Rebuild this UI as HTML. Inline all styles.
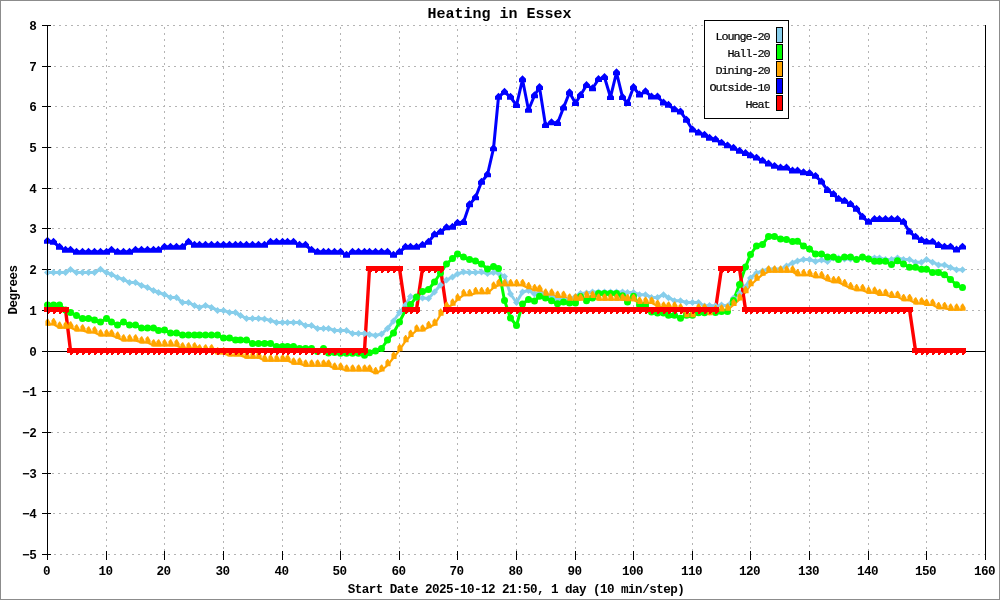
<!DOCTYPE html><html><head><meta charset="utf-8"><style>html,body{margin:0;padding:0;background:#fff;}svg{display:block;will-change:transform}</style></head><body>
<svg width="1000" height="600" viewBox="0 0 1000 600">
<rect x="0" y="0" width="1000" height="600" fill="#fff"/>
<rect x="0.5" y="0.5" width="999" height="599" fill="none" stroke="#8c8c8c" stroke-width="1"/>
<path d="M53 25h2v1h-2ZM59 25h2v1h-2ZM65 25h2v1h-2ZM71 25h2v1h-2ZM77 25h2v1h-2ZM83 25h2v1h-2ZM89 25h2v1h-2ZM95 25h2v1h-2ZM101 25h2v1h-2ZM107 25h2v1h-2ZM113 25h2v1h-2ZM119 25h2v1h-2ZM125 25h2v1h-2ZM131 25h2v1h-2ZM137 25h2v1h-2ZM143 25h2v1h-2ZM149 25h2v1h-2ZM155 25h2v1h-2ZM161 25h2v1h-2ZM167 25h2v1h-2ZM173 25h2v1h-2ZM179 25h2v1h-2ZM185 25h2v1h-2ZM191 25h2v1h-2ZM197 25h2v1h-2ZM203 25h2v1h-2ZM209 25h2v1h-2ZM215 25h2v1h-2ZM221 25h2v1h-2ZM227 25h2v1h-2ZM233 25h2v1h-2ZM239 25h2v1h-2ZM245 25h2v1h-2ZM251 25h2v1h-2ZM257 25h2v1h-2ZM263 25h2v1h-2ZM269 25h2v1h-2ZM275 25h2v1h-2ZM281 25h2v1h-2ZM287 25h2v1h-2ZM293 25h2v1h-2ZM299 25h2v1h-2ZM305 25h2v1h-2ZM311 25h2v1h-2ZM317 25h2v1h-2ZM323 25h2v1h-2ZM329 25h2v1h-2ZM335 25h2v1h-2ZM341 25h2v1h-2ZM347 25h2v1h-2ZM353 25h2v1h-2ZM359 25h2v1h-2ZM365 25h2v1h-2ZM371 25h2v1h-2ZM377 25h2v1h-2ZM383 25h2v1h-2ZM389 25h2v1h-2ZM395 25h2v1h-2ZM401 25h2v1h-2ZM407 25h2v1h-2ZM413 25h2v1h-2ZM419 25h2v1h-2ZM425 25h2v1h-2ZM431 25h2v1h-2ZM437 25h2v1h-2ZM443 25h2v1h-2ZM449 25h2v1h-2ZM455 25h2v1h-2ZM461 25h2v1h-2ZM467 25h2v1h-2ZM473 25h2v1h-2ZM479 25h2v1h-2ZM485 25h2v1h-2ZM491 25h2v1h-2ZM497 25h2v1h-2ZM503 25h2v1h-2ZM509 25h2v1h-2ZM515 25h2v1h-2ZM521 25h2v1h-2ZM527 25h2v1h-2ZM533 25h2v1h-2ZM539 25h2v1h-2ZM545 25h2v1h-2ZM551 25h2v1h-2ZM557 25h2v1h-2ZM563 25h2v1h-2ZM569 25h2v1h-2ZM575 25h2v1h-2ZM581 25h2v1h-2ZM587 25h2v1h-2ZM593 25h2v1h-2ZM599 25h2v1h-2ZM605 25h2v1h-2ZM611 25h2v1h-2ZM617 25h2v1h-2ZM623 25h2v1h-2ZM629 25h2v1h-2ZM635 25h2v1h-2ZM641 25h2v1h-2ZM647 25h2v1h-2ZM653 25h2v1h-2ZM659 25h2v1h-2ZM665 25h2v1h-2ZM671 25h2v1h-2ZM677 25h2v1h-2ZM683 25h2v1h-2ZM689 25h2v1h-2ZM695 25h2v1h-2ZM701 25h2v1h-2ZM707 25h2v1h-2ZM713 25h2v1h-2ZM719 25h2v1h-2ZM725 25h2v1h-2ZM731 25h2v1h-2ZM737 25h2v1h-2ZM743 25h2v1h-2ZM749 25h2v1h-2ZM755 25h2v1h-2ZM761 25h2v1h-2ZM767 25h2v1h-2ZM773 25h2v1h-2ZM779 25h2v1h-2ZM785 25h2v1h-2ZM791 25h2v1h-2ZM797 25h2v1h-2ZM803 25h2v1h-2ZM809 25h2v1h-2ZM815 25h2v1h-2ZM821 25h2v1h-2ZM827 25h2v1h-2ZM833 25h2v1h-2ZM839 25h2v1h-2ZM845 25h2v1h-2ZM851 25h2v1h-2ZM857 25h2v1h-2ZM863 25h2v1h-2ZM869 25h2v1h-2ZM875 25h2v1h-2ZM881 25h2v1h-2ZM887 25h2v1h-2ZM893 25h2v1h-2ZM899 25h2v1h-2ZM905 25h2v1h-2ZM911 25h2v1h-2ZM917 25h2v1h-2ZM923 25h2v1h-2ZM929 25h2v1h-2ZM935 25h2v1h-2ZM941 25h2v1h-2ZM947 25h2v1h-2ZM953 25h2v1h-2ZM959 25h2v1h-2ZM965 25h2v1h-2ZM971 25h2v1h-2ZM977 25h2v1h-2ZM983 25h2v1h-2ZM48 66h2v1h-2ZM54 66h2v1h-2ZM60 66h2v1h-2ZM66 66h2v1h-2ZM72 66h2v1h-2ZM78 66h2v1h-2ZM84 66h2v1h-2ZM90 66h2v1h-2ZM96 66h2v1h-2ZM102 66h2v1h-2ZM108 66h2v1h-2ZM114 66h2v1h-2ZM120 66h2v1h-2ZM126 66h2v1h-2ZM132 66h2v1h-2ZM138 66h2v1h-2ZM144 66h2v1h-2ZM150 66h2v1h-2ZM156 66h2v1h-2ZM162 66h2v1h-2ZM168 66h2v1h-2ZM174 66h2v1h-2ZM180 66h2v1h-2ZM186 66h2v1h-2ZM192 66h2v1h-2ZM198 66h2v1h-2ZM204 66h2v1h-2ZM210 66h2v1h-2ZM216 66h2v1h-2ZM222 66h2v1h-2ZM228 66h2v1h-2ZM234 66h2v1h-2ZM240 66h2v1h-2ZM246 66h2v1h-2ZM252 66h2v1h-2ZM258 66h2v1h-2ZM264 66h2v1h-2ZM270 66h2v1h-2ZM276 66h2v1h-2ZM282 66h2v1h-2ZM288 66h2v1h-2ZM294 66h2v1h-2ZM300 66h2v1h-2ZM306 66h2v1h-2ZM312 66h2v1h-2ZM318 66h2v1h-2ZM324 66h2v1h-2ZM330 66h2v1h-2ZM336 66h2v1h-2ZM342 66h2v1h-2ZM348 66h2v1h-2ZM354 66h2v1h-2ZM360 66h2v1h-2ZM366 66h2v1h-2ZM372 66h2v1h-2ZM378 66h2v1h-2ZM384 66h2v1h-2ZM390 66h2v1h-2ZM396 66h2v1h-2ZM402 66h2v1h-2ZM408 66h2v1h-2ZM414 66h2v1h-2ZM420 66h2v1h-2ZM426 66h2v1h-2ZM432 66h2v1h-2ZM438 66h2v1h-2ZM444 66h2v1h-2ZM450 66h2v1h-2ZM456 66h2v1h-2ZM462 66h2v1h-2ZM468 66h2v1h-2ZM474 66h2v1h-2ZM480 66h2v1h-2ZM486 66h2v1h-2ZM492 66h2v1h-2ZM498 66h2v1h-2ZM504 66h2v1h-2ZM510 66h2v1h-2ZM516 66h2v1h-2ZM522 66h2v1h-2ZM528 66h2v1h-2ZM534 66h2v1h-2ZM540 66h2v1h-2ZM546 66h2v1h-2ZM552 66h2v1h-2ZM558 66h2v1h-2ZM564 66h2v1h-2ZM570 66h2v1h-2ZM576 66h2v1h-2ZM582 66h2v1h-2ZM588 66h2v1h-2ZM594 66h2v1h-2ZM600 66h2v1h-2ZM606 66h2v1h-2ZM612 66h2v1h-2ZM618 66h2v1h-2ZM624 66h2v1h-2ZM630 66h2v1h-2ZM636 66h2v1h-2ZM642 66h2v1h-2ZM648 66h2v1h-2ZM654 66h2v1h-2ZM660 66h2v1h-2ZM666 66h2v1h-2ZM672 66h2v1h-2ZM678 66h2v1h-2ZM684 66h2v1h-2ZM690 66h2v1h-2ZM696 66h2v1h-2ZM702 66h2v1h-2ZM708 66h2v1h-2ZM714 66h2v1h-2ZM720 66h2v1h-2ZM726 66h2v1h-2ZM732 66h2v1h-2ZM738 66h2v1h-2ZM744 66h2v1h-2ZM750 66h2v1h-2ZM756 66h2v1h-2ZM762 66h2v1h-2ZM768 66h2v1h-2ZM774 66h2v1h-2ZM780 66h2v1h-2ZM786 66h2v1h-2ZM792 66h2v1h-2ZM798 66h2v1h-2ZM804 66h2v1h-2ZM810 66h2v1h-2ZM816 66h2v1h-2ZM822 66h2v1h-2ZM828 66h2v1h-2ZM834 66h2v1h-2ZM840 66h2v1h-2ZM846 66h2v1h-2ZM852 66h2v1h-2ZM858 66h2v1h-2ZM864 66h2v1h-2ZM870 66h2v1h-2ZM876 66h2v1h-2ZM882 66h2v1h-2ZM888 66h2v1h-2ZM894 66h2v1h-2ZM900 66h2v1h-2ZM906 66h2v1h-2ZM912 66h2v1h-2ZM918 66h2v1h-2ZM924 66h2v1h-2ZM930 66h2v1h-2ZM936 66h2v1h-2ZM942 66h2v1h-2ZM948 66h2v1h-2ZM954 66h2v1h-2ZM960 66h2v1h-2ZM966 66h2v1h-2ZM972 66h2v1h-2ZM978 66h2v1h-2ZM984 66h2v1h-2ZM49 106h2v1h-2ZM55 106h2v1h-2ZM61 106h2v1h-2ZM67 106h2v1h-2ZM73 106h2v1h-2ZM79 106h2v1h-2ZM85 106h2v1h-2ZM91 106h2v1h-2ZM97 106h2v1h-2ZM103 106h2v1h-2ZM109 106h2v1h-2ZM115 106h2v1h-2ZM121 106h2v1h-2ZM127 106h2v1h-2ZM133 106h2v1h-2ZM139 106h2v1h-2ZM145 106h2v1h-2ZM151 106h2v1h-2ZM157 106h2v1h-2ZM163 106h2v1h-2ZM169 106h2v1h-2ZM175 106h2v1h-2ZM181 106h2v1h-2ZM187 106h2v1h-2ZM193 106h2v1h-2ZM199 106h2v1h-2ZM205 106h2v1h-2ZM211 106h2v1h-2ZM217 106h2v1h-2ZM223 106h2v1h-2ZM229 106h2v1h-2ZM235 106h2v1h-2ZM241 106h2v1h-2ZM247 106h2v1h-2ZM253 106h2v1h-2ZM259 106h2v1h-2ZM265 106h2v1h-2ZM271 106h2v1h-2ZM277 106h2v1h-2ZM283 106h2v1h-2ZM289 106h2v1h-2ZM295 106h2v1h-2ZM301 106h2v1h-2ZM307 106h2v1h-2ZM313 106h2v1h-2ZM319 106h2v1h-2ZM325 106h2v1h-2ZM331 106h2v1h-2ZM337 106h2v1h-2ZM343 106h2v1h-2ZM349 106h2v1h-2ZM355 106h2v1h-2ZM361 106h2v1h-2ZM367 106h2v1h-2ZM373 106h2v1h-2ZM379 106h2v1h-2ZM385 106h2v1h-2ZM391 106h2v1h-2ZM397 106h2v1h-2ZM403 106h2v1h-2ZM409 106h2v1h-2ZM415 106h2v1h-2ZM421 106h2v1h-2ZM427 106h2v1h-2ZM433 106h2v1h-2ZM439 106h2v1h-2ZM445 106h2v1h-2ZM451 106h2v1h-2ZM457 106h2v1h-2ZM463 106h2v1h-2ZM469 106h2v1h-2ZM475 106h2v1h-2ZM481 106h2v1h-2ZM487 106h2v1h-2ZM493 106h2v1h-2ZM499 106h2v1h-2ZM505 106h2v1h-2ZM511 106h2v1h-2ZM517 106h2v1h-2ZM523 106h2v1h-2ZM529 106h2v1h-2ZM535 106h2v1h-2ZM541 106h2v1h-2ZM547 106h2v1h-2ZM553 106h2v1h-2ZM559 106h2v1h-2ZM565 106h2v1h-2ZM571 106h2v1h-2ZM577 106h2v1h-2ZM583 106h2v1h-2ZM589 106h2v1h-2ZM595 106h2v1h-2ZM601 106h2v1h-2ZM607 106h2v1h-2ZM613 106h2v1h-2ZM619 106h2v1h-2ZM625 106h2v1h-2ZM631 106h2v1h-2ZM637 106h2v1h-2ZM643 106h2v1h-2ZM649 106h2v1h-2ZM655 106h2v1h-2ZM661 106h2v1h-2ZM667 106h2v1h-2ZM673 106h2v1h-2ZM679 106h2v1h-2ZM685 106h2v1h-2ZM691 106h2v1h-2ZM697 106h2v1h-2ZM703 106h2v1h-2ZM709 106h2v1h-2ZM715 106h2v1h-2ZM721 106h2v1h-2ZM727 106h2v1h-2ZM733 106h2v1h-2ZM739 106h2v1h-2ZM745 106h2v1h-2ZM751 106h2v1h-2ZM757 106h2v1h-2ZM763 106h2v1h-2ZM769 106h2v1h-2ZM775 106h2v1h-2ZM781 106h2v1h-2ZM787 106h2v1h-2ZM793 106h2v1h-2ZM799 106h2v1h-2ZM805 106h2v1h-2ZM811 106h2v1h-2ZM817 106h2v1h-2ZM823 106h2v1h-2ZM829 106h2v1h-2ZM835 106h2v1h-2ZM841 106h2v1h-2ZM847 106h2v1h-2ZM853 106h2v1h-2ZM859 106h2v1h-2ZM865 106h2v1h-2ZM871 106h2v1h-2ZM877 106h2v1h-2ZM883 106h2v1h-2ZM889 106h2v1h-2ZM895 106h2v1h-2ZM901 106h2v1h-2ZM907 106h2v1h-2ZM913 106h2v1h-2ZM919 106h2v1h-2ZM925 106h2v1h-2ZM931 106h2v1h-2ZM937 106h2v1h-2ZM943 106h2v1h-2ZM949 106h2v1h-2ZM955 106h2v1h-2ZM961 106h2v1h-2ZM967 106h2v1h-2ZM973 106h2v1h-2ZM979 106h2v1h-2ZM50 147h2v1h-2ZM56 147h2v1h-2ZM62 147h2v1h-2ZM68 147h2v1h-2ZM74 147h2v1h-2ZM80 147h2v1h-2ZM86 147h2v1h-2ZM92 147h2v1h-2ZM98 147h2v1h-2ZM104 147h2v1h-2ZM110 147h2v1h-2ZM116 147h2v1h-2ZM122 147h2v1h-2ZM128 147h2v1h-2ZM134 147h2v1h-2ZM140 147h2v1h-2ZM146 147h2v1h-2ZM152 147h2v1h-2ZM158 147h2v1h-2ZM164 147h2v1h-2ZM170 147h2v1h-2ZM176 147h2v1h-2ZM182 147h2v1h-2ZM188 147h2v1h-2ZM194 147h2v1h-2ZM200 147h2v1h-2ZM206 147h2v1h-2ZM212 147h2v1h-2ZM218 147h2v1h-2ZM224 147h2v1h-2ZM230 147h2v1h-2ZM236 147h2v1h-2ZM242 147h2v1h-2ZM248 147h2v1h-2ZM254 147h2v1h-2ZM260 147h2v1h-2ZM266 147h2v1h-2ZM272 147h2v1h-2ZM278 147h2v1h-2ZM284 147h2v1h-2ZM290 147h2v1h-2ZM296 147h2v1h-2ZM302 147h2v1h-2ZM308 147h2v1h-2ZM314 147h2v1h-2ZM320 147h2v1h-2ZM326 147h2v1h-2ZM332 147h2v1h-2ZM338 147h2v1h-2ZM344 147h2v1h-2ZM350 147h2v1h-2ZM356 147h2v1h-2ZM362 147h2v1h-2ZM368 147h2v1h-2ZM374 147h2v1h-2ZM380 147h2v1h-2ZM386 147h2v1h-2ZM392 147h2v1h-2ZM398 147h2v1h-2ZM404 147h2v1h-2ZM410 147h2v1h-2ZM416 147h2v1h-2ZM422 147h2v1h-2ZM428 147h2v1h-2ZM434 147h2v1h-2ZM440 147h2v1h-2ZM446 147h2v1h-2ZM452 147h2v1h-2ZM458 147h2v1h-2ZM464 147h2v1h-2ZM470 147h2v1h-2ZM476 147h2v1h-2ZM482 147h2v1h-2ZM488 147h2v1h-2ZM494 147h2v1h-2ZM500 147h2v1h-2ZM506 147h2v1h-2ZM512 147h2v1h-2ZM518 147h2v1h-2ZM524 147h2v1h-2ZM530 147h2v1h-2ZM536 147h2v1h-2ZM542 147h2v1h-2ZM548 147h2v1h-2ZM554 147h2v1h-2ZM560 147h2v1h-2ZM566 147h2v1h-2ZM572 147h2v1h-2ZM578 147h2v1h-2ZM584 147h2v1h-2ZM590 147h2v1h-2ZM596 147h2v1h-2ZM602 147h2v1h-2ZM608 147h2v1h-2ZM614 147h2v1h-2ZM620 147h2v1h-2ZM626 147h2v1h-2ZM632 147h2v1h-2ZM638 147h2v1h-2ZM644 147h2v1h-2ZM650 147h2v1h-2ZM656 147h2v1h-2ZM662 147h2v1h-2ZM668 147h2v1h-2ZM674 147h2v1h-2ZM680 147h2v1h-2ZM686 147h2v1h-2ZM692 147h2v1h-2ZM698 147h2v1h-2ZM704 147h2v1h-2ZM710 147h2v1h-2ZM716 147h2v1h-2ZM722 147h2v1h-2ZM728 147h2v1h-2ZM734 147h2v1h-2ZM740 147h2v1h-2ZM746 147h2v1h-2ZM752 147h2v1h-2ZM758 147h2v1h-2ZM764 147h2v1h-2ZM770 147h2v1h-2ZM776 147h2v1h-2ZM782 147h2v1h-2ZM788 147h2v1h-2ZM794 147h2v1h-2ZM800 147h2v1h-2ZM806 147h2v1h-2ZM812 147h2v1h-2ZM818 147h2v1h-2ZM824 147h2v1h-2ZM830 147h2v1h-2ZM836 147h2v1h-2ZM842 147h2v1h-2ZM848 147h2v1h-2ZM854 147h2v1h-2ZM860 147h2v1h-2ZM866 147h2v1h-2ZM872 147h2v1h-2ZM878 147h2v1h-2ZM884 147h2v1h-2ZM890 147h2v1h-2ZM896 147h2v1h-2ZM902 147h2v1h-2ZM908 147h2v1h-2ZM914 147h2v1h-2ZM920 147h2v1h-2ZM926 147h2v1h-2ZM932 147h2v1h-2ZM938 147h2v1h-2ZM944 147h2v1h-2ZM950 147h2v1h-2ZM956 147h2v1h-2ZM962 147h2v1h-2ZM968 147h2v1h-2ZM974 147h2v1h-2ZM980 147h2v1h-2ZM51 188h2v1h-2ZM57 188h2v1h-2ZM63 188h2v1h-2ZM69 188h2v1h-2ZM75 188h2v1h-2ZM81 188h2v1h-2ZM87 188h2v1h-2ZM93 188h2v1h-2ZM99 188h2v1h-2ZM105 188h2v1h-2ZM111 188h2v1h-2ZM117 188h2v1h-2ZM123 188h2v1h-2ZM129 188h2v1h-2ZM135 188h2v1h-2ZM141 188h2v1h-2ZM147 188h2v1h-2ZM153 188h2v1h-2ZM159 188h2v1h-2ZM165 188h2v1h-2ZM171 188h2v1h-2ZM177 188h2v1h-2ZM183 188h2v1h-2ZM189 188h2v1h-2ZM195 188h2v1h-2ZM201 188h2v1h-2ZM207 188h2v1h-2ZM213 188h2v1h-2ZM219 188h2v1h-2ZM225 188h2v1h-2ZM231 188h2v1h-2ZM237 188h2v1h-2ZM243 188h2v1h-2ZM249 188h2v1h-2ZM255 188h2v1h-2ZM261 188h2v1h-2ZM267 188h2v1h-2ZM273 188h2v1h-2ZM279 188h2v1h-2ZM285 188h2v1h-2ZM291 188h2v1h-2ZM297 188h2v1h-2ZM303 188h2v1h-2ZM309 188h2v1h-2ZM315 188h2v1h-2ZM321 188h2v1h-2ZM327 188h2v1h-2ZM333 188h2v1h-2ZM339 188h2v1h-2ZM345 188h2v1h-2ZM351 188h2v1h-2ZM357 188h2v1h-2ZM363 188h2v1h-2ZM369 188h2v1h-2ZM375 188h2v1h-2ZM381 188h2v1h-2ZM387 188h2v1h-2ZM393 188h2v1h-2ZM399 188h2v1h-2ZM405 188h2v1h-2ZM411 188h2v1h-2ZM417 188h2v1h-2ZM423 188h2v1h-2ZM429 188h2v1h-2ZM435 188h2v1h-2ZM441 188h2v1h-2ZM447 188h2v1h-2ZM453 188h2v1h-2ZM459 188h2v1h-2ZM465 188h2v1h-2ZM471 188h2v1h-2ZM477 188h2v1h-2ZM483 188h2v1h-2ZM489 188h2v1h-2ZM495 188h2v1h-2ZM501 188h2v1h-2ZM507 188h2v1h-2ZM513 188h2v1h-2ZM519 188h2v1h-2ZM525 188h2v1h-2ZM531 188h2v1h-2ZM537 188h2v1h-2ZM543 188h2v1h-2ZM549 188h2v1h-2ZM555 188h2v1h-2ZM561 188h2v1h-2ZM567 188h2v1h-2ZM573 188h2v1h-2ZM579 188h2v1h-2ZM585 188h2v1h-2ZM591 188h2v1h-2ZM597 188h2v1h-2ZM603 188h2v1h-2ZM609 188h2v1h-2ZM615 188h2v1h-2ZM621 188h2v1h-2ZM627 188h2v1h-2ZM633 188h2v1h-2ZM639 188h2v1h-2ZM645 188h2v1h-2ZM651 188h2v1h-2ZM657 188h2v1h-2ZM663 188h2v1h-2ZM669 188h2v1h-2ZM675 188h2v1h-2ZM681 188h2v1h-2ZM687 188h2v1h-2ZM693 188h2v1h-2ZM699 188h2v1h-2ZM705 188h2v1h-2ZM711 188h2v1h-2ZM717 188h2v1h-2ZM723 188h2v1h-2ZM729 188h2v1h-2ZM735 188h2v1h-2ZM741 188h2v1h-2ZM747 188h2v1h-2ZM753 188h2v1h-2ZM759 188h2v1h-2ZM765 188h2v1h-2ZM771 188h2v1h-2ZM777 188h2v1h-2ZM783 188h2v1h-2ZM789 188h2v1h-2ZM795 188h2v1h-2ZM801 188h2v1h-2ZM807 188h2v1h-2ZM813 188h2v1h-2ZM819 188h2v1h-2ZM825 188h2v1h-2ZM831 188h2v1h-2ZM837 188h2v1h-2ZM843 188h2v1h-2ZM849 188h2v1h-2ZM855 188h2v1h-2ZM861 188h2v1h-2ZM867 188h2v1h-2ZM873 188h2v1h-2ZM879 188h2v1h-2ZM885 188h2v1h-2ZM891 188h2v1h-2ZM897 188h2v1h-2ZM903 188h2v1h-2ZM909 188h2v1h-2ZM915 188h2v1h-2ZM921 188h2v1h-2ZM927 188h2v1h-2ZM933 188h2v1h-2ZM939 188h2v1h-2ZM945 188h2v1h-2ZM951 188h2v1h-2ZM957 188h2v1h-2ZM963 188h2v1h-2ZM969 188h2v1h-2ZM975 188h2v1h-2ZM981 188h2v1h-2ZM52 228h2v1h-2ZM58 228h2v1h-2ZM64 228h2v1h-2ZM70 228h2v1h-2ZM76 228h2v1h-2ZM82 228h2v1h-2ZM88 228h2v1h-2ZM94 228h2v1h-2ZM100 228h2v1h-2ZM106 228h2v1h-2ZM112 228h2v1h-2ZM118 228h2v1h-2ZM124 228h2v1h-2ZM130 228h2v1h-2ZM136 228h2v1h-2ZM142 228h2v1h-2ZM148 228h2v1h-2ZM154 228h2v1h-2ZM160 228h2v1h-2ZM166 228h2v1h-2ZM172 228h2v1h-2ZM178 228h2v1h-2ZM184 228h2v1h-2ZM190 228h2v1h-2ZM196 228h2v1h-2ZM202 228h2v1h-2ZM208 228h2v1h-2ZM214 228h2v1h-2ZM220 228h2v1h-2ZM226 228h2v1h-2ZM232 228h2v1h-2ZM238 228h2v1h-2ZM244 228h2v1h-2ZM250 228h2v1h-2ZM256 228h2v1h-2ZM262 228h2v1h-2ZM268 228h2v1h-2ZM274 228h2v1h-2ZM280 228h2v1h-2ZM286 228h2v1h-2ZM292 228h2v1h-2ZM298 228h2v1h-2ZM304 228h2v1h-2ZM310 228h2v1h-2ZM316 228h2v1h-2ZM322 228h2v1h-2ZM328 228h2v1h-2ZM334 228h2v1h-2ZM340 228h2v1h-2ZM346 228h2v1h-2ZM352 228h2v1h-2ZM358 228h2v1h-2ZM364 228h2v1h-2ZM370 228h2v1h-2ZM376 228h2v1h-2ZM382 228h2v1h-2ZM388 228h2v1h-2ZM394 228h2v1h-2ZM400 228h2v1h-2ZM406 228h2v1h-2ZM412 228h2v1h-2ZM418 228h2v1h-2ZM424 228h2v1h-2ZM430 228h2v1h-2ZM436 228h2v1h-2ZM442 228h2v1h-2ZM448 228h2v1h-2ZM454 228h2v1h-2ZM460 228h2v1h-2ZM466 228h2v1h-2ZM472 228h2v1h-2ZM478 228h2v1h-2ZM484 228h2v1h-2ZM490 228h2v1h-2ZM496 228h2v1h-2ZM502 228h2v1h-2ZM508 228h2v1h-2ZM514 228h2v1h-2ZM520 228h2v1h-2ZM526 228h2v1h-2ZM532 228h2v1h-2ZM538 228h2v1h-2ZM544 228h2v1h-2ZM550 228h2v1h-2ZM556 228h2v1h-2ZM562 228h2v1h-2ZM568 228h2v1h-2ZM574 228h2v1h-2ZM580 228h2v1h-2ZM586 228h2v1h-2ZM592 228h2v1h-2ZM598 228h2v1h-2ZM604 228h2v1h-2ZM610 228h2v1h-2ZM616 228h2v1h-2ZM622 228h2v1h-2ZM628 228h2v1h-2ZM634 228h2v1h-2ZM640 228h2v1h-2ZM646 228h2v1h-2ZM652 228h2v1h-2ZM658 228h2v1h-2ZM664 228h2v1h-2ZM670 228h2v1h-2ZM676 228h2v1h-2ZM682 228h2v1h-2ZM688 228h2v1h-2ZM694 228h2v1h-2ZM700 228h2v1h-2ZM706 228h2v1h-2ZM712 228h2v1h-2ZM718 228h2v1h-2ZM724 228h2v1h-2ZM730 228h2v1h-2ZM736 228h2v1h-2ZM742 228h2v1h-2ZM748 228h2v1h-2ZM754 228h2v1h-2ZM760 228h2v1h-2ZM766 228h2v1h-2ZM772 228h2v1h-2ZM778 228h2v1h-2ZM784 228h2v1h-2ZM790 228h2v1h-2ZM796 228h2v1h-2ZM802 228h2v1h-2ZM808 228h2v1h-2ZM814 228h2v1h-2ZM820 228h2v1h-2ZM826 228h2v1h-2ZM832 228h2v1h-2ZM838 228h2v1h-2ZM844 228h2v1h-2ZM850 228h2v1h-2ZM856 228h2v1h-2ZM862 228h2v1h-2ZM868 228h2v1h-2ZM874 228h2v1h-2ZM880 228h2v1h-2ZM886 228h2v1h-2ZM892 228h2v1h-2ZM898 228h2v1h-2ZM904 228h2v1h-2ZM910 228h2v1h-2ZM916 228h2v1h-2ZM922 228h2v1h-2ZM928 228h2v1h-2ZM934 228h2v1h-2ZM940 228h2v1h-2ZM946 228h2v1h-2ZM952 228h2v1h-2ZM958 228h2v1h-2ZM964 228h2v1h-2ZM970 228h2v1h-2ZM976 228h2v1h-2ZM982 228h2v1h-2ZM53 269h2v1h-2ZM59 269h2v1h-2ZM65 269h2v1h-2ZM71 269h2v1h-2ZM77 269h2v1h-2ZM83 269h2v1h-2ZM89 269h2v1h-2ZM95 269h2v1h-2ZM101 269h2v1h-2ZM107 269h2v1h-2ZM113 269h2v1h-2ZM119 269h2v1h-2ZM125 269h2v1h-2ZM131 269h2v1h-2ZM137 269h2v1h-2ZM143 269h2v1h-2ZM149 269h2v1h-2ZM155 269h2v1h-2ZM161 269h2v1h-2ZM167 269h2v1h-2ZM173 269h2v1h-2ZM179 269h2v1h-2ZM185 269h2v1h-2ZM191 269h2v1h-2ZM197 269h2v1h-2ZM203 269h2v1h-2ZM209 269h2v1h-2ZM215 269h2v1h-2ZM221 269h2v1h-2ZM227 269h2v1h-2ZM233 269h2v1h-2ZM239 269h2v1h-2ZM245 269h2v1h-2ZM251 269h2v1h-2ZM257 269h2v1h-2ZM263 269h2v1h-2ZM269 269h2v1h-2ZM275 269h2v1h-2ZM281 269h2v1h-2ZM287 269h2v1h-2ZM293 269h2v1h-2ZM299 269h2v1h-2ZM305 269h2v1h-2ZM311 269h2v1h-2ZM317 269h2v1h-2ZM323 269h2v1h-2ZM329 269h2v1h-2ZM335 269h2v1h-2ZM341 269h2v1h-2ZM347 269h2v1h-2ZM353 269h2v1h-2ZM359 269h2v1h-2ZM365 269h2v1h-2ZM371 269h2v1h-2ZM377 269h2v1h-2ZM383 269h2v1h-2ZM389 269h2v1h-2ZM395 269h2v1h-2ZM401 269h2v1h-2ZM407 269h2v1h-2ZM413 269h2v1h-2ZM419 269h2v1h-2ZM425 269h2v1h-2ZM431 269h2v1h-2ZM437 269h2v1h-2ZM443 269h2v1h-2ZM449 269h2v1h-2ZM455 269h2v1h-2ZM461 269h2v1h-2ZM467 269h2v1h-2ZM473 269h2v1h-2ZM479 269h2v1h-2ZM485 269h2v1h-2ZM491 269h2v1h-2ZM497 269h2v1h-2ZM503 269h2v1h-2ZM509 269h2v1h-2ZM515 269h2v1h-2ZM521 269h2v1h-2ZM527 269h2v1h-2ZM533 269h2v1h-2ZM539 269h2v1h-2ZM545 269h2v1h-2ZM551 269h2v1h-2ZM557 269h2v1h-2ZM563 269h2v1h-2ZM569 269h2v1h-2ZM575 269h2v1h-2ZM581 269h2v1h-2ZM587 269h2v1h-2ZM593 269h2v1h-2ZM599 269h2v1h-2ZM605 269h2v1h-2ZM611 269h2v1h-2ZM617 269h2v1h-2ZM623 269h2v1h-2ZM629 269h2v1h-2ZM635 269h2v1h-2ZM641 269h2v1h-2ZM647 269h2v1h-2ZM653 269h2v1h-2ZM659 269h2v1h-2ZM665 269h2v1h-2ZM671 269h2v1h-2ZM677 269h2v1h-2ZM683 269h2v1h-2ZM689 269h2v1h-2ZM695 269h2v1h-2ZM701 269h2v1h-2ZM707 269h2v1h-2ZM713 269h2v1h-2ZM719 269h2v1h-2ZM725 269h2v1h-2ZM731 269h2v1h-2ZM737 269h2v1h-2ZM743 269h2v1h-2ZM749 269h2v1h-2ZM755 269h2v1h-2ZM761 269h2v1h-2ZM767 269h2v1h-2ZM773 269h2v1h-2ZM779 269h2v1h-2ZM785 269h2v1h-2ZM791 269h2v1h-2ZM797 269h2v1h-2ZM803 269h2v1h-2ZM809 269h2v1h-2ZM815 269h2v1h-2ZM821 269h2v1h-2ZM827 269h2v1h-2ZM833 269h2v1h-2ZM839 269h2v1h-2ZM845 269h2v1h-2ZM851 269h2v1h-2ZM857 269h2v1h-2ZM863 269h2v1h-2ZM869 269h2v1h-2ZM875 269h2v1h-2ZM881 269h2v1h-2ZM887 269h2v1h-2ZM893 269h2v1h-2ZM899 269h2v1h-2ZM905 269h2v1h-2ZM911 269h2v1h-2ZM917 269h2v1h-2ZM923 269h2v1h-2ZM929 269h2v1h-2ZM935 269h2v1h-2ZM941 269h2v1h-2ZM947 269h2v1h-2ZM953 269h2v1h-2ZM959 269h2v1h-2ZM965 269h2v1h-2ZM971 269h2v1h-2ZM977 269h2v1h-2ZM983 269h2v1h-2ZM48 310h2v1h-2ZM54 310h2v1h-2ZM60 310h2v1h-2ZM66 310h2v1h-2ZM72 310h2v1h-2ZM78 310h2v1h-2ZM84 310h2v1h-2ZM90 310h2v1h-2ZM96 310h2v1h-2ZM102 310h2v1h-2ZM108 310h2v1h-2ZM114 310h2v1h-2ZM120 310h2v1h-2ZM126 310h2v1h-2ZM132 310h2v1h-2ZM138 310h2v1h-2ZM144 310h2v1h-2ZM150 310h2v1h-2ZM156 310h2v1h-2ZM162 310h2v1h-2ZM168 310h2v1h-2ZM174 310h2v1h-2ZM180 310h2v1h-2ZM186 310h2v1h-2ZM192 310h2v1h-2ZM198 310h2v1h-2ZM204 310h2v1h-2ZM210 310h2v1h-2ZM216 310h2v1h-2ZM222 310h2v1h-2ZM228 310h2v1h-2ZM234 310h2v1h-2ZM240 310h2v1h-2ZM246 310h2v1h-2ZM252 310h2v1h-2ZM258 310h2v1h-2ZM264 310h2v1h-2ZM270 310h2v1h-2ZM276 310h2v1h-2ZM282 310h2v1h-2ZM288 310h2v1h-2ZM294 310h2v1h-2ZM300 310h2v1h-2ZM306 310h2v1h-2ZM312 310h2v1h-2ZM318 310h2v1h-2ZM324 310h2v1h-2ZM330 310h2v1h-2ZM336 310h2v1h-2ZM342 310h2v1h-2ZM348 310h2v1h-2ZM354 310h2v1h-2ZM360 310h2v1h-2ZM366 310h2v1h-2ZM372 310h2v1h-2ZM378 310h2v1h-2ZM384 310h2v1h-2ZM390 310h2v1h-2ZM396 310h2v1h-2ZM402 310h2v1h-2ZM408 310h2v1h-2ZM414 310h2v1h-2ZM420 310h2v1h-2ZM426 310h2v1h-2ZM432 310h2v1h-2ZM438 310h2v1h-2ZM444 310h2v1h-2ZM450 310h2v1h-2ZM456 310h2v1h-2ZM462 310h2v1h-2ZM468 310h2v1h-2ZM474 310h2v1h-2ZM480 310h2v1h-2ZM486 310h2v1h-2ZM492 310h2v1h-2ZM498 310h2v1h-2ZM504 310h2v1h-2ZM510 310h2v1h-2ZM516 310h2v1h-2ZM522 310h2v1h-2ZM528 310h2v1h-2ZM534 310h2v1h-2ZM540 310h2v1h-2ZM546 310h2v1h-2ZM552 310h2v1h-2ZM558 310h2v1h-2ZM564 310h2v1h-2ZM570 310h2v1h-2ZM576 310h2v1h-2ZM582 310h2v1h-2ZM588 310h2v1h-2ZM594 310h2v1h-2ZM600 310h2v1h-2ZM606 310h2v1h-2ZM612 310h2v1h-2ZM618 310h2v1h-2ZM624 310h2v1h-2ZM630 310h2v1h-2ZM636 310h2v1h-2ZM642 310h2v1h-2ZM648 310h2v1h-2ZM654 310h2v1h-2ZM660 310h2v1h-2ZM666 310h2v1h-2ZM672 310h2v1h-2ZM678 310h2v1h-2ZM684 310h2v1h-2ZM690 310h2v1h-2ZM696 310h2v1h-2ZM702 310h2v1h-2ZM708 310h2v1h-2ZM714 310h2v1h-2ZM720 310h2v1h-2ZM726 310h2v1h-2ZM732 310h2v1h-2ZM738 310h2v1h-2ZM744 310h2v1h-2ZM750 310h2v1h-2ZM756 310h2v1h-2ZM762 310h2v1h-2ZM768 310h2v1h-2ZM774 310h2v1h-2ZM780 310h2v1h-2ZM786 310h2v1h-2ZM792 310h2v1h-2ZM798 310h2v1h-2ZM804 310h2v1h-2ZM810 310h2v1h-2ZM816 310h2v1h-2ZM822 310h2v1h-2ZM828 310h2v1h-2ZM834 310h2v1h-2ZM840 310h2v1h-2ZM846 310h2v1h-2ZM852 310h2v1h-2ZM858 310h2v1h-2ZM864 310h2v1h-2ZM870 310h2v1h-2ZM876 310h2v1h-2ZM882 310h2v1h-2ZM888 310h2v1h-2ZM894 310h2v1h-2ZM900 310h2v1h-2ZM906 310h2v1h-2ZM912 310h2v1h-2ZM918 310h2v1h-2ZM924 310h2v1h-2ZM930 310h2v1h-2ZM936 310h2v1h-2ZM942 310h2v1h-2ZM948 310h2v1h-2ZM954 310h2v1h-2ZM960 310h2v1h-2ZM966 310h2v1h-2ZM972 310h2v1h-2ZM978 310h2v1h-2ZM984 310h2v1h-2ZM50 391h2v1h-2ZM56 391h2v1h-2ZM62 391h2v1h-2ZM68 391h2v1h-2ZM74 391h2v1h-2ZM80 391h2v1h-2ZM86 391h2v1h-2ZM92 391h2v1h-2ZM98 391h2v1h-2ZM104 391h2v1h-2ZM110 391h2v1h-2ZM116 391h2v1h-2ZM122 391h2v1h-2ZM128 391h2v1h-2ZM134 391h2v1h-2ZM140 391h2v1h-2ZM146 391h2v1h-2ZM152 391h2v1h-2ZM158 391h2v1h-2ZM164 391h2v1h-2ZM170 391h2v1h-2ZM176 391h2v1h-2ZM182 391h2v1h-2ZM188 391h2v1h-2ZM194 391h2v1h-2ZM200 391h2v1h-2ZM206 391h2v1h-2ZM212 391h2v1h-2ZM218 391h2v1h-2ZM224 391h2v1h-2ZM230 391h2v1h-2ZM236 391h2v1h-2ZM242 391h2v1h-2ZM248 391h2v1h-2ZM254 391h2v1h-2ZM260 391h2v1h-2ZM266 391h2v1h-2ZM272 391h2v1h-2ZM278 391h2v1h-2ZM284 391h2v1h-2ZM290 391h2v1h-2ZM296 391h2v1h-2ZM302 391h2v1h-2ZM308 391h2v1h-2ZM314 391h2v1h-2ZM320 391h2v1h-2ZM326 391h2v1h-2ZM332 391h2v1h-2ZM338 391h2v1h-2ZM344 391h2v1h-2ZM350 391h2v1h-2ZM356 391h2v1h-2ZM362 391h2v1h-2ZM368 391h2v1h-2ZM374 391h2v1h-2ZM380 391h2v1h-2ZM386 391h2v1h-2ZM392 391h2v1h-2ZM398 391h2v1h-2ZM404 391h2v1h-2ZM410 391h2v1h-2ZM416 391h2v1h-2ZM422 391h2v1h-2ZM428 391h2v1h-2ZM434 391h2v1h-2ZM440 391h2v1h-2ZM446 391h2v1h-2ZM452 391h2v1h-2ZM458 391h2v1h-2ZM464 391h2v1h-2ZM470 391h2v1h-2ZM476 391h2v1h-2ZM482 391h2v1h-2ZM488 391h2v1h-2ZM494 391h2v1h-2ZM500 391h2v1h-2ZM506 391h2v1h-2ZM512 391h2v1h-2ZM518 391h2v1h-2ZM524 391h2v1h-2ZM530 391h2v1h-2ZM536 391h2v1h-2ZM542 391h2v1h-2ZM548 391h2v1h-2ZM554 391h2v1h-2ZM560 391h2v1h-2ZM566 391h2v1h-2ZM572 391h2v1h-2ZM578 391h2v1h-2ZM584 391h2v1h-2ZM590 391h2v1h-2ZM596 391h2v1h-2ZM602 391h2v1h-2ZM608 391h2v1h-2ZM614 391h2v1h-2ZM620 391h2v1h-2ZM626 391h2v1h-2ZM632 391h2v1h-2ZM638 391h2v1h-2ZM644 391h2v1h-2ZM650 391h2v1h-2ZM656 391h2v1h-2ZM662 391h2v1h-2ZM668 391h2v1h-2ZM674 391h2v1h-2ZM680 391h2v1h-2ZM686 391h2v1h-2ZM692 391h2v1h-2ZM698 391h2v1h-2ZM704 391h2v1h-2ZM710 391h2v1h-2ZM716 391h2v1h-2ZM722 391h2v1h-2ZM728 391h2v1h-2ZM734 391h2v1h-2ZM740 391h2v1h-2ZM746 391h2v1h-2ZM752 391h2v1h-2ZM758 391h2v1h-2ZM764 391h2v1h-2ZM770 391h2v1h-2ZM776 391h2v1h-2ZM782 391h2v1h-2ZM788 391h2v1h-2ZM794 391h2v1h-2ZM800 391h2v1h-2ZM806 391h2v1h-2ZM812 391h2v1h-2ZM818 391h2v1h-2ZM824 391h2v1h-2ZM830 391h2v1h-2ZM836 391h2v1h-2ZM842 391h2v1h-2ZM848 391h2v1h-2ZM854 391h2v1h-2ZM860 391h2v1h-2ZM866 391h2v1h-2ZM872 391h2v1h-2ZM878 391h2v1h-2ZM884 391h2v1h-2ZM890 391h2v1h-2ZM896 391h2v1h-2ZM902 391h2v1h-2ZM908 391h2v1h-2ZM914 391h2v1h-2ZM920 391h2v1h-2ZM926 391h2v1h-2ZM932 391h2v1h-2ZM938 391h2v1h-2ZM944 391h2v1h-2ZM950 391h2v1h-2ZM956 391h2v1h-2ZM962 391h2v1h-2ZM968 391h2v1h-2ZM974 391h2v1h-2ZM980 391h2v1h-2ZM51 432h2v1h-2ZM57 432h2v1h-2ZM63 432h2v1h-2ZM69 432h2v1h-2ZM75 432h2v1h-2ZM81 432h2v1h-2ZM87 432h2v1h-2ZM93 432h2v1h-2ZM99 432h2v1h-2ZM105 432h2v1h-2ZM111 432h2v1h-2ZM117 432h2v1h-2ZM123 432h2v1h-2ZM129 432h2v1h-2ZM135 432h2v1h-2ZM141 432h2v1h-2ZM147 432h2v1h-2ZM153 432h2v1h-2ZM159 432h2v1h-2ZM165 432h2v1h-2ZM171 432h2v1h-2ZM177 432h2v1h-2ZM183 432h2v1h-2ZM189 432h2v1h-2ZM195 432h2v1h-2ZM201 432h2v1h-2ZM207 432h2v1h-2ZM213 432h2v1h-2ZM219 432h2v1h-2ZM225 432h2v1h-2ZM231 432h2v1h-2ZM237 432h2v1h-2ZM243 432h2v1h-2ZM249 432h2v1h-2ZM255 432h2v1h-2ZM261 432h2v1h-2ZM267 432h2v1h-2ZM273 432h2v1h-2ZM279 432h2v1h-2ZM285 432h2v1h-2ZM291 432h2v1h-2ZM297 432h2v1h-2ZM303 432h2v1h-2ZM309 432h2v1h-2ZM315 432h2v1h-2ZM321 432h2v1h-2ZM327 432h2v1h-2ZM333 432h2v1h-2ZM339 432h2v1h-2ZM345 432h2v1h-2ZM351 432h2v1h-2ZM357 432h2v1h-2ZM363 432h2v1h-2ZM369 432h2v1h-2ZM375 432h2v1h-2ZM381 432h2v1h-2ZM387 432h2v1h-2ZM393 432h2v1h-2ZM399 432h2v1h-2ZM405 432h2v1h-2ZM411 432h2v1h-2ZM417 432h2v1h-2ZM423 432h2v1h-2ZM429 432h2v1h-2ZM435 432h2v1h-2ZM441 432h2v1h-2ZM447 432h2v1h-2ZM453 432h2v1h-2ZM459 432h2v1h-2ZM465 432h2v1h-2ZM471 432h2v1h-2ZM477 432h2v1h-2ZM483 432h2v1h-2ZM489 432h2v1h-2ZM495 432h2v1h-2ZM501 432h2v1h-2ZM507 432h2v1h-2ZM513 432h2v1h-2ZM519 432h2v1h-2ZM525 432h2v1h-2ZM531 432h2v1h-2ZM537 432h2v1h-2ZM543 432h2v1h-2ZM549 432h2v1h-2ZM555 432h2v1h-2ZM561 432h2v1h-2ZM567 432h2v1h-2ZM573 432h2v1h-2ZM579 432h2v1h-2ZM585 432h2v1h-2ZM591 432h2v1h-2ZM597 432h2v1h-2ZM603 432h2v1h-2ZM609 432h2v1h-2ZM615 432h2v1h-2ZM621 432h2v1h-2ZM627 432h2v1h-2ZM633 432h2v1h-2ZM639 432h2v1h-2ZM645 432h2v1h-2ZM651 432h2v1h-2ZM657 432h2v1h-2ZM663 432h2v1h-2ZM669 432h2v1h-2ZM675 432h2v1h-2ZM681 432h2v1h-2ZM687 432h2v1h-2ZM693 432h2v1h-2ZM699 432h2v1h-2ZM705 432h2v1h-2ZM711 432h2v1h-2ZM717 432h2v1h-2ZM723 432h2v1h-2ZM729 432h2v1h-2ZM735 432h2v1h-2ZM741 432h2v1h-2ZM747 432h2v1h-2ZM753 432h2v1h-2ZM759 432h2v1h-2ZM765 432h2v1h-2ZM771 432h2v1h-2ZM777 432h2v1h-2ZM783 432h2v1h-2ZM789 432h2v1h-2ZM795 432h2v1h-2ZM801 432h2v1h-2ZM807 432h2v1h-2ZM813 432h2v1h-2ZM819 432h2v1h-2ZM825 432h2v1h-2ZM831 432h2v1h-2ZM837 432h2v1h-2ZM843 432h2v1h-2ZM849 432h2v1h-2ZM855 432h2v1h-2ZM861 432h2v1h-2ZM867 432h2v1h-2ZM873 432h2v1h-2ZM879 432h2v1h-2ZM885 432h2v1h-2ZM891 432h2v1h-2ZM897 432h2v1h-2ZM903 432h2v1h-2ZM909 432h2v1h-2ZM915 432h2v1h-2ZM921 432h2v1h-2ZM927 432h2v1h-2ZM933 432h2v1h-2ZM939 432h2v1h-2ZM945 432h2v1h-2ZM951 432h2v1h-2ZM957 432h2v1h-2ZM963 432h2v1h-2ZM969 432h2v1h-2ZM975 432h2v1h-2ZM981 432h2v1h-2ZM52 473h2v1h-2ZM58 473h2v1h-2ZM64 473h2v1h-2ZM70 473h2v1h-2ZM76 473h2v1h-2ZM82 473h2v1h-2ZM88 473h2v1h-2ZM94 473h2v1h-2ZM100 473h2v1h-2ZM106 473h2v1h-2ZM112 473h2v1h-2ZM118 473h2v1h-2ZM124 473h2v1h-2ZM130 473h2v1h-2ZM136 473h2v1h-2ZM142 473h2v1h-2ZM148 473h2v1h-2ZM154 473h2v1h-2ZM160 473h2v1h-2ZM166 473h2v1h-2ZM172 473h2v1h-2ZM178 473h2v1h-2ZM184 473h2v1h-2ZM190 473h2v1h-2ZM196 473h2v1h-2ZM202 473h2v1h-2ZM208 473h2v1h-2ZM214 473h2v1h-2ZM220 473h2v1h-2ZM226 473h2v1h-2ZM232 473h2v1h-2ZM238 473h2v1h-2ZM244 473h2v1h-2ZM250 473h2v1h-2ZM256 473h2v1h-2ZM262 473h2v1h-2ZM268 473h2v1h-2ZM274 473h2v1h-2ZM280 473h2v1h-2ZM286 473h2v1h-2ZM292 473h2v1h-2ZM298 473h2v1h-2ZM304 473h2v1h-2ZM310 473h2v1h-2ZM316 473h2v1h-2ZM322 473h2v1h-2ZM328 473h2v1h-2ZM334 473h2v1h-2ZM340 473h2v1h-2ZM346 473h2v1h-2ZM352 473h2v1h-2ZM358 473h2v1h-2ZM364 473h2v1h-2ZM370 473h2v1h-2ZM376 473h2v1h-2ZM382 473h2v1h-2ZM388 473h2v1h-2ZM394 473h2v1h-2ZM400 473h2v1h-2ZM406 473h2v1h-2ZM412 473h2v1h-2ZM418 473h2v1h-2ZM424 473h2v1h-2ZM430 473h2v1h-2ZM436 473h2v1h-2ZM442 473h2v1h-2ZM448 473h2v1h-2ZM454 473h2v1h-2ZM460 473h2v1h-2ZM466 473h2v1h-2ZM472 473h2v1h-2ZM478 473h2v1h-2ZM484 473h2v1h-2ZM490 473h2v1h-2ZM496 473h2v1h-2ZM502 473h2v1h-2ZM508 473h2v1h-2ZM514 473h2v1h-2ZM520 473h2v1h-2ZM526 473h2v1h-2ZM532 473h2v1h-2ZM538 473h2v1h-2ZM544 473h2v1h-2ZM550 473h2v1h-2ZM556 473h2v1h-2ZM562 473h2v1h-2ZM568 473h2v1h-2ZM574 473h2v1h-2ZM580 473h2v1h-2ZM586 473h2v1h-2ZM592 473h2v1h-2ZM598 473h2v1h-2ZM604 473h2v1h-2ZM610 473h2v1h-2ZM616 473h2v1h-2ZM622 473h2v1h-2ZM628 473h2v1h-2ZM634 473h2v1h-2ZM640 473h2v1h-2ZM646 473h2v1h-2ZM652 473h2v1h-2ZM658 473h2v1h-2ZM664 473h2v1h-2ZM670 473h2v1h-2ZM676 473h2v1h-2ZM682 473h2v1h-2ZM688 473h2v1h-2ZM694 473h2v1h-2ZM700 473h2v1h-2ZM706 473h2v1h-2ZM712 473h2v1h-2ZM718 473h2v1h-2ZM724 473h2v1h-2ZM730 473h2v1h-2ZM736 473h2v1h-2ZM742 473h2v1h-2ZM748 473h2v1h-2ZM754 473h2v1h-2ZM760 473h2v1h-2ZM766 473h2v1h-2ZM772 473h2v1h-2ZM778 473h2v1h-2ZM784 473h2v1h-2ZM790 473h2v1h-2ZM796 473h2v1h-2ZM802 473h2v1h-2ZM808 473h2v1h-2ZM814 473h2v1h-2ZM820 473h2v1h-2ZM826 473h2v1h-2ZM832 473h2v1h-2ZM838 473h2v1h-2ZM844 473h2v1h-2ZM850 473h2v1h-2ZM856 473h2v1h-2ZM862 473h2v1h-2ZM868 473h2v1h-2ZM874 473h2v1h-2ZM880 473h2v1h-2ZM886 473h2v1h-2ZM892 473h2v1h-2ZM898 473h2v1h-2ZM904 473h2v1h-2ZM910 473h2v1h-2ZM916 473h2v1h-2ZM922 473h2v1h-2ZM928 473h2v1h-2ZM934 473h2v1h-2ZM940 473h2v1h-2ZM946 473h2v1h-2ZM952 473h2v1h-2ZM958 473h2v1h-2ZM964 473h2v1h-2ZM970 473h2v1h-2ZM976 473h2v1h-2ZM982 473h2v1h-2ZM53 513h2v1h-2ZM59 513h2v1h-2ZM65 513h2v1h-2ZM71 513h2v1h-2ZM77 513h2v1h-2ZM83 513h2v1h-2ZM89 513h2v1h-2ZM95 513h2v1h-2ZM101 513h2v1h-2ZM107 513h2v1h-2ZM113 513h2v1h-2ZM119 513h2v1h-2ZM125 513h2v1h-2ZM131 513h2v1h-2ZM137 513h2v1h-2ZM143 513h2v1h-2ZM149 513h2v1h-2ZM155 513h2v1h-2ZM161 513h2v1h-2ZM167 513h2v1h-2ZM173 513h2v1h-2ZM179 513h2v1h-2ZM185 513h2v1h-2ZM191 513h2v1h-2ZM197 513h2v1h-2ZM203 513h2v1h-2ZM209 513h2v1h-2ZM215 513h2v1h-2ZM221 513h2v1h-2ZM227 513h2v1h-2ZM233 513h2v1h-2ZM239 513h2v1h-2ZM245 513h2v1h-2ZM251 513h2v1h-2ZM257 513h2v1h-2ZM263 513h2v1h-2ZM269 513h2v1h-2ZM275 513h2v1h-2ZM281 513h2v1h-2ZM287 513h2v1h-2ZM293 513h2v1h-2ZM299 513h2v1h-2ZM305 513h2v1h-2ZM311 513h2v1h-2ZM317 513h2v1h-2ZM323 513h2v1h-2ZM329 513h2v1h-2ZM335 513h2v1h-2ZM341 513h2v1h-2ZM347 513h2v1h-2ZM353 513h2v1h-2ZM359 513h2v1h-2ZM365 513h2v1h-2ZM371 513h2v1h-2ZM377 513h2v1h-2ZM383 513h2v1h-2ZM389 513h2v1h-2ZM395 513h2v1h-2ZM401 513h2v1h-2ZM407 513h2v1h-2ZM413 513h2v1h-2ZM419 513h2v1h-2ZM425 513h2v1h-2ZM431 513h2v1h-2ZM437 513h2v1h-2ZM443 513h2v1h-2ZM449 513h2v1h-2ZM455 513h2v1h-2ZM461 513h2v1h-2ZM467 513h2v1h-2ZM473 513h2v1h-2ZM479 513h2v1h-2ZM485 513h2v1h-2ZM491 513h2v1h-2ZM497 513h2v1h-2ZM503 513h2v1h-2ZM509 513h2v1h-2ZM515 513h2v1h-2ZM521 513h2v1h-2ZM527 513h2v1h-2ZM533 513h2v1h-2ZM539 513h2v1h-2ZM545 513h2v1h-2ZM551 513h2v1h-2ZM557 513h2v1h-2ZM563 513h2v1h-2ZM569 513h2v1h-2ZM575 513h2v1h-2ZM581 513h2v1h-2ZM587 513h2v1h-2ZM593 513h2v1h-2ZM599 513h2v1h-2ZM605 513h2v1h-2ZM611 513h2v1h-2ZM617 513h2v1h-2ZM623 513h2v1h-2ZM629 513h2v1h-2ZM635 513h2v1h-2ZM641 513h2v1h-2ZM647 513h2v1h-2ZM653 513h2v1h-2ZM659 513h2v1h-2ZM665 513h2v1h-2ZM671 513h2v1h-2ZM677 513h2v1h-2ZM683 513h2v1h-2ZM689 513h2v1h-2ZM695 513h2v1h-2ZM701 513h2v1h-2ZM707 513h2v1h-2ZM713 513h2v1h-2ZM719 513h2v1h-2ZM725 513h2v1h-2ZM731 513h2v1h-2ZM737 513h2v1h-2ZM743 513h2v1h-2ZM749 513h2v1h-2ZM755 513h2v1h-2ZM761 513h2v1h-2ZM767 513h2v1h-2ZM773 513h2v1h-2ZM779 513h2v1h-2ZM785 513h2v1h-2ZM791 513h2v1h-2ZM797 513h2v1h-2ZM803 513h2v1h-2ZM809 513h2v1h-2ZM815 513h2v1h-2ZM821 513h2v1h-2ZM827 513h2v1h-2ZM833 513h2v1h-2ZM839 513h2v1h-2ZM845 513h2v1h-2ZM851 513h2v1h-2ZM857 513h2v1h-2ZM863 513h2v1h-2ZM869 513h2v1h-2ZM875 513h2v1h-2ZM881 513h2v1h-2ZM887 513h2v1h-2ZM893 513h2v1h-2ZM899 513h2v1h-2ZM905 513h2v1h-2ZM911 513h2v1h-2ZM917 513h2v1h-2ZM923 513h2v1h-2ZM929 513h2v1h-2ZM935 513h2v1h-2ZM941 513h2v1h-2ZM947 513h2v1h-2ZM953 513h2v1h-2ZM959 513h2v1h-2ZM965 513h2v1h-2ZM971 513h2v1h-2ZM977 513h2v1h-2ZM983 513h2v1h-2ZM48 554h2v1h-2ZM54 554h2v1h-2ZM60 554h2v1h-2ZM66 554h2v1h-2ZM72 554h2v1h-2ZM78 554h2v1h-2ZM84 554h2v1h-2ZM90 554h2v1h-2ZM96 554h2v1h-2ZM102 554h2v1h-2ZM108 554h2v1h-2ZM114 554h2v1h-2ZM120 554h2v1h-2ZM126 554h2v1h-2ZM132 554h2v1h-2ZM138 554h2v1h-2ZM144 554h2v1h-2ZM150 554h2v1h-2ZM156 554h2v1h-2ZM162 554h2v1h-2ZM168 554h2v1h-2ZM174 554h2v1h-2ZM180 554h2v1h-2ZM186 554h2v1h-2ZM192 554h2v1h-2ZM198 554h2v1h-2ZM204 554h2v1h-2ZM210 554h2v1h-2ZM216 554h2v1h-2ZM222 554h2v1h-2ZM228 554h2v1h-2ZM234 554h2v1h-2ZM240 554h2v1h-2ZM246 554h2v1h-2ZM252 554h2v1h-2ZM258 554h2v1h-2ZM264 554h2v1h-2ZM270 554h2v1h-2ZM276 554h2v1h-2ZM282 554h2v1h-2ZM288 554h2v1h-2ZM294 554h2v1h-2ZM300 554h2v1h-2ZM306 554h2v1h-2ZM312 554h2v1h-2ZM318 554h2v1h-2ZM324 554h2v1h-2ZM330 554h2v1h-2ZM336 554h2v1h-2ZM342 554h2v1h-2ZM348 554h2v1h-2ZM354 554h2v1h-2ZM360 554h2v1h-2ZM366 554h2v1h-2ZM372 554h2v1h-2ZM378 554h2v1h-2ZM384 554h2v1h-2ZM390 554h2v1h-2ZM396 554h2v1h-2ZM402 554h2v1h-2ZM408 554h2v1h-2ZM414 554h2v1h-2ZM420 554h2v1h-2ZM426 554h2v1h-2ZM432 554h2v1h-2ZM438 554h2v1h-2ZM444 554h2v1h-2ZM450 554h2v1h-2ZM456 554h2v1h-2ZM462 554h2v1h-2ZM468 554h2v1h-2ZM474 554h2v1h-2ZM480 554h2v1h-2ZM486 554h2v1h-2ZM492 554h2v1h-2ZM498 554h2v1h-2ZM504 554h2v1h-2ZM510 554h2v1h-2ZM516 554h2v1h-2ZM522 554h2v1h-2ZM528 554h2v1h-2ZM534 554h2v1h-2ZM540 554h2v1h-2ZM546 554h2v1h-2ZM552 554h2v1h-2ZM558 554h2v1h-2ZM564 554h2v1h-2ZM570 554h2v1h-2ZM576 554h2v1h-2ZM582 554h2v1h-2ZM588 554h2v1h-2ZM594 554h2v1h-2ZM600 554h2v1h-2ZM606 554h2v1h-2ZM612 554h2v1h-2ZM618 554h2v1h-2ZM624 554h2v1h-2ZM630 554h2v1h-2ZM636 554h2v1h-2ZM642 554h2v1h-2ZM648 554h2v1h-2ZM654 554h2v1h-2ZM660 554h2v1h-2ZM666 554h2v1h-2ZM672 554h2v1h-2ZM678 554h2v1h-2ZM684 554h2v1h-2ZM690 554h2v1h-2ZM696 554h2v1h-2ZM702 554h2v1h-2ZM708 554h2v1h-2ZM714 554h2v1h-2ZM720 554h2v1h-2ZM726 554h2v1h-2ZM732 554h2v1h-2ZM738 554h2v1h-2ZM744 554h2v1h-2ZM750 554h2v1h-2ZM756 554h2v1h-2ZM762 554h2v1h-2ZM768 554h2v1h-2ZM774 554h2v1h-2ZM780 554h2v1h-2ZM786 554h2v1h-2ZM792 554h2v1h-2ZM798 554h2v1h-2ZM804 554h2v1h-2ZM810 554h2v1h-2ZM816 554h2v1h-2ZM822 554h2v1h-2ZM828 554h2v1h-2ZM834 554h2v1h-2ZM840 554h2v1h-2ZM846 554h2v1h-2ZM852 554h2v1h-2ZM858 554h2v1h-2ZM864 554h2v1h-2ZM870 554h2v1h-2ZM876 554h2v1h-2ZM882 554h2v1h-2ZM888 554h2v1h-2ZM894 554h2v1h-2ZM900 554h2v1h-2ZM906 554h2v1h-2ZM912 554h2v1h-2ZM918 554h2v1h-2ZM924 554h2v1h-2ZM930 554h2v1h-2ZM936 554h2v1h-2ZM942 554h2v1h-2ZM948 554h2v1h-2ZM954 554h2v1h-2ZM960 554h2v1h-2ZM966 554h2v1h-2ZM972 554h2v1h-2ZM978 554h2v1h-2ZM984 554h2v1h-2ZM106 29h1v2h-1ZM106 35h1v2h-1ZM106 41h1v2h-1ZM106 47h1v2h-1ZM106 53h1v2h-1ZM106 59h1v2h-1ZM106 65h1v2h-1ZM106 71h1v2h-1ZM106 77h1v2h-1ZM106 83h1v2h-1ZM106 89h1v2h-1ZM106 95h1v2h-1ZM106 101h1v2h-1ZM106 107h1v2h-1ZM106 113h1v2h-1ZM106 119h1v2h-1ZM106 125h1v2h-1ZM106 131h1v2h-1ZM106 137h1v2h-1ZM106 143h1v2h-1ZM106 149h1v2h-1ZM106 155h1v2h-1ZM106 161h1v2h-1ZM106 167h1v2h-1ZM106 173h1v2h-1ZM106 179h1v2h-1ZM106 185h1v2h-1ZM106 191h1v2h-1ZM106 197h1v2h-1ZM106 203h1v2h-1ZM106 209h1v2h-1ZM106 215h1v2h-1ZM106 221h1v2h-1ZM106 227h1v2h-1ZM106 233h1v2h-1ZM106 239h1v2h-1ZM106 245h1v2h-1ZM106 251h1v2h-1ZM106 257h1v2h-1ZM106 263h1v2h-1ZM106 269h1v2h-1ZM106 275h1v2h-1ZM106 281h1v2h-1ZM106 287h1v2h-1ZM106 293h1v2h-1ZM106 299h1v2h-1ZM106 305h1v2h-1ZM106 311h1v2h-1ZM106 317h1v2h-1ZM106 323h1v2h-1ZM106 329h1v2h-1ZM106 335h1v2h-1ZM106 341h1v2h-1ZM106 347h1v2h-1ZM106 353h1v2h-1ZM106 359h1v2h-1ZM106 365h1v2h-1ZM106 371h1v2h-1ZM106 377h1v2h-1ZM106 383h1v2h-1ZM106 389h1v2h-1ZM106 395h1v2h-1ZM106 401h1v2h-1ZM106 407h1v2h-1ZM106 413h1v2h-1ZM106 419h1v2h-1ZM106 425h1v2h-1ZM106 431h1v2h-1ZM106 437h1v2h-1ZM106 443h1v2h-1ZM106 449h1v2h-1ZM106 455h1v2h-1ZM106 461h1v2h-1ZM106 467h1v2h-1ZM106 473h1v2h-1ZM106 479h1v2h-1ZM106 485h1v2h-1ZM106 491h1v2h-1ZM106 497h1v2h-1ZM106 503h1v2h-1ZM106 509h1v2h-1ZM106 515h1v2h-1ZM106 521h1v2h-1ZM106 527h1v2h-1ZM106 533h1v2h-1ZM106 539h1v2h-1ZM106 545h1v2h-1ZM106 551h1v2h-1ZM164 27h1v2h-1ZM164 33h1v2h-1ZM164 39h1v2h-1ZM164 45h1v2h-1ZM164 51h1v2h-1ZM164 57h1v2h-1ZM164 63h1v2h-1ZM164 69h1v2h-1ZM164 75h1v2h-1ZM164 81h1v2h-1ZM164 87h1v2h-1ZM164 93h1v2h-1ZM164 99h1v2h-1ZM164 105h1v2h-1ZM164 111h1v2h-1ZM164 117h1v2h-1ZM164 123h1v2h-1ZM164 129h1v2h-1ZM164 135h1v2h-1ZM164 141h1v2h-1ZM164 147h1v2h-1ZM164 153h1v2h-1ZM164 159h1v2h-1ZM164 165h1v2h-1ZM164 171h1v2h-1ZM164 177h1v2h-1ZM164 183h1v2h-1ZM164 189h1v2h-1ZM164 195h1v2h-1ZM164 201h1v2h-1ZM164 207h1v2h-1ZM164 213h1v2h-1ZM164 219h1v2h-1ZM164 225h1v2h-1ZM164 231h1v2h-1ZM164 237h1v2h-1ZM164 243h1v2h-1ZM164 249h1v2h-1ZM164 255h1v2h-1ZM164 261h1v2h-1ZM164 267h1v2h-1ZM164 273h1v2h-1ZM164 279h1v2h-1ZM164 285h1v2h-1ZM164 291h1v2h-1ZM164 297h1v2h-1ZM164 303h1v2h-1ZM164 309h1v2h-1ZM164 315h1v2h-1ZM164 321h1v2h-1ZM164 327h1v2h-1ZM164 333h1v2h-1ZM164 339h1v2h-1ZM164 345h1v2h-1ZM164 351h1v2h-1ZM164 357h1v2h-1ZM164 363h1v2h-1ZM164 369h1v2h-1ZM164 375h1v2h-1ZM164 381h1v2h-1ZM164 387h1v2h-1ZM164 393h1v2h-1ZM164 399h1v2h-1ZM164 405h1v2h-1ZM164 411h1v2h-1ZM164 417h1v2h-1ZM164 423h1v2h-1ZM164 429h1v2h-1ZM164 435h1v2h-1ZM164 441h1v2h-1ZM164 447h1v2h-1ZM164 453h1v2h-1ZM164 459h1v2h-1ZM164 465h1v2h-1ZM164 471h1v2h-1ZM164 477h1v2h-1ZM164 483h1v2h-1ZM164 489h1v2h-1ZM164 495h1v2h-1ZM164 501h1v2h-1ZM164 507h1v2h-1ZM164 513h1v2h-1ZM164 519h1v2h-1ZM164 525h1v2h-1ZM164 531h1v2h-1ZM164 537h1v2h-1ZM164 543h1v2h-1ZM164 549h1v2h-1ZM223 25h1v2h-1ZM223 31h1v2h-1ZM223 37h1v2h-1ZM223 43h1v2h-1ZM223 49h1v2h-1ZM223 55h1v2h-1ZM223 61h1v2h-1ZM223 67h1v2h-1ZM223 73h1v2h-1ZM223 79h1v2h-1ZM223 85h1v2h-1ZM223 91h1v2h-1ZM223 97h1v2h-1ZM223 103h1v2h-1ZM223 109h1v2h-1ZM223 115h1v2h-1ZM223 121h1v2h-1ZM223 127h1v2h-1ZM223 133h1v2h-1ZM223 139h1v2h-1ZM223 145h1v2h-1ZM223 151h1v2h-1ZM223 157h1v2h-1ZM223 163h1v2h-1ZM223 169h1v2h-1ZM223 175h1v2h-1ZM223 181h1v2h-1ZM223 187h1v2h-1ZM223 193h1v2h-1ZM223 199h1v2h-1ZM223 205h1v2h-1ZM223 211h1v2h-1ZM223 217h1v2h-1ZM223 223h1v2h-1ZM223 229h1v2h-1ZM223 235h1v2h-1ZM223 241h1v2h-1ZM223 247h1v2h-1ZM223 253h1v2h-1ZM223 259h1v2h-1ZM223 265h1v2h-1ZM223 271h1v2h-1ZM223 277h1v2h-1ZM223 283h1v2h-1ZM223 289h1v2h-1ZM223 295h1v2h-1ZM223 301h1v2h-1ZM223 307h1v2h-1ZM223 313h1v2h-1ZM223 319h1v2h-1ZM223 325h1v2h-1ZM223 331h1v2h-1ZM223 337h1v2h-1ZM223 343h1v2h-1ZM223 349h1v2h-1ZM223 355h1v2h-1ZM223 361h1v2h-1ZM223 367h1v2h-1ZM223 373h1v2h-1ZM223 379h1v2h-1ZM223 385h1v2h-1ZM223 391h1v2h-1ZM223 397h1v2h-1ZM223 403h1v2h-1ZM223 409h1v2h-1ZM223 415h1v2h-1ZM223 421h1v2h-1ZM223 427h1v2h-1ZM223 433h1v2h-1ZM223 439h1v2h-1ZM223 445h1v2h-1ZM223 451h1v2h-1ZM223 457h1v2h-1ZM223 463h1v2h-1ZM223 469h1v2h-1ZM223 475h1v2h-1ZM223 481h1v2h-1ZM223 487h1v2h-1ZM223 493h1v2h-1ZM223 499h1v2h-1ZM223 505h1v2h-1ZM223 511h1v2h-1ZM223 517h1v2h-1ZM223 523h1v2h-1ZM223 529h1v2h-1ZM223 535h1v2h-1ZM223 541h1v2h-1ZM223 547h1v2h-1ZM223 553h1v2h-1ZM282 29h1v2h-1ZM282 35h1v2h-1ZM282 41h1v2h-1ZM282 47h1v2h-1ZM282 53h1v2h-1ZM282 59h1v2h-1ZM282 65h1v2h-1ZM282 71h1v2h-1ZM282 77h1v2h-1ZM282 83h1v2h-1ZM282 89h1v2h-1ZM282 95h1v2h-1ZM282 101h1v2h-1ZM282 107h1v2h-1ZM282 113h1v2h-1ZM282 119h1v2h-1ZM282 125h1v2h-1ZM282 131h1v2h-1ZM282 137h1v2h-1ZM282 143h1v2h-1ZM282 149h1v2h-1ZM282 155h1v2h-1ZM282 161h1v2h-1ZM282 167h1v2h-1ZM282 173h1v2h-1ZM282 179h1v2h-1ZM282 185h1v2h-1ZM282 191h1v2h-1ZM282 197h1v2h-1ZM282 203h1v2h-1ZM282 209h1v2h-1ZM282 215h1v2h-1ZM282 221h1v2h-1ZM282 227h1v2h-1ZM282 233h1v2h-1ZM282 239h1v2h-1ZM282 245h1v2h-1ZM282 251h1v2h-1ZM282 257h1v2h-1ZM282 263h1v2h-1ZM282 269h1v2h-1ZM282 275h1v2h-1ZM282 281h1v2h-1ZM282 287h1v2h-1ZM282 293h1v2h-1ZM282 299h1v2h-1ZM282 305h1v2h-1ZM282 311h1v2h-1ZM282 317h1v2h-1ZM282 323h1v2h-1ZM282 329h1v2h-1ZM282 335h1v2h-1ZM282 341h1v2h-1ZM282 347h1v2h-1ZM282 353h1v2h-1ZM282 359h1v2h-1ZM282 365h1v2h-1ZM282 371h1v2h-1ZM282 377h1v2h-1ZM282 383h1v2h-1ZM282 389h1v2h-1ZM282 395h1v2h-1ZM282 401h1v2h-1ZM282 407h1v2h-1ZM282 413h1v2h-1ZM282 419h1v2h-1ZM282 425h1v2h-1ZM282 431h1v2h-1ZM282 437h1v2h-1ZM282 443h1v2h-1ZM282 449h1v2h-1ZM282 455h1v2h-1ZM282 461h1v2h-1ZM282 467h1v2h-1ZM282 473h1v2h-1ZM282 479h1v2h-1ZM282 485h1v2h-1ZM282 491h1v2h-1ZM282 497h1v2h-1ZM282 503h1v2h-1ZM282 509h1v2h-1ZM282 515h1v2h-1ZM282 521h1v2h-1ZM282 527h1v2h-1ZM282 533h1v2h-1ZM282 539h1v2h-1ZM282 545h1v2h-1ZM282 551h1v2h-1ZM340 27h1v2h-1ZM340 33h1v2h-1ZM340 39h1v2h-1ZM340 45h1v2h-1ZM340 51h1v2h-1ZM340 57h1v2h-1ZM340 63h1v2h-1ZM340 69h1v2h-1ZM340 75h1v2h-1ZM340 81h1v2h-1ZM340 87h1v2h-1ZM340 93h1v2h-1ZM340 99h1v2h-1ZM340 105h1v2h-1ZM340 111h1v2h-1ZM340 117h1v2h-1ZM340 123h1v2h-1ZM340 129h1v2h-1ZM340 135h1v2h-1ZM340 141h1v2h-1ZM340 147h1v2h-1ZM340 153h1v2h-1ZM340 159h1v2h-1ZM340 165h1v2h-1ZM340 171h1v2h-1ZM340 177h1v2h-1ZM340 183h1v2h-1ZM340 189h1v2h-1ZM340 195h1v2h-1ZM340 201h1v2h-1ZM340 207h1v2h-1ZM340 213h1v2h-1ZM340 219h1v2h-1ZM340 225h1v2h-1ZM340 231h1v2h-1ZM340 237h1v2h-1ZM340 243h1v2h-1ZM340 249h1v2h-1ZM340 255h1v2h-1ZM340 261h1v2h-1ZM340 267h1v2h-1ZM340 273h1v2h-1ZM340 279h1v2h-1ZM340 285h1v2h-1ZM340 291h1v2h-1ZM340 297h1v2h-1ZM340 303h1v2h-1ZM340 309h1v2h-1ZM340 315h1v2h-1ZM340 321h1v2h-1ZM340 327h1v2h-1ZM340 333h1v2h-1ZM340 339h1v2h-1ZM340 345h1v2h-1ZM340 351h1v2h-1ZM340 357h1v2h-1ZM340 363h1v2h-1ZM340 369h1v2h-1ZM340 375h1v2h-1ZM340 381h1v2h-1ZM340 387h1v2h-1ZM340 393h1v2h-1ZM340 399h1v2h-1ZM340 405h1v2h-1ZM340 411h1v2h-1ZM340 417h1v2h-1ZM340 423h1v2h-1ZM340 429h1v2h-1ZM340 435h1v2h-1ZM340 441h1v2h-1ZM340 447h1v2h-1ZM340 453h1v2h-1ZM340 459h1v2h-1ZM340 465h1v2h-1ZM340 471h1v2h-1ZM340 477h1v2h-1ZM340 483h1v2h-1ZM340 489h1v2h-1ZM340 495h1v2h-1ZM340 501h1v2h-1ZM340 507h1v2h-1ZM340 513h1v2h-1ZM340 519h1v2h-1ZM340 525h1v2h-1ZM340 531h1v2h-1ZM340 537h1v2h-1ZM340 543h1v2h-1ZM340 549h1v2h-1ZM399 25h1v2h-1ZM399 31h1v2h-1ZM399 37h1v2h-1ZM399 43h1v2h-1ZM399 49h1v2h-1ZM399 55h1v2h-1ZM399 61h1v2h-1ZM399 67h1v2h-1ZM399 73h1v2h-1ZM399 79h1v2h-1ZM399 85h1v2h-1ZM399 91h1v2h-1ZM399 97h1v2h-1ZM399 103h1v2h-1ZM399 109h1v2h-1ZM399 115h1v2h-1ZM399 121h1v2h-1ZM399 127h1v2h-1ZM399 133h1v2h-1ZM399 139h1v2h-1ZM399 145h1v2h-1ZM399 151h1v2h-1ZM399 157h1v2h-1ZM399 163h1v2h-1ZM399 169h1v2h-1ZM399 175h1v2h-1ZM399 181h1v2h-1ZM399 187h1v2h-1ZM399 193h1v2h-1ZM399 199h1v2h-1ZM399 205h1v2h-1ZM399 211h1v2h-1ZM399 217h1v2h-1ZM399 223h1v2h-1ZM399 229h1v2h-1ZM399 235h1v2h-1ZM399 241h1v2h-1ZM399 247h1v2h-1ZM399 253h1v2h-1ZM399 259h1v2h-1ZM399 265h1v2h-1ZM399 271h1v2h-1ZM399 277h1v2h-1ZM399 283h1v2h-1ZM399 289h1v2h-1ZM399 295h1v2h-1ZM399 301h1v2h-1ZM399 307h1v2h-1ZM399 313h1v2h-1ZM399 319h1v2h-1ZM399 325h1v2h-1ZM399 331h1v2h-1ZM399 337h1v2h-1ZM399 343h1v2h-1ZM399 349h1v2h-1ZM399 355h1v2h-1ZM399 361h1v2h-1ZM399 367h1v2h-1ZM399 373h1v2h-1ZM399 379h1v2h-1ZM399 385h1v2h-1ZM399 391h1v2h-1ZM399 397h1v2h-1ZM399 403h1v2h-1ZM399 409h1v2h-1ZM399 415h1v2h-1ZM399 421h1v2h-1ZM399 427h1v2h-1ZM399 433h1v2h-1ZM399 439h1v2h-1ZM399 445h1v2h-1ZM399 451h1v2h-1ZM399 457h1v2h-1ZM399 463h1v2h-1ZM399 469h1v2h-1ZM399 475h1v2h-1ZM399 481h1v2h-1ZM399 487h1v2h-1ZM399 493h1v2h-1ZM399 499h1v2h-1ZM399 505h1v2h-1ZM399 511h1v2h-1ZM399 517h1v2h-1ZM399 523h1v2h-1ZM399 529h1v2h-1ZM399 535h1v2h-1ZM399 541h1v2h-1ZM399 547h1v2h-1ZM399 553h1v2h-1ZM457 29h1v2h-1ZM457 35h1v2h-1ZM457 41h1v2h-1ZM457 47h1v2h-1ZM457 53h1v2h-1ZM457 59h1v2h-1ZM457 65h1v2h-1ZM457 71h1v2h-1ZM457 77h1v2h-1ZM457 83h1v2h-1ZM457 89h1v2h-1ZM457 95h1v2h-1ZM457 101h1v2h-1ZM457 107h1v2h-1ZM457 113h1v2h-1ZM457 119h1v2h-1ZM457 125h1v2h-1ZM457 131h1v2h-1ZM457 137h1v2h-1ZM457 143h1v2h-1ZM457 149h1v2h-1ZM457 155h1v2h-1ZM457 161h1v2h-1ZM457 167h1v2h-1ZM457 173h1v2h-1ZM457 179h1v2h-1ZM457 185h1v2h-1ZM457 191h1v2h-1ZM457 197h1v2h-1ZM457 203h1v2h-1ZM457 209h1v2h-1ZM457 215h1v2h-1ZM457 221h1v2h-1ZM457 227h1v2h-1ZM457 233h1v2h-1ZM457 239h1v2h-1ZM457 245h1v2h-1ZM457 251h1v2h-1ZM457 257h1v2h-1ZM457 263h1v2h-1ZM457 269h1v2h-1ZM457 275h1v2h-1ZM457 281h1v2h-1ZM457 287h1v2h-1ZM457 293h1v2h-1ZM457 299h1v2h-1ZM457 305h1v2h-1ZM457 311h1v2h-1ZM457 317h1v2h-1ZM457 323h1v2h-1ZM457 329h1v2h-1ZM457 335h1v2h-1ZM457 341h1v2h-1ZM457 347h1v2h-1ZM457 353h1v2h-1ZM457 359h1v2h-1ZM457 365h1v2h-1ZM457 371h1v2h-1ZM457 377h1v2h-1ZM457 383h1v2h-1ZM457 389h1v2h-1ZM457 395h1v2h-1ZM457 401h1v2h-1ZM457 407h1v2h-1ZM457 413h1v2h-1ZM457 419h1v2h-1ZM457 425h1v2h-1ZM457 431h1v2h-1ZM457 437h1v2h-1ZM457 443h1v2h-1ZM457 449h1v2h-1ZM457 455h1v2h-1ZM457 461h1v2h-1ZM457 467h1v2h-1ZM457 473h1v2h-1ZM457 479h1v2h-1ZM457 485h1v2h-1ZM457 491h1v2h-1ZM457 497h1v2h-1ZM457 503h1v2h-1ZM457 509h1v2h-1ZM457 515h1v2h-1ZM457 521h1v2h-1ZM457 527h1v2h-1ZM457 533h1v2h-1ZM457 539h1v2h-1ZM457 545h1v2h-1ZM457 551h1v2h-1ZM516 27h1v2h-1ZM516 33h1v2h-1ZM516 39h1v2h-1ZM516 45h1v2h-1ZM516 51h1v2h-1ZM516 57h1v2h-1ZM516 63h1v2h-1ZM516 69h1v2h-1ZM516 75h1v2h-1ZM516 81h1v2h-1ZM516 87h1v2h-1ZM516 93h1v2h-1ZM516 99h1v2h-1ZM516 105h1v2h-1ZM516 111h1v2h-1ZM516 117h1v2h-1ZM516 123h1v2h-1ZM516 129h1v2h-1ZM516 135h1v2h-1ZM516 141h1v2h-1ZM516 147h1v2h-1ZM516 153h1v2h-1ZM516 159h1v2h-1ZM516 165h1v2h-1ZM516 171h1v2h-1ZM516 177h1v2h-1ZM516 183h1v2h-1ZM516 189h1v2h-1ZM516 195h1v2h-1ZM516 201h1v2h-1ZM516 207h1v2h-1ZM516 213h1v2h-1ZM516 219h1v2h-1ZM516 225h1v2h-1ZM516 231h1v2h-1ZM516 237h1v2h-1ZM516 243h1v2h-1ZM516 249h1v2h-1ZM516 255h1v2h-1ZM516 261h1v2h-1ZM516 267h1v2h-1ZM516 273h1v2h-1ZM516 279h1v2h-1ZM516 285h1v2h-1ZM516 291h1v2h-1ZM516 297h1v2h-1ZM516 303h1v2h-1ZM516 309h1v2h-1ZM516 315h1v2h-1ZM516 321h1v2h-1ZM516 327h1v2h-1ZM516 333h1v2h-1ZM516 339h1v2h-1ZM516 345h1v2h-1ZM516 351h1v2h-1ZM516 357h1v2h-1ZM516 363h1v2h-1ZM516 369h1v2h-1ZM516 375h1v2h-1ZM516 381h1v2h-1ZM516 387h1v2h-1ZM516 393h1v2h-1ZM516 399h1v2h-1ZM516 405h1v2h-1ZM516 411h1v2h-1ZM516 417h1v2h-1ZM516 423h1v2h-1ZM516 429h1v2h-1ZM516 435h1v2h-1ZM516 441h1v2h-1ZM516 447h1v2h-1ZM516 453h1v2h-1ZM516 459h1v2h-1ZM516 465h1v2h-1ZM516 471h1v2h-1ZM516 477h1v2h-1ZM516 483h1v2h-1ZM516 489h1v2h-1ZM516 495h1v2h-1ZM516 501h1v2h-1ZM516 507h1v2h-1ZM516 513h1v2h-1ZM516 519h1v2h-1ZM516 525h1v2h-1ZM516 531h1v2h-1ZM516 537h1v2h-1ZM516 543h1v2h-1ZM516 549h1v2h-1ZM575 25h1v2h-1ZM575 31h1v2h-1ZM575 37h1v2h-1ZM575 43h1v2h-1ZM575 49h1v2h-1ZM575 55h1v2h-1ZM575 61h1v2h-1ZM575 67h1v2h-1ZM575 73h1v2h-1ZM575 79h1v2h-1ZM575 85h1v2h-1ZM575 91h1v2h-1ZM575 97h1v2h-1ZM575 103h1v2h-1ZM575 109h1v2h-1ZM575 115h1v2h-1ZM575 121h1v2h-1ZM575 127h1v2h-1ZM575 133h1v2h-1ZM575 139h1v2h-1ZM575 145h1v2h-1ZM575 151h1v2h-1ZM575 157h1v2h-1ZM575 163h1v2h-1ZM575 169h1v2h-1ZM575 175h1v2h-1ZM575 181h1v2h-1ZM575 187h1v2h-1ZM575 193h1v2h-1ZM575 199h1v2h-1ZM575 205h1v2h-1ZM575 211h1v2h-1ZM575 217h1v2h-1ZM575 223h1v2h-1ZM575 229h1v2h-1ZM575 235h1v2h-1ZM575 241h1v2h-1ZM575 247h1v2h-1ZM575 253h1v2h-1ZM575 259h1v2h-1ZM575 265h1v2h-1ZM575 271h1v2h-1ZM575 277h1v2h-1ZM575 283h1v2h-1ZM575 289h1v2h-1ZM575 295h1v2h-1ZM575 301h1v2h-1ZM575 307h1v2h-1ZM575 313h1v2h-1ZM575 319h1v2h-1ZM575 325h1v2h-1ZM575 331h1v2h-1ZM575 337h1v2h-1ZM575 343h1v2h-1ZM575 349h1v2h-1ZM575 355h1v2h-1ZM575 361h1v2h-1ZM575 367h1v2h-1ZM575 373h1v2h-1ZM575 379h1v2h-1ZM575 385h1v2h-1ZM575 391h1v2h-1ZM575 397h1v2h-1ZM575 403h1v2h-1ZM575 409h1v2h-1ZM575 415h1v2h-1ZM575 421h1v2h-1ZM575 427h1v2h-1ZM575 433h1v2h-1ZM575 439h1v2h-1ZM575 445h1v2h-1ZM575 451h1v2h-1ZM575 457h1v2h-1ZM575 463h1v2h-1ZM575 469h1v2h-1ZM575 475h1v2h-1ZM575 481h1v2h-1ZM575 487h1v2h-1ZM575 493h1v2h-1ZM575 499h1v2h-1ZM575 505h1v2h-1ZM575 511h1v2h-1ZM575 517h1v2h-1ZM575 523h1v2h-1ZM575 529h1v2h-1ZM575 535h1v2h-1ZM575 541h1v2h-1ZM575 547h1v2h-1ZM575 553h1v2h-1ZM633 29h1v2h-1ZM633 35h1v2h-1ZM633 41h1v2h-1ZM633 47h1v2h-1ZM633 53h1v2h-1ZM633 59h1v2h-1ZM633 65h1v2h-1ZM633 71h1v2h-1ZM633 77h1v2h-1ZM633 83h1v2h-1ZM633 89h1v2h-1ZM633 95h1v2h-1ZM633 101h1v2h-1ZM633 107h1v2h-1ZM633 113h1v2h-1ZM633 119h1v2h-1ZM633 125h1v2h-1ZM633 131h1v2h-1ZM633 137h1v2h-1ZM633 143h1v2h-1ZM633 149h1v2h-1ZM633 155h1v2h-1ZM633 161h1v2h-1ZM633 167h1v2h-1ZM633 173h1v2h-1ZM633 179h1v2h-1ZM633 185h1v2h-1ZM633 191h1v2h-1ZM633 197h1v2h-1ZM633 203h1v2h-1ZM633 209h1v2h-1ZM633 215h1v2h-1ZM633 221h1v2h-1ZM633 227h1v2h-1ZM633 233h1v2h-1ZM633 239h1v2h-1ZM633 245h1v2h-1ZM633 251h1v2h-1ZM633 257h1v2h-1ZM633 263h1v2h-1ZM633 269h1v2h-1ZM633 275h1v2h-1ZM633 281h1v2h-1ZM633 287h1v2h-1ZM633 293h1v2h-1ZM633 299h1v2h-1ZM633 305h1v2h-1ZM633 311h1v2h-1ZM633 317h1v2h-1ZM633 323h1v2h-1ZM633 329h1v2h-1ZM633 335h1v2h-1ZM633 341h1v2h-1ZM633 347h1v2h-1ZM633 353h1v2h-1ZM633 359h1v2h-1ZM633 365h1v2h-1ZM633 371h1v2h-1ZM633 377h1v2h-1ZM633 383h1v2h-1ZM633 389h1v2h-1ZM633 395h1v2h-1ZM633 401h1v2h-1ZM633 407h1v2h-1ZM633 413h1v2h-1ZM633 419h1v2h-1ZM633 425h1v2h-1ZM633 431h1v2h-1ZM633 437h1v2h-1ZM633 443h1v2h-1ZM633 449h1v2h-1ZM633 455h1v2h-1ZM633 461h1v2h-1ZM633 467h1v2h-1ZM633 473h1v2h-1ZM633 479h1v2h-1ZM633 485h1v2h-1ZM633 491h1v2h-1ZM633 497h1v2h-1ZM633 503h1v2h-1ZM633 509h1v2h-1ZM633 515h1v2h-1ZM633 521h1v2h-1ZM633 527h1v2h-1ZM633 533h1v2h-1ZM633 539h1v2h-1ZM633 545h1v2h-1ZM633 551h1v2h-1ZM692 27h1v2h-1ZM692 33h1v2h-1ZM692 39h1v2h-1ZM692 45h1v2h-1ZM692 51h1v2h-1ZM692 57h1v2h-1ZM692 63h1v2h-1ZM692 69h1v2h-1ZM692 75h1v2h-1ZM692 81h1v2h-1ZM692 87h1v2h-1ZM692 93h1v2h-1ZM692 99h1v2h-1ZM692 105h1v2h-1ZM692 111h1v2h-1ZM692 117h1v2h-1ZM692 123h1v2h-1ZM692 129h1v2h-1ZM692 135h1v2h-1ZM692 141h1v2h-1ZM692 147h1v2h-1ZM692 153h1v2h-1ZM692 159h1v2h-1ZM692 165h1v2h-1ZM692 171h1v2h-1ZM692 177h1v2h-1ZM692 183h1v2h-1ZM692 189h1v2h-1ZM692 195h1v2h-1ZM692 201h1v2h-1ZM692 207h1v2h-1ZM692 213h1v2h-1ZM692 219h1v2h-1ZM692 225h1v2h-1ZM692 231h1v2h-1ZM692 237h1v2h-1ZM692 243h1v2h-1ZM692 249h1v2h-1ZM692 255h1v2h-1ZM692 261h1v2h-1ZM692 267h1v2h-1ZM692 273h1v2h-1ZM692 279h1v2h-1ZM692 285h1v2h-1ZM692 291h1v2h-1ZM692 297h1v2h-1ZM692 303h1v2h-1ZM692 309h1v2h-1ZM692 315h1v2h-1ZM692 321h1v2h-1ZM692 327h1v2h-1ZM692 333h1v2h-1ZM692 339h1v2h-1ZM692 345h1v2h-1ZM692 351h1v2h-1ZM692 357h1v2h-1ZM692 363h1v2h-1ZM692 369h1v2h-1ZM692 375h1v2h-1ZM692 381h1v2h-1ZM692 387h1v2h-1ZM692 393h1v2h-1ZM692 399h1v2h-1ZM692 405h1v2h-1ZM692 411h1v2h-1ZM692 417h1v2h-1ZM692 423h1v2h-1ZM692 429h1v2h-1ZM692 435h1v2h-1ZM692 441h1v2h-1ZM692 447h1v2h-1ZM692 453h1v2h-1ZM692 459h1v2h-1ZM692 465h1v2h-1ZM692 471h1v2h-1ZM692 477h1v2h-1ZM692 483h1v2h-1ZM692 489h1v2h-1ZM692 495h1v2h-1ZM692 501h1v2h-1ZM692 507h1v2h-1ZM692 513h1v2h-1ZM692 519h1v2h-1ZM692 525h1v2h-1ZM692 531h1v2h-1ZM692 537h1v2h-1ZM692 543h1v2h-1ZM692 549h1v2h-1ZM750 25h1v2h-1ZM750 31h1v2h-1ZM750 37h1v2h-1ZM750 43h1v2h-1ZM750 49h1v2h-1ZM750 55h1v2h-1ZM750 61h1v2h-1ZM750 67h1v2h-1ZM750 73h1v2h-1ZM750 79h1v2h-1ZM750 85h1v2h-1ZM750 91h1v2h-1ZM750 97h1v2h-1ZM750 103h1v2h-1ZM750 109h1v2h-1ZM750 115h1v2h-1ZM750 121h1v2h-1ZM750 127h1v2h-1ZM750 133h1v2h-1ZM750 139h1v2h-1ZM750 145h1v2h-1ZM750 151h1v2h-1ZM750 157h1v2h-1ZM750 163h1v2h-1ZM750 169h1v2h-1ZM750 175h1v2h-1ZM750 181h1v2h-1ZM750 187h1v2h-1ZM750 193h1v2h-1ZM750 199h1v2h-1ZM750 205h1v2h-1ZM750 211h1v2h-1ZM750 217h1v2h-1ZM750 223h1v2h-1ZM750 229h1v2h-1ZM750 235h1v2h-1ZM750 241h1v2h-1ZM750 247h1v2h-1ZM750 253h1v2h-1ZM750 259h1v2h-1ZM750 265h1v2h-1ZM750 271h1v2h-1ZM750 277h1v2h-1ZM750 283h1v2h-1ZM750 289h1v2h-1ZM750 295h1v2h-1ZM750 301h1v2h-1ZM750 307h1v2h-1ZM750 313h1v2h-1ZM750 319h1v2h-1ZM750 325h1v2h-1ZM750 331h1v2h-1ZM750 337h1v2h-1ZM750 343h1v2h-1ZM750 349h1v2h-1ZM750 355h1v2h-1ZM750 361h1v2h-1ZM750 367h1v2h-1ZM750 373h1v2h-1ZM750 379h1v2h-1ZM750 385h1v2h-1ZM750 391h1v2h-1ZM750 397h1v2h-1ZM750 403h1v2h-1ZM750 409h1v2h-1ZM750 415h1v2h-1ZM750 421h1v2h-1ZM750 427h1v2h-1ZM750 433h1v2h-1ZM750 439h1v2h-1ZM750 445h1v2h-1ZM750 451h1v2h-1ZM750 457h1v2h-1ZM750 463h1v2h-1ZM750 469h1v2h-1ZM750 475h1v2h-1ZM750 481h1v2h-1ZM750 487h1v2h-1ZM750 493h1v2h-1ZM750 499h1v2h-1ZM750 505h1v2h-1ZM750 511h1v2h-1ZM750 517h1v2h-1ZM750 523h1v2h-1ZM750 529h1v2h-1ZM750 535h1v2h-1ZM750 541h1v2h-1ZM750 547h1v2h-1ZM750 553h1v2h-1ZM809 29h1v2h-1ZM809 35h1v2h-1ZM809 41h1v2h-1ZM809 47h1v2h-1ZM809 53h1v2h-1ZM809 59h1v2h-1ZM809 65h1v2h-1ZM809 71h1v2h-1ZM809 77h1v2h-1ZM809 83h1v2h-1ZM809 89h1v2h-1ZM809 95h1v2h-1ZM809 101h1v2h-1ZM809 107h1v2h-1ZM809 113h1v2h-1ZM809 119h1v2h-1ZM809 125h1v2h-1ZM809 131h1v2h-1ZM809 137h1v2h-1ZM809 143h1v2h-1ZM809 149h1v2h-1ZM809 155h1v2h-1ZM809 161h1v2h-1ZM809 167h1v2h-1ZM809 173h1v2h-1ZM809 179h1v2h-1ZM809 185h1v2h-1ZM809 191h1v2h-1ZM809 197h1v2h-1ZM809 203h1v2h-1ZM809 209h1v2h-1ZM809 215h1v2h-1ZM809 221h1v2h-1ZM809 227h1v2h-1ZM809 233h1v2h-1ZM809 239h1v2h-1ZM809 245h1v2h-1ZM809 251h1v2h-1ZM809 257h1v2h-1ZM809 263h1v2h-1ZM809 269h1v2h-1ZM809 275h1v2h-1ZM809 281h1v2h-1ZM809 287h1v2h-1ZM809 293h1v2h-1ZM809 299h1v2h-1ZM809 305h1v2h-1ZM809 311h1v2h-1ZM809 317h1v2h-1ZM809 323h1v2h-1ZM809 329h1v2h-1ZM809 335h1v2h-1ZM809 341h1v2h-1ZM809 347h1v2h-1ZM809 353h1v2h-1ZM809 359h1v2h-1ZM809 365h1v2h-1ZM809 371h1v2h-1ZM809 377h1v2h-1ZM809 383h1v2h-1ZM809 389h1v2h-1ZM809 395h1v2h-1ZM809 401h1v2h-1ZM809 407h1v2h-1ZM809 413h1v2h-1ZM809 419h1v2h-1ZM809 425h1v2h-1ZM809 431h1v2h-1ZM809 437h1v2h-1ZM809 443h1v2h-1ZM809 449h1v2h-1ZM809 455h1v2h-1ZM809 461h1v2h-1ZM809 467h1v2h-1ZM809 473h1v2h-1ZM809 479h1v2h-1ZM809 485h1v2h-1ZM809 491h1v2h-1ZM809 497h1v2h-1ZM809 503h1v2h-1ZM809 509h1v2h-1ZM809 515h1v2h-1ZM809 521h1v2h-1ZM809 527h1v2h-1ZM809 533h1v2h-1ZM809 539h1v2h-1ZM809 545h1v2h-1ZM809 551h1v2h-1ZM868 27h1v2h-1ZM868 33h1v2h-1ZM868 39h1v2h-1ZM868 45h1v2h-1ZM868 51h1v2h-1ZM868 57h1v2h-1ZM868 63h1v2h-1ZM868 69h1v2h-1ZM868 75h1v2h-1ZM868 81h1v2h-1ZM868 87h1v2h-1ZM868 93h1v2h-1ZM868 99h1v2h-1ZM868 105h1v2h-1ZM868 111h1v2h-1ZM868 117h1v2h-1ZM868 123h1v2h-1ZM868 129h1v2h-1ZM868 135h1v2h-1ZM868 141h1v2h-1ZM868 147h1v2h-1ZM868 153h1v2h-1ZM868 159h1v2h-1ZM868 165h1v2h-1ZM868 171h1v2h-1ZM868 177h1v2h-1ZM868 183h1v2h-1ZM868 189h1v2h-1ZM868 195h1v2h-1ZM868 201h1v2h-1ZM868 207h1v2h-1ZM868 213h1v2h-1ZM868 219h1v2h-1ZM868 225h1v2h-1ZM868 231h1v2h-1ZM868 237h1v2h-1ZM868 243h1v2h-1ZM868 249h1v2h-1ZM868 255h1v2h-1ZM868 261h1v2h-1ZM868 267h1v2h-1ZM868 273h1v2h-1ZM868 279h1v2h-1ZM868 285h1v2h-1ZM868 291h1v2h-1ZM868 297h1v2h-1ZM868 303h1v2h-1ZM868 309h1v2h-1ZM868 315h1v2h-1ZM868 321h1v2h-1ZM868 327h1v2h-1ZM868 333h1v2h-1ZM868 339h1v2h-1ZM868 345h1v2h-1ZM868 351h1v2h-1ZM868 357h1v2h-1ZM868 363h1v2h-1ZM868 369h1v2h-1ZM868 375h1v2h-1ZM868 381h1v2h-1ZM868 387h1v2h-1ZM868 393h1v2h-1ZM868 399h1v2h-1ZM868 405h1v2h-1ZM868 411h1v2h-1ZM868 417h1v2h-1ZM868 423h1v2h-1ZM868 429h1v2h-1ZM868 435h1v2h-1ZM868 441h1v2h-1ZM868 447h1v2h-1ZM868 453h1v2h-1ZM868 459h1v2h-1ZM868 465h1v2h-1ZM868 471h1v2h-1ZM868 477h1v2h-1ZM868 483h1v2h-1ZM868 489h1v2h-1ZM868 495h1v2h-1ZM868 501h1v2h-1ZM868 507h1v2h-1ZM868 513h1v2h-1ZM868 519h1v2h-1ZM868 525h1v2h-1ZM868 531h1v2h-1ZM868 537h1v2h-1ZM868 543h1v2h-1ZM868 549h1v2h-1ZM926 25h1v2h-1ZM926 31h1v2h-1ZM926 37h1v2h-1ZM926 43h1v2h-1ZM926 49h1v2h-1ZM926 55h1v2h-1ZM926 61h1v2h-1ZM926 67h1v2h-1ZM926 73h1v2h-1ZM926 79h1v2h-1ZM926 85h1v2h-1ZM926 91h1v2h-1ZM926 97h1v2h-1ZM926 103h1v2h-1ZM926 109h1v2h-1ZM926 115h1v2h-1ZM926 121h1v2h-1ZM926 127h1v2h-1ZM926 133h1v2h-1ZM926 139h1v2h-1ZM926 145h1v2h-1ZM926 151h1v2h-1ZM926 157h1v2h-1ZM926 163h1v2h-1ZM926 169h1v2h-1ZM926 175h1v2h-1ZM926 181h1v2h-1ZM926 187h1v2h-1ZM926 193h1v2h-1ZM926 199h1v2h-1ZM926 205h1v2h-1ZM926 211h1v2h-1ZM926 217h1v2h-1ZM926 223h1v2h-1ZM926 229h1v2h-1ZM926 235h1v2h-1ZM926 241h1v2h-1ZM926 247h1v2h-1ZM926 253h1v2h-1ZM926 259h1v2h-1ZM926 265h1v2h-1ZM926 271h1v2h-1ZM926 277h1v2h-1ZM926 283h1v2h-1ZM926 289h1v2h-1ZM926 295h1v2h-1ZM926 301h1v2h-1ZM926 307h1v2h-1ZM926 313h1v2h-1ZM926 319h1v2h-1ZM926 325h1v2h-1ZM926 331h1v2h-1ZM926 337h1v2h-1ZM926 343h1v2h-1ZM926 349h1v2h-1ZM926 355h1v2h-1ZM926 361h1v2h-1ZM926 367h1v2h-1ZM926 373h1v2h-1ZM926 379h1v2h-1ZM926 385h1v2h-1ZM926 391h1v2h-1ZM926 397h1v2h-1ZM926 403h1v2h-1ZM926 409h1v2h-1ZM926 415h1v2h-1ZM926 421h1v2h-1ZM926 427h1v2h-1ZM926 433h1v2h-1ZM926 439h1v2h-1ZM926 445h1v2h-1ZM926 451h1v2h-1ZM926 457h1v2h-1ZM926 463h1v2h-1ZM926 469h1v2h-1ZM926 475h1v2h-1ZM926 481h1v2h-1ZM926 487h1v2h-1ZM926 493h1v2h-1ZM926 499h1v2h-1ZM926 505h1v2h-1ZM926 511h1v2h-1ZM926 517h1v2h-1ZM926 523h1v2h-1ZM926 529h1v2h-1ZM926 535h1v2h-1ZM926 541h1v2h-1ZM926 547h1v2h-1ZM926 553h1v2h-1Z" fill="#b4b4b4" shape-rendering="crispEdges"/>
<path d="M985.5 25V560 M47 351.5H986 M42 554.5H51 M42 513.5H51 M42 473.5H51 M42 432.5H51 M42 391.5H51 M42 351.5H51 M42 310.5H51 M42 269.5H51 M42 228.5H51 M42 188.5H51 M42 147.5H51 M42 106.5H51 M42 66.5H51 M42 25.5H51 M47.5 551V560 M106.5 551V560 M164.5 551V560 M223.5 551V560 M282.5 551V560 M340.5 551V560 M399.5 551V560 M457.5 551V560 M516.5 551V560 M575.5 551V560 M633.5 551V560 M692.5 551V560 M750.5 551V560 M809.5 551V560 M868.5 551V560 M926.5 551V560 M985.5 551V560" stroke="#000" stroke-width="1" fill="none" shape-rendering="crispEdges"/>
<text x="36.2" y="559.0" font-family="Liberation Mono" font-weight="bold" font-size="12.6" letter-spacing="-0.55" text-anchor="end">−5</text>
<text x="36.2" y="518.0" font-family="Liberation Mono" font-weight="bold" font-size="12.6" letter-spacing="-0.55" text-anchor="end">−4</text>
<text x="36.2" y="478.0" font-family="Liberation Mono" font-weight="bold" font-size="12.6" letter-spacing="-0.55" text-anchor="end">−3</text>
<text x="36.2" y="437.0" font-family="Liberation Mono" font-weight="bold" font-size="12.6" letter-spacing="-0.55" text-anchor="end">−2</text>
<text x="36.2" y="396.0" font-family="Liberation Mono" font-weight="bold" font-size="12.6" letter-spacing="-0.55" text-anchor="end">−1</text>
<text x="36.2" y="356.0" font-family="Liberation Mono" font-weight="bold" font-size="12.6" letter-spacing="-0.55" text-anchor="end">0</text>
<text x="36.2" y="315.0" font-family="Liberation Mono" font-weight="bold" font-size="12.6" letter-spacing="-0.55" text-anchor="end">1</text>
<text x="36.2" y="274.0" font-family="Liberation Mono" font-weight="bold" font-size="12.6" letter-spacing="-0.55" text-anchor="end">2</text>
<text x="36.2" y="233.0" font-family="Liberation Mono" font-weight="bold" font-size="12.6" letter-spacing="-0.55" text-anchor="end">3</text>
<text x="36.2" y="193.0" font-family="Liberation Mono" font-weight="bold" font-size="12.6" letter-spacing="-0.55" text-anchor="end">4</text>
<text x="36.2" y="152.0" font-family="Liberation Mono" font-weight="bold" font-size="12.6" letter-spacing="-0.55" text-anchor="end">5</text>
<text x="36.2" y="111.0" font-family="Liberation Mono" font-weight="bold" font-size="12.6" letter-spacing="-0.55" text-anchor="end">6</text>
<text x="36.2" y="71.0" font-family="Liberation Mono" font-weight="bold" font-size="12.6" letter-spacing="-0.55" text-anchor="end">7</text>
<text x="36.2" y="30.0" font-family="Liberation Mono" font-weight="bold" font-size="12.6" letter-spacing="-0.55" text-anchor="end">8</text>
<text x="46.6" y="574.8" font-family="Liberation Mono" font-weight="bold" font-size="12.6" letter-spacing="-0.55" text-anchor="middle">0</text>
<text x="105.6" y="574.8" font-family="Liberation Mono" font-weight="bold" font-size="12.6" letter-spacing="-0.55" text-anchor="middle">10</text>
<text x="163.6" y="574.8" font-family="Liberation Mono" font-weight="bold" font-size="12.6" letter-spacing="-0.55" text-anchor="middle">20</text>
<text x="222.6" y="574.8" font-family="Liberation Mono" font-weight="bold" font-size="12.6" letter-spacing="-0.55" text-anchor="middle">30</text>
<text x="281.6" y="574.8" font-family="Liberation Mono" font-weight="bold" font-size="12.6" letter-spacing="-0.55" text-anchor="middle">40</text>
<text x="339.6" y="574.8" font-family="Liberation Mono" font-weight="bold" font-size="12.6" letter-spacing="-0.55" text-anchor="middle">50</text>
<text x="398.6" y="574.8" font-family="Liberation Mono" font-weight="bold" font-size="12.6" letter-spacing="-0.55" text-anchor="middle">60</text>
<text x="456.6" y="574.8" font-family="Liberation Mono" font-weight="bold" font-size="12.6" letter-spacing="-0.55" text-anchor="middle">70</text>
<text x="515.6" y="574.8" font-family="Liberation Mono" font-weight="bold" font-size="12.6" letter-spacing="-0.55" text-anchor="middle">80</text>
<text x="574.6" y="574.8" font-family="Liberation Mono" font-weight="bold" font-size="12.6" letter-spacing="-0.55" text-anchor="middle">90</text>
<text x="632.6" y="574.8" font-family="Liberation Mono" font-weight="bold" font-size="12.6" letter-spacing="-0.55" text-anchor="middle">100</text>
<text x="691.6" y="574.8" font-family="Liberation Mono" font-weight="bold" font-size="12.6" letter-spacing="-0.55" text-anchor="middle">110</text>
<text x="749.6" y="574.8" font-family="Liberation Mono" font-weight="bold" font-size="12.6" letter-spacing="-0.55" text-anchor="middle">120</text>
<text x="808.6" y="574.8" font-family="Liberation Mono" font-weight="bold" font-size="12.6" letter-spacing="-0.55" text-anchor="middle">130</text>
<text x="867.6" y="574.8" font-family="Liberation Mono" font-weight="bold" font-size="12.6" letter-spacing="-0.55" text-anchor="middle">140</text>
<text x="925.6" y="574.8" font-family="Liberation Mono" font-weight="bold" font-size="12.6" letter-spacing="-0.55" text-anchor="middle">150</text>
<text x="984.6" y="574.8" font-family="Liberation Mono" font-weight="bold" font-size="12.6" letter-spacing="-0.55" text-anchor="middle">160</text>
<text x="499.5" y="18" font-family="Liberation Mono" font-size="15" font-weight="bold" text-anchor="middle">Heating in Essex</text>
<text x="516" y="592.6" font-family="Liberation Mono" font-weight="bold" font-size="12.6" letter-spacing="-0.55" text-anchor="middle">Start Date 2025-10-12 21:50, 1 day (10 min/step)</text>
<text transform="translate(17 290) rotate(-90)" x="0" y="0" font-family="Liberation Mono" font-weight="bold" font-size="12.6" letter-spacing="-0.55" text-anchor="middle">Degrees</text>
<polyline points="47.50,272.60 53.50,272.60 59.50,272.60 65.50,272.60 70.50,269.40 76.50,272.60 82.50,272.60 88.50,272.60 94.50,272.60 100.50,269.30 106.50,272.60 111.50,274.40 117.50,277.40 123.50,279.50 129.50,282.50 135.50,282.40 141.50,285.40 147.50,287.50 153.50,290.50 158.50,292.50 164.50,294.50 170.50,297.50 176.50,297.50 182.50,302.50 188.50,302.50 194.50,305.50 199.50,307.40 205.50,305.50 211.50,307.40 217.50,310.40 223.50,310.40 229.50,312.50 235.50,312.50 240.50,315.50 246.50,318.50 252.50,318.50 258.50,318.50 264.50,319.00 270.50,320.40 276.50,322.50 282.50,322.50 287.50,322.50 293.50,322.50 299.50,322.50 305.50,325.50 311.50,325.50 317.50,328.50 323.50,328.50 328.50,328.40 334.50,330.50 340.50,330.50 346.50,330.50 352.50,333.50 358.50,333.50 364.50,333.50 369.50,334.50 375.50,335.50 381.50,334.00 387.50,328.50 393.50,321.00 399.50,312.50 405.50,305.00 410.50,296.50 416.50,298.00 422.50,298.00 428.50,298.50 434.50,292.00 440.50,285.00 446.50,280.00 452.50,277.00 457.50,274.00 463.50,272.00 469.50,272.50 475.50,272.50 481.50,272.00 487.50,273.50 493.50,272.50 498.50,273.00 504.50,276.50 510.50,294.00 516.50,302.50 522.50,292.00 528.50,290.50 534.50,294.00 539.50,292.80 545.50,293.50 551.50,296.60 557.50,299.80 563.50,299.30 569.50,298.90 575.50,296.60 580.50,293.50 586.50,293.00 592.50,292.00 598.50,292.00 604.50,292.00 610.50,292.00 616.50,292.00 622.50,292.00 627.50,292.50 633.50,292.50 639.50,294.70 645.50,294.70 651.50,297.40 657.50,297.40 663.50,294.70 668.50,297.70 674.50,300.70 680.50,300.70 686.50,302.50 692.50,302.50 698.50,302.50 704.50,306.00 709.50,305.50 715.50,306.00 721.50,305.00 727.50,306.00 733.50,298.00 739.50,293.30 745.50,287.00 750.50,278.00 756.50,273.00 762.50,271.00 768.50,269.00 774.50,269.00 780.50,269.00 786.50,266.00 792.50,263.00 797.50,261.00 803.50,259.50 809.50,259.50 815.50,261.50 821.50,260.00 827.50,261.50 833.50,258.00 838.50,258.00 844.50,259.00 850.50,259.00 856.50,259.00 862.50,258.00 868.50,258.00 874.50,258.00 879.50,258.00 885.50,259.50 891.50,259.50 897.50,258.00 903.50,259.50 909.50,259.50 915.50,262.20 921.50,262.20 926.50,259.50 932.50,262.20 938.50,264.90 944.50,264.90 950.50,267.50 956.50,269.70 962.50,269.70" fill="none" stroke="#87ceeb" stroke-width="3" stroke-linejoin="round"/>
<polyline points="47.50,305.00 53.50,305.00 59.50,305.00 65.50,310.00 70.50,312.50 76.50,315.50 82.50,318.50 88.50,318.50 94.50,320.00 100.50,322.00 106.50,318.50 111.50,322.00 117.50,325.00 123.50,322.00 129.50,325.00 135.50,325.00 141.50,328.00 147.50,328.00 153.50,328.00 158.50,330.50 164.50,330.00 170.50,333.00 176.50,333.00 182.50,335.00 188.50,335.00 194.50,335.00 199.50,335.00 205.50,335.00 211.50,335.00 217.50,335.00 223.50,338.00 229.50,338.00 235.50,340.00 240.50,340.00 246.50,340.00 252.50,343.50 258.50,343.50 264.50,343.50 270.50,343.50 276.50,346.50 282.50,346.50 287.50,346.50 293.50,346.50 299.50,348.50 305.50,348.50 311.50,348.50 317.50,351.50 323.50,348.50 328.50,353.00 334.50,352.50 340.50,353.30 346.50,353.30 352.50,353.30 358.50,353.30 364.50,355.30 369.50,352.70 375.50,351.00 381.50,348.50 387.50,340.00 393.50,333.00 399.50,322.00 405.50,310.00 410.50,304.50 416.50,297.00 422.50,291.50 428.50,289.50 434.50,282.00 440.50,273.00 446.50,264.00 452.50,258.50 457.50,254.00 463.50,257.00 469.50,259.50 475.50,261.00 481.50,264.00 487.50,269.00 493.50,266.50 498.50,268.50 504.50,300.50 510.50,318.00 516.50,325.50 522.50,304.00 528.50,299.50 534.50,301.00 539.50,296.30 545.50,298.00 551.50,300.70 557.50,303.80 563.50,302.00 569.50,303.00 575.50,303.00 580.50,296.60 586.50,300.70 592.50,298.00 598.50,293.50 604.50,293.50 610.50,293.50 616.50,293.50 622.50,295.70 627.50,302.00 633.50,296.20 639.50,305.00 645.50,305.00 651.50,312.00 657.50,313.00 663.50,313.00 668.50,315.20 674.50,315.20 680.50,318.20 686.50,315.20 692.50,315.20 698.50,312.80 704.50,312.80 709.50,311.60 715.50,312.50 721.50,311.50 727.50,311.50 733.50,300.40 739.50,284.50 745.50,267.00 750.50,254.50 756.50,246.00 762.50,244.50 768.50,236.50 774.50,236.50 780.50,239.00 786.50,239.50 792.50,241.50 797.50,241.30 803.50,246.00 809.50,249.00 815.50,254.00 821.50,254.00 827.50,257.00 833.50,257.00 838.50,259.50 844.50,257.00 850.50,257.00 856.50,259.50 862.50,257.00 868.50,259.00 874.50,261.20 879.50,261.30 885.50,261.30 891.50,264.50 897.50,260.80 903.50,264.00 909.50,267.20 915.50,267.20 921.50,269.30 926.50,269.30 932.50,272.50 938.50,272.50 944.50,274.70 950.50,279.50 956.50,284.80 962.50,287.50" fill="none" stroke="#00ff00" stroke-width="3" stroke-linejoin="round"/>
<polyline points="47.50,324.70 53.50,324.20 59.50,327.70 65.50,327.70 70.50,327.40 76.50,330.40 82.50,330.40 88.50,332.40 94.50,332.40 100.50,335.40 106.50,335.40 111.50,335.40 117.50,337.70 123.50,340.40 129.50,340.40 135.50,340.40 141.50,342.40 147.50,342.40 153.50,345.40 158.50,345.40 164.50,345.40 170.50,345.40 176.50,345.40 182.50,348.40 188.50,348.40 194.50,348.40 199.50,350.40 205.50,350.40 211.50,350.40 217.50,353.40 223.50,353.40 229.50,355.50 235.50,355.50 240.50,355.50 246.50,357.60 252.50,357.60 258.50,357.60 264.50,360.60 270.50,360.60 276.50,360.60 282.50,360.60 287.50,360.60 293.50,363.60 299.50,363.60 305.50,365.60 311.50,365.60 317.50,365.60 323.50,365.60 328.50,365.60 334.50,368.60 340.50,368.60 346.50,370.50 352.50,370.50 358.50,370.50 364.50,370.50 369.50,370.50 375.50,373.20 381.50,370.50 387.50,365.20 393.50,357.80 399.50,350.20 405.50,341.20 410.50,335.80 416.50,330.50 422.50,330.50 428.50,327.20 434.50,324.70 440.50,314.70 446.50,307.70 452.50,304.70 457.50,299.70 463.50,295.20 469.50,295.20 475.50,293.20 481.50,293.20 487.50,293.20 493.50,287.70 498.50,285.20 504.50,285.20 510.50,285.20 516.50,285.20 522.50,285.20 528.50,288.20 534.50,290.20 539.50,290.60 545.50,294.70 551.50,294.70 557.50,296.90 563.50,296.90 569.50,299.60 575.50,299.60 580.50,299.60 586.50,296.90 592.50,296.90 598.50,299.60 604.50,299.60 610.50,299.60 616.50,299.60 622.50,299.60 627.50,300.10 633.50,300.10 639.50,302.80 645.50,302.80 651.50,302.80 657.50,305.90 663.50,307.70 668.50,307.70 674.50,307.70 680.50,309.50 686.50,316.10 692.50,316.10 698.50,309.50 704.50,309.50 709.50,314.20 715.50,311.20 721.50,310.50 727.50,309.70 733.50,305.00 739.50,299.40 745.50,292.20 750.50,285.20 756.50,279.70 762.50,274.70 768.50,271.70 774.50,271.70 780.50,271.70 786.50,271.70 792.50,271.70 797.50,275.20 803.50,275.20 809.50,275.20 815.50,277.20 821.50,277.20 827.50,280.20 833.50,282.20 838.50,282.20 844.50,285.20 850.50,288.20 856.50,290.20 862.50,290.20 868.50,292.70 874.50,292.70 879.50,294.80 885.50,294.80 891.50,296.90 897.50,296.90 903.50,300.10 909.50,300.10 915.50,303.30 921.50,303.30 926.50,304.90 932.50,304.90 938.50,308.10 944.50,308.10 950.50,309.70 956.50,309.70 962.50,309.70" fill="none" stroke="#ffa500" stroke-width="2.2" stroke-linejoin="round"/>
<polyline points="47.50,241.00 53.50,242.00 59.50,247.00 65.50,250.00 70.50,250.00 76.50,252.00 82.50,252.00 88.50,252.00 94.50,252.00 100.50,252.00 106.50,252.00 111.50,250.00 117.50,252.00 123.50,252.00 129.50,252.00 135.50,250.00 141.50,250.00 147.50,250.00 153.50,250.00 158.50,250.00 164.50,247.00 170.50,247.00 176.50,247.00 182.50,247.00 188.50,242.00 194.50,245.00 199.50,245.00 205.50,245.00 211.50,245.00 217.50,245.00 223.50,245.00 229.50,245.00 235.50,245.00 240.50,245.00 246.50,245.00 252.50,245.00 258.50,245.00 264.50,245.00 270.50,242.00 276.50,242.00 282.50,242.00 287.50,242.00 293.50,242.00 299.50,245.00 305.50,245.00 311.50,250.00 317.50,252.00 323.50,252.00 328.50,252.00 334.50,252.00 340.50,252.00 346.50,255.00 352.50,252.00 358.50,252.00 364.50,252.00 369.50,252.00 375.50,252.00 381.50,252.00 387.50,252.00 393.50,255.00 399.50,252.00 405.50,247.00 410.50,247.00 416.50,247.00 422.50,245.00 428.50,242.00 434.50,234.50 440.50,232.00 446.50,227.50 452.50,227.00 457.50,223.00 463.50,222.30 469.50,204.50 475.50,197.50 481.50,182.00 487.50,174.50 493.50,148.50 498.50,97.00 504.50,92.00 510.50,97.00 516.50,105.30 522.50,79.50 528.50,110.00 534.50,95.50 539.50,87.20 545.50,125.20 551.50,122.50 557.50,123.20 563.50,107.80 569.50,92.50 575.50,103.20 580.50,95.20 586.50,85.20 592.50,88.50 598.50,79.20 604.50,77.20 610.50,97.20 616.50,72.50 622.50,97.20 627.50,103.20 633.50,87.20 639.50,94.80 645.50,91.50 651.50,96.70 657.50,96.70 663.50,102.70 668.50,105.00 674.50,109.50 680.50,111.70 686.50,120.00 692.50,129.70 698.50,132.70 704.50,135.00 709.50,138.00 715.50,139.50 721.50,142.90 727.50,145.60 733.50,148.00 739.50,151.00 745.50,153.30 750.50,155.60 756.50,157.90 762.50,160.80 768.50,163.80 774.50,166.10 780.50,167.80 786.50,167.80 792.50,170.80 797.50,170.80 803.50,172.50 809.50,173.30 815.50,176.10 821.50,181.70 827.50,190.30 833.50,194.30 838.50,199.00 844.50,201.00 850.50,204.30 856.50,209.00 862.50,217.00 868.50,222.00 874.50,219.20 879.50,219.20 885.50,219.20 891.50,219.20 897.50,219.20 903.50,222.00 909.50,231.90 915.50,236.90 921.50,240.25 926.50,241.90 932.50,241.90 938.50,245.25 944.50,246.90 950.50,246.90 956.50,249.80 962.50,246.90" fill="none" stroke="#0000ff" stroke-width="3" stroke-linejoin="round"/>
<polyline points="47.50,309.50 53.50,309.50 59.50,309.50 65.50,309.50 70.50,350.50 76.50,350.50 82.50,350.50 88.50,350.50 94.50,350.50 100.50,350.50 106.50,350.50 111.50,350.50 117.50,350.50 123.50,350.50 129.50,350.50 135.50,350.50 141.50,350.50 147.50,350.50 153.50,350.50 158.50,350.50 164.50,350.50 170.50,350.50 176.50,350.50 182.50,350.50 188.50,350.50 194.50,350.50 199.50,350.50 205.50,350.50 211.50,350.50 217.50,350.50 223.50,350.50 229.50,350.50 235.50,350.50 240.50,350.50 246.50,350.50 252.50,350.50 258.50,350.50 264.50,350.50 270.50,350.50 276.50,350.50 282.50,350.50 287.50,350.50 293.50,350.50 299.50,350.50 305.50,350.50 311.50,350.50 317.50,350.50 323.50,350.50 328.50,350.50 334.50,350.50 340.50,350.50 346.50,350.50 352.50,350.50 358.50,350.50 364.50,350.50 369.50,268.50 375.50,268.50 381.50,268.50 387.50,268.50 393.50,268.50 399.50,268.50 405.50,309.50 410.50,309.50 416.50,309.50 422.50,268.50 428.50,268.50 434.50,268.50 440.50,268.50 446.50,309.50 452.50,309.50 457.50,309.50 463.50,309.50 469.50,309.50 475.50,309.50 481.50,309.50 487.50,309.50 493.50,309.50 498.50,309.50 504.50,309.50 510.50,309.50 516.50,309.50 522.50,309.50 528.50,309.50 534.50,309.50 539.50,309.50 545.50,309.50 551.50,309.50 557.50,309.50 563.50,309.50 569.50,309.50 575.50,309.50 580.50,309.50 586.50,309.50 592.50,309.50 598.50,309.50 604.50,309.50 610.50,309.50 616.50,309.50 622.50,309.50 627.50,309.50 633.50,309.50 639.50,309.50 645.50,309.50 651.50,309.50 657.50,309.50 663.50,309.50 668.50,309.50 674.50,309.50 680.50,309.50 686.50,309.50 692.50,309.50 698.50,309.50 704.50,309.50 709.50,309.50 715.50,309.50 721.50,268.50 727.50,268.50 733.50,268.50 739.50,268.50 745.50,309.50 750.50,309.50 756.50,309.50 762.50,309.50 768.50,309.50 774.50,309.50 780.50,309.50 786.50,309.50 792.50,309.50 797.50,309.50 803.50,309.50 809.50,309.50 815.50,309.50 821.50,309.50 827.50,309.50 833.50,309.50 838.50,309.50 844.50,309.50 850.50,309.50 856.50,309.50 862.50,309.50 868.50,309.50 874.50,309.50 879.50,309.50 885.50,309.50 891.50,309.50 897.50,309.50 903.50,309.50 909.50,309.50 915.50,350.50 921.50,350.50 926.50,350.50 932.50,350.50 938.50,350.50 944.50,350.50 950.50,350.50 956.50,350.50 962.50,350.50" fill="none" stroke="#ff0000" stroke-width="3.4" stroke-linejoin="round"/>
<path d="M47.50 269.10L51.00 272.60L47.50 276.10L44.00 272.60ZM53.50 269.10L57.00 272.60L53.50 276.10L50.00 272.60ZM59.50 269.10L63.00 272.60L59.50 276.10L56.00 272.60ZM65.50 269.10L69.00 272.60L65.50 276.10L62.00 272.60ZM70.50 265.90L74.00 269.40L70.50 272.90L67.00 269.40ZM76.50 269.10L80.00 272.60L76.50 276.10L73.00 272.60ZM82.50 269.10L86.00 272.60L82.50 276.10L79.00 272.60ZM88.50 269.10L92.00 272.60L88.50 276.10L85.00 272.60ZM94.50 269.10L98.00 272.60L94.50 276.10L91.00 272.60ZM100.50 265.80L104.00 269.30L100.50 272.80L97.00 269.30ZM106.50 269.10L110.00 272.60L106.50 276.10L103.00 272.60ZM111.50 270.90L115.00 274.40L111.50 277.90L108.00 274.40ZM117.50 273.90L121.00 277.40L117.50 280.90L114.00 277.40ZM123.50 276.00L127.00 279.50L123.50 283.00L120.00 279.50ZM129.50 279.00L133.00 282.50L129.50 286.00L126.00 282.50ZM135.50 278.90L139.00 282.40L135.50 285.90L132.00 282.40ZM141.50 281.90L145.00 285.40L141.50 288.90L138.00 285.40ZM147.50 284.00L151.00 287.50L147.50 291.00L144.00 287.50ZM153.50 287.00L157.00 290.50L153.50 294.00L150.00 290.50ZM158.50 289.00L162.00 292.50L158.50 296.00L155.00 292.50ZM164.50 291.00L168.00 294.50L164.50 298.00L161.00 294.50ZM170.50 294.00L174.00 297.50L170.50 301.00L167.00 297.50ZM176.50 294.00L180.00 297.50L176.50 301.00L173.00 297.50ZM182.50 299.00L186.00 302.50L182.50 306.00L179.00 302.50ZM188.50 299.00L192.00 302.50L188.50 306.00L185.00 302.50ZM194.50 302.00L198.00 305.50L194.50 309.00L191.00 305.50ZM199.50 303.90L203.00 307.40L199.50 310.90L196.00 307.40ZM205.50 302.00L209.00 305.50L205.50 309.00L202.00 305.50ZM211.50 303.90L215.00 307.40L211.50 310.90L208.00 307.40ZM217.50 306.90L221.00 310.40L217.50 313.90L214.00 310.40ZM223.50 306.90L227.00 310.40L223.50 313.90L220.00 310.40ZM229.50 309.00L233.00 312.50L229.50 316.00L226.00 312.50ZM235.50 309.00L239.00 312.50L235.50 316.00L232.00 312.50ZM240.50 312.00L244.00 315.50L240.50 319.00L237.00 315.50ZM246.50 315.00L250.00 318.50L246.50 322.00L243.00 318.50ZM252.50 315.00L256.00 318.50L252.50 322.00L249.00 318.50ZM258.50 315.00L262.00 318.50L258.50 322.00L255.00 318.50ZM264.50 315.50L268.00 319.00L264.50 322.50L261.00 319.00ZM270.50 316.90L274.00 320.40L270.50 323.90L267.00 320.40ZM276.50 319.00L280.00 322.50L276.50 326.00L273.00 322.50ZM282.50 319.00L286.00 322.50L282.50 326.00L279.00 322.50ZM287.50 319.00L291.00 322.50L287.50 326.00L284.00 322.50ZM293.50 319.00L297.00 322.50L293.50 326.00L290.00 322.50ZM299.50 319.00L303.00 322.50L299.50 326.00L296.00 322.50ZM305.50 322.00L309.00 325.50L305.50 329.00L302.00 325.50ZM311.50 322.00L315.00 325.50L311.50 329.00L308.00 325.50ZM317.50 325.00L321.00 328.50L317.50 332.00L314.00 328.50ZM323.50 325.00L327.00 328.50L323.50 332.00L320.00 328.50ZM328.50 324.90L332.00 328.40L328.50 331.90L325.00 328.40ZM334.50 327.00L338.00 330.50L334.50 334.00L331.00 330.50ZM340.50 327.00L344.00 330.50L340.50 334.00L337.00 330.50ZM346.50 327.00L350.00 330.50L346.50 334.00L343.00 330.50ZM352.50 330.00L356.00 333.50L352.50 337.00L349.00 333.50ZM358.50 330.00L362.00 333.50L358.50 337.00L355.00 333.50ZM364.50 330.00L368.00 333.50L364.50 337.00L361.00 333.50ZM369.50 331.00L373.00 334.50L369.50 338.00L366.00 334.50ZM375.50 332.00L379.00 335.50L375.50 339.00L372.00 335.50ZM381.50 330.50L385.00 334.00L381.50 337.50L378.00 334.00ZM387.50 325.00L391.00 328.50L387.50 332.00L384.00 328.50ZM393.50 317.50L397.00 321.00L393.50 324.50L390.00 321.00ZM399.50 309.00L403.00 312.50L399.50 316.00L396.00 312.50ZM405.50 301.50L409.00 305.00L405.50 308.50L402.00 305.00ZM410.50 293.00L414.00 296.50L410.50 300.00L407.00 296.50ZM416.50 294.50L420.00 298.00L416.50 301.50L413.00 298.00ZM422.50 294.50L426.00 298.00L422.50 301.50L419.00 298.00ZM428.50 295.00L432.00 298.50L428.50 302.00L425.00 298.50ZM434.50 288.50L438.00 292.00L434.50 295.50L431.00 292.00ZM440.50 281.50L444.00 285.00L440.50 288.50L437.00 285.00ZM446.50 276.50L450.00 280.00L446.50 283.50L443.00 280.00ZM452.50 273.50L456.00 277.00L452.50 280.50L449.00 277.00ZM457.50 270.50L461.00 274.00L457.50 277.50L454.00 274.00ZM463.50 268.50L467.00 272.00L463.50 275.50L460.00 272.00ZM469.50 269.00L473.00 272.50L469.50 276.00L466.00 272.50ZM475.50 269.00L479.00 272.50L475.50 276.00L472.00 272.50ZM481.50 268.50L485.00 272.00L481.50 275.50L478.00 272.00ZM487.50 270.00L491.00 273.50L487.50 277.00L484.00 273.50ZM493.50 269.00L497.00 272.50L493.50 276.00L490.00 272.50ZM498.50 269.50L502.00 273.00L498.50 276.50L495.00 273.00ZM504.50 273.00L508.00 276.50L504.50 280.00L501.00 276.50ZM510.50 290.50L514.00 294.00L510.50 297.50L507.00 294.00ZM516.50 299.00L520.00 302.50L516.50 306.00L513.00 302.50ZM522.50 288.50L526.00 292.00L522.50 295.50L519.00 292.00ZM528.50 287.00L532.00 290.50L528.50 294.00L525.00 290.50ZM534.50 290.50L538.00 294.00L534.50 297.50L531.00 294.00ZM539.50 289.30L543.00 292.80L539.50 296.30L536.00 292.80ZM545.50 290.00L549.00 293.50L545.50 297.00L542.00 293.50ZM551.50 293.10L555.00 296.60L551.50 300.10L548.00 296.60ZM557.50 296.30L561.00 299.80L557.50 303.30L554.00 299.80ZM563.50 295.80L567.00 299.30L563.50 302.80L560.00 299.30ZM569.50 295.40L573.00 298.90L569.50 302.40L566.00 298.90ZM575.50 293.10L579.00 296.60L575.50 300.10L572.00 296.60ZM580.50 290.00L584.00 293.50L580.50 297.00L577.00 293.50ZM586.50 289.50L590.00 293.00L586.50 296.50L583.00 293.00ZM592.50 288.50L596.00 292.00L592.50 295.50L589.00 292.00ZM598.50 288.50L602.00 292.00L598.50 295.50L595.00 292.00ZM604.50 288.50L608.00 292.00L604.50 295.50L601.00 292.00ZM610.50 288.50L614.00 292.00L610.50 295.50L607.00 292.00ZM616.50 288.50L620.00 292.00L616.50 295.50L613.00 292.00ZM622.50 288.50L626.00 292.00L622.50 295.50L619.00 292.00ZM627.50 289.00L631.00 292.50L627.50 296.00L624.00 292.50ZM633.50 289.00L637.00 292.50L633.50 296.00L630.00 292.50ZM639.50 291.20L643.00 294.70L639.50 298.20L636.00 294.70ZM645.50 291.20L649.00 294.70L645.50 298.20L642.00 294.70ZM651.50 293.90L655.00 297.40L651.50 300.90L648.00 297.40ZM657.50 293.90L661.00 297.40L657.50 300.90L654.00 297.40ZM663.50 291.20L667.00 294.70L663.50 298.20L660.00 294.70ZM668.50 294.20L672.00 297.70L668.50 301.20L665.00 297.70ZM674.50 297.20L678.00 300.70L674.50 304.20L671.00 300.70ZM680.50 297.20L684.00 300.70L680.50 304.20L677.00 300.70ZM686.50 299.00L690.00 302.50L686.50 306.00L683.00 302.50ZM692.50 299.00L696.00 302.50L692.50 306.00L689.00 302.50ZM698.50 299.00L702.00 302.50L698.50 306.00L695.00 302.50ZM704.50 302.50L708.00 306.00L704.50 309.50L701.00 306.00ZM709.50 302.00L713.00 305.50L709.50 309.00L706.00 305.50ZM715.50 302.50L719.00 306.00L715.50 309.50L712.00 306.00ZM721.50 301.50L725.00 305.00L721.50 308.50L718.00 305.00ZM727.50 302.50L731.00 306.00L727.50 309.50L724.00 306.00ZM733.50 294.50L737.00 298.00L733.50 301.50L730.00 298.00ZM739.50 289.80L743.00 293.30L739.50 296.80L736.00 293.30ZM745.50 283.50L749.00 287.00L745.50 290.50L742.00 287.00ZM750.50 274.50L754.00 278.00L750.50 281.50L747.00 278.00ZM756.50 269.50L760.00 273.00L756.50 276.50L753.00 273.00ZM762.50 267.50L766.00 271.00L762.50 274.50L759.00 271.00ZM768.50 265.50L772.00 269.00L768.50 272.50L765.00 269.00ZM774.50 265.50L778.00 269.00L774.50 272.50L771.00 269.00ZM780.50 265.50L784.00 269.00L780.50 272.50L777.00 269.00ZM786.50 262.50L790.00 266.00L786.50 269.50L783.00 266.00ZM792.50 259.50L796.00 263.00L792.50 266.50L789.00 263.00ZM797.50 257.50L801.00 261.00L797.50 264.50L794.00 261.00ZM803.50 256.00L807.00 259.50L803.50 263.00L800.00 259.50ZM809.50 256.00L813.00 259.50L809.50 263.00L806.00 259.50ZM815.50 258.00L819.00 261.50L815.50 265.00L812.00 261.50ZM821.50 256.50L825.00 260.00L821.50 263.50L818.00 260.00ZM827.50 258.00L831.00 261.50L827.50 265.00L824.00 261.50ZM833.50 254.50L837.00 258.00L833.50 261.50L830.00 258.00ZM838.50 254.50L842.00 258.00L838.50 261.50L835.00 258.00ZM844.50 255.50L848.00 259.00L844.50 262.50L841.00 259.00ZM850.50 255.50L854.00 259.00L850.50 262.50L847.00 259.00ZM856.50 255.50L860.00 259.00L856.50 262.50L853.00 259.00ZM862.50 254.50L866.00 258.00L862.50 261.50L859.00 258.00ZM868.50 254.50L872.00 258.00L868.50 261.50L865.00 258.00ZM874.50 254.50L878.00 258.00L874.50 261.50L871.00 258.00ZM879.50 254.50L883.00 258.00L879.50 261.50L876.00 258.00ZM885.50 256.00L889.00 259.50L885.50 263.00L882.00 259.50ZM891.50 256.00L895.00 259.50L891.50 263.00L888.00 259.50ZM897.50 254.50L901.00 258.00L897.50 261.50L894.00 258.00ZM903.50 256.00L907.00 259.50L903.50 263.00L900.00 259.50ZM909.50 256.00L913.00 259.50L909.50 263.00L906.00 259.50ZM915.50 258.70L919.00 262.20L915.50 265.70L912.00 262.20ZM921.50 258.70L925.00 262.20L921.50 265.70L918.00 262.20ZM926.50 256.00L930.00 259.50L926.50 263.00L923.00 259.50ZM932.50 258.70L936.00 262.20L932.50 265.70L929.00 262.20ZM938.50 261.40L942.00 264.90L938.50 268.40L935.00 264.90ZM944.50 261.40L948.00 264.90L944.50 268.40L941.00 264.90ZM950.50 264.00L954.00 267.50L950.50 271.00L947.00 267.50ZM956.50 266.20L960.00 269.70L956.50 273.20L953.00 269.70ZM962.50 266.20L966.00 269.70L962.50 273.20L959.00 269.70Z" fill="#87ceeb"/>
<path d="M44.00 305.00a3.5 3.5 0 1 0 7.0 0a3.5 3.5 0 1 0 -7.0 0ZM50.00 305.00a3.5 3.5 0 1 0 7.0 0a3.5 3.5 0 1 0 -7.0 0ZM56.00 305.00a3.5 3.5 0 1 0 7.0 0a3.5 3.5 0 1 0 -7.0 0ZM62.00 310.00a3.5 3.5 0 1 0 7.0 0a3.5 3.5 0 1 0 -7.0 0ZM67.00 312.50a3.5 3.5 0 1 0 7.0 0a3.5 3.5 0 1 0 -7.0 0ZM73.00 315.50a3.5 3.5 0 1 0 7.0 0a3.5 3.5 0 1 0 -7.0 0ZM79.00 318.50a3.5 3.5 0 1 0 7.0 0a3.5 3.5 0 1 0 -7.0 0ZM85.00 318.50a3.5 3.5 0 1 0 7.0 0a3.5 3.5 0 1 0 -7.0 0ZM91.00 320.00a3.5 3.5 0 1 0 7.0 0a3.5 3.5 0 1 0 -7.0 0ZM97.00 322.00a3.5 3.5 0 1 0 7.0 0a3.5 3.5 0 1 0 -7.0 0ZM103.00 318.50a3.5 3.5 0 1 0 7.0 0a3.5 3.5 0 1 0 -7.0 0ZM108.00 322.00a3.5 3.5 0 1 0 7.0 0a3.5 3.5 0 1 0 -7.0 0ZM114.00 325.00a3.5 3.5 0 1 0 7.0 0a3.5 3.5 0 1 0 -7.0 0ZM120.00 322.00a3.5 3.5 0 1 0 7.0 0a3.5 3.5 0 1 0 -7.0 0ZM126.00 325.00a3.5 3.5 0 1 0 7.0 0a3.5 3.5 0 1 0 -7.0 0ZM132.00 325.00a3.5 3.5 0 1 0 7.0 0a3.5 3.5 0 1 0 -7.0 0ZM138.00 328.00a3.5 3.5 0 1 0 7.0 0a3.5 3.5 0 1 0 -7.0 0ZM144.00 328.00a3.5 3.5 0 1 0 7.0 0a3.5 3.5 0 1 0 -7.0 0ZM150.00 328.00a3.5 3.5 0 1 0 7.0 0a3.5 3.5 0 1 0 -7.0 0ZM155.00 330.50a3.5 3.5 0 1 0 7.0 0a3.5 3.5 0 1 0 -7.0 0ZM161.00 330.00a3.5 3.5 0 1 0 7.0 0a3.5 3.5 0 1 0 -7.0 0ZM167.00 333.00a3.5 3.5 0 1 0 7.0 0a3.5 3.5 0 1 0 -7.0 0ZM173.00 333.00a3.5 3.5 0 1 0 7.0 0a3.5 3.5 0 1 0 -7.0 0ZM179.00 335.00a3.5 3.5 0 1 0 7.0 0a3.5 3.5 0 1 0 -7.0 0ZM185.00 335.00a3.5 3.5 0 1 0 7.0 0a3.5 3.5 0 1 0 -7.0 0ZM191.00 335.00a3.5 3.5 0 1 0 7.0 0a3.5 3.5 0 1 0 -7.0 0ZM196.00 335.00a3.5 3.5 0 1 0 7.0 0a3.5 3.5 0 1 0 -7.0 0ZM202.00 335.00a3.5 3.5 0 1 0 7.0 0a3.5 3.5 0 1 0 -7.0 0ZM208.00 335.00a3.5 3.5 0 1 0 7.0 0a3.5 3.5 0 1 0 -7.0 0ZM214.00 335.00a3.5 3.5 0 1 0 7.0 0a3.5 3.5 0 1 0 -7.0 0ZM220.00 338.00a3.5 3.5 0 1 0 7.0 0a3.5 3.5 0 1 0 -7.0 0ZM226.00 338.00a3.5 3.5 0 1 0 7.0 0a3.5 3.5 0 1 0 -7.0 0ZM232.00 340.00a3.5 3.5 0 1 0 7.0 0a3.5 3.5 0 1 0 -7.0 0ZM237.00 340.00a3.5 3.5 0 1 0 7.0 0a3.5 3.5 0 1 0 -7.0 0ZM243.00 340.00a3.5 3.5 0 1 0 7.0 0a3.5 3.5 0 1 0 -7.0 0ZM249.00 343.50a3.5 3.5 0 1 0 7.0 0a3.5 3.5 0 1 0 -7.0 0ZM255.00 343.50a3.5 3.5 0 1 0 7.0 0a3.5 3.5 0 1 0 -7.0 0ZM261.00 343.50a3.5 3.5 0 1 0 7.0 0a3.5 3.5 0 1 0 -7.0 0ZM267.00 343.50a3.5 3.5 0 1 0 7.0 0a3.5 3.5 0 1 0 -7.0 0ZM273.00 346.50a3.5 3.5 0 1 0 7.0 0a3.5 3.5 0 1 0 -7.0 0ZM279.00 346.50a3.5 3.5 0 1 0 7.0 0a3.5 3.5 0 1 0 -7.0 0ZM284.00 346.50a3.5 3.5 0 1 0 7.0 0a3.5 3.5 0 1 0 -7.0 0ZM290.00 346.50a3.5 3.5 0 1 0 7.0 0a3.5 3.5 0 1 0 -7.0 0ZM296.00 348.50a3.5 3.5 0 1 0 7.0 0a3.5 3.5 0 1 0 -7.0 0ZM302.00 348.50a3.5 3.5 0 1 0 7.0 0a3.5 3.5 0 1 0 -7.0 0ZM308.00 348.50a3.5 3.5 0 1 0 7.0 0a3.5 3.5 0 1 0 -7.0 0ZM314.00 351.50a3.5 3.5 0 1 0 7.0 0a3.5 3.5 0 1 0 -7.0 0ZM320.00 348.50a3.5 3.5 0 1 0 7.0 0a3.5 3.5 0 1 0 -7.0 0ZM325.00 353.00a3.5 3.5 0 1 0 7.0 0a3.5 3.5 0 1 0 -7.0 0ZM331.00 352.50a3.5 3.5 0 1 0 7.0 0a3.5 3.5 0 1 0 -7.0 0ZM337.00 353.30a3.5 3.5 0 1 0 7.0 0a3.5 3.5 0 1 0 -7.0 0ZM343.00 353.30a3.5 3.5 0 1 0 7.0 0a3.5 3.5 0 1 0 -7.0 0ZM349.00 353.30a3.5 3.5 0 1 0 7.0 0a3.5 3.5 0 1 0 -7.0 0ZM355.00 353.30a3.5 3.5 0 1 0 7.0 0a3.5 3.5 0 1 0 -7.0 0ZM361.00 355.30a3.5 3.5 0 1 0 7.0 0a3.5 3.5 0 1 0 -7.0 0ZM366.00 352.70a3.5 3.5 0 1 0 7.0 0a3.5 3.5 0 1 0 -7.0 0ZM372.00 351.00a3.5 3.5 0 1 0 7.0 0a3.5 3.5 0 1 0 -7.0 0ZM378.00 348.50a3.5 3.5 0 1 0 7.0 0a3.5 3.5 0 1 0 -7.0 0ZM384.00 340.00a3.5 3.5 0 1 0 7.0 0a3.5 3.5 0 1 0 -7.0 0ZM390.00 333.00a3.5 3.5 0 1 0 7.0 0a3.5 3.5 0 1 0 -7.0 0ZM396.00 322.00a3.5 3.5 0 1 0 7.0 0a3.5 3.5 0 1 0 -7.0 0ZM402.00 310.00a3.5 3.5 0 1 0 7.0 0a3.5 3.5 0 1 0 -7.0 0ZM407.00 304.50a3.5 3.5 0 1 0 7.0 0a3.5 3.5 0 1 0 -7.0 0ZM413.00 297.00a3.5 3.5 0 1 0 7.0 0a3.5 3.5 0 1 0 -7.0 0ZM419.00 291.50a3.5 3.5 0 1 0 7.0 0a3.5 3.5 0 1 0 -7.0 0ZM425.00 289.50a3.5 3.5 0 1 0 7.0 0a3.5 3.5 0 1 0 -7.0 0ZM431.00 282.00a3.5 3.5 0 1 0 7.0 0a3.5 3.5 0 1 0 -7.0 0ZM437.00 273.00a3.5 3.5 0 1 0 7.0 0a3.5 3.5 0 1 0 -7.0 0ZM443.00 264.00a3.5 3.5 0 1 0 7.0 0a3.5 3.5 0 1 0 -7.0 0ZM449.00 258.50a3.5 3.5 0 1 0 7.0 0a3.5 3.5 0 1 0 -7.0 0ZM454.00 254.00a3.5 3.5 0 1 0 7.0 0a3.5 3.5 0 1 0 -7.0 0ZM460.00 257.00a3.5 3.5 0 1 0 7.0 0a3.5 3.5 0 1 0 -7.0 0ZM466.00 259.50a3.5 3.5 0 1 0 7.0 0a3.5 3.5 0 1 0 -7.0 0ZM472.00 261.00a3.5 3.5 0 1 0 7.0 0a3.5 3.5 0 1 0 -7.0 0ZM478.00 264.00a3.5 3.5 0 1 0 7.0 0a3.5 3.5 0 1 0 -7.0 0ZM484.00 269.00a3.5 3.5 0 1 0 7.0 0a3.5 3.5 0 1 0 -7.0 0ZM490.00 266.50a3.5 3.5 0 1 0 7.0 0a3.5 3.5 0 1 0 -7.0 0ZM495.00 268.50a3.5 3.5 0 1 0 7.0 0a3.5 3.5 0 1 0 -7.0 0ZM501.00 300.50a3.5 3.5 0 1 0 7.0 0a3.5 3.5 0 1 0 -7.0 0ZM507.00 318.00a3.5 3.5 0 1 0 7.0 0a3.5 3.5 0 1 0 -7.0 0ZM513.00 325.50a3.5 3.5 0 1 0 7.0 0a3.5 3.5 0 1 0 -7.0 0ZM519.00 304.00a3.5 3.5 0 1 0 7.0 0a3.5 3.5 0 1 0 -7.0 0ZM525.00 299.50a3.5 3.5 0 1 0 7.0 0a3.5 3.5 0 1 0 -7.0 0ZM531.00 301.00a3.5 3.5 0 1 0 7.0 0a3.5 3.5 0 1 0 -7.0 0ZM536.00 296.30a3.5 3.5 0 1 0 7.0 0a3.5 3.5 0 1 0 -7.0 0ZM542.00 298.00a3.5 3.5 0 1 0 7.0 0a3.5 3.5 0 1 0 -7.0 0ZM548.00 300.70a3.5 3.5 0 1 0 7.0 0a3.5 3.5 0 1 0 -7.0 0ZM554.00 303.80a3.5 3.5 0 1 0 7.0 0a3.5 3.5 0 1 0 -7.0 0ZM560.00 302.00a3.5 3.5 0 1 0 7.0 0a3.5 3.5 0 1 0 -7.0 0ZM566.00 303.00a3.5 3.5 0 1 0 7.0 0a3.5 3.5 0 1 0 -7.0 0ZM572.00 303.00a3.5 3.5 0 1 0 7.0 0a3.5 3.5 0 1 0 -7.0 0ZM577.00 296.60a3.5 3.5 0 1 0 7.0 0a3.5 3.5 0 1 0 -7.0 0ZM583.00 300.70a3.5 3.5 0 1 0 7.0 0a3.5 3.5 0 1 0 -7.0 0ZM589.00 298.00a3.5 3.5 0 1 0 7.0 0a3.5 3.5 0 1 0 -7.0 0ZM595.00 293.50a3.5 3.5 0 1 0 7.0 0a3.5 3.5 0 1 0 -7.0 0ZM601.00 293.50a3.5 3.5 0 1 0 7.0 0a3.5 3.5 0 1 0 -7.0 0ZM607.00 293.50a3.5 3.5 0 1 0 7.0 0a3.5 3.5 0 1 0 -7.0 0ZM613.00 293.50a3.5 3.5 0 1 0 7.0 0a3.5 3.5 0 1 0 -7.0 0ZM619.00 295.70a3.5 3.5 0 1 0 7.0 0a3.5 3.5 0 1 0 -7.0 0ZM624.00 302.00a3.5 3.5 0 1 0 7.0 0a3.5 3.5 0 1 0 -7.0 0ZM630.00 296.20a3.5 3.5 0 1 0 7.0 0a3.5 3.5 0 1 0 -7.0 0ZM636.00 305.00a3.5 3.5 0 1 0 7.0 0a3.5 3.5 0 1 0 -7.0 0ZM642.00 305.00a3.5 3.5 0 1 0 7.0 0a3.5 3.5 0 1 0 -7.0 0ZM648.00 312.00a3.5 3.5 0 1 0 7.0 0a3.5 3.5 0 1 0 -7.0 0ZM654.00 313.00a3.5 3.5 0 1 0 7.0 0a3.5 3.5 0 1 0 -7.0 0ZM660.00 313.00a3.5 3.5 0 1 0 7.0 0a3.5 3.5 0 1 0 -7.0 0ZM665.00 315.20a3.5 3.5 0 1 0 7.0 0a3.5 3.5 0 1 0 -7.0 0ZM671.00 315.20a3.5 3.5 0 1 0 7.0 0a3.5 3.5 0 1 0 -7.0 0ZM677.00 318.20a3.5 3.5 0 1 0 7.0 0a3.5 3.5 0 1 0 -7.0 0ZM683.00 315.20a3.5 3.5 0 1 0 7.0 0a3.5 3.5 0 1 0 -7.0 0ZM689.00 315.20a3.5 3.5 0 1 0 7.0 0a3.5 3.5 0 1 0 -7.0 0ZM695.00 312.80a3.5 3.5 0 1 0 7.0 0a3.5 3.5 0 1 0 -7.0 0ZM701.00 312.80a3.5 3.5 0 1 0 7.0 0a3.5 3.5 0 1 0 -7.0 0ZM706.00 311.60a3.5 3.5 0 1 0 7.0 0a3.5 3.5 0 1 0 -7.0 0ZM712.00 312.50a3.5 3.5 0 1 0 7.0 0a3.5 3.5 0 1 0 -7.0 0ZM718.00 311.50a3.5 3.5 0 1 0 7.0 0a3.5 3.5 0 1 0 -7.0 0ZM724.00 311.50a3.5 3.5 0 1 0 7.0 0a3.5 3.5 0 1 0 -7.0 0ZM730.00 300.40a3.5 3.5 0 1 0 7.0 0a3.5 3.5 0 1 0 -7.0 0ZM736.00 284.50a3.5 3.5 0 1 0 7.0 0a3.5 3.5 0 1 0 -7.0 0ZM742.00 267.00a3.5 3.5 0 1 0 7.0 0a3.5 3.5 0 1 0 -7.0 0ZM747.00 254.50a3.5 3.5 0 1 0 7.0 0a3.5 3.5 0 1 0 -7.0 0ZM753.00 246.00a3.5 3.5 0 1 0 7.0 0a3.5 3.5 0 1 0 -7.0 0ZM759.00 244.50a3.5 3.5 0 1 0 7.0 0a3.5 3.5 0 1 0 -7.0 0ZM765.00 236.50a3.5 3.5 0 1 0 7.0 0a3.5 3.5 0 1 0 -7.0 0ZM771.00 236.50a3.5 3.5 0 1 0 7.0 0a3.5 3.5 0 1 0 -7.0 0ZM777.00 239.00a3.5 3.5 0 1 0 7.0 0a3.5 3.5 0 1 0 -7.0 0ZM783.00 239.50a3.5 3.5 0 1 0 7.0 0a3.5 3.5 0 1 0 -7.0 0ZM789.00 241.50a3.5 3.5 0 1 0 7.0 0a3.5 3.5 0 1 0 -7.0 0ZM794.00 241.30a3.5 3.5 0 1 0 7.0 0a3.5 3.5 0 1 0 -7.0 0ZM800.00 246.00a3.5 3.5 0 1 0 7.0 0a3.5 3.5 0 1 0 -7.0 0ZM806.00 249.00a3.5 3.5 0 1 0 7.0 0a3.5 3.5 0 1 0 -7.0 0ZM812.00 254.00a3.5 3.5 0 1 0 7.0 0a3.5 3.5 0 1 0 -7.0 0ZM818.00 254.00a3.5 3.5 0 1 0 7.0 0a3.5 3.5 0 1 0 -7.0 0ZM824.00 257.00a3.5 3.5 0 1 0 7.0 0a3.5 3.5 0 1 0 -7.0 0ZM830.00 257.00a3.5 3.5 0 1 0 7.0 0a3.5 3.5 0 1 0 -7.0 0ZM835.00 259.50a3.5 3.5 0 1 0 7.0 0a3.5 3.5 0 1 0 -7.0 0ZM841.00 257.00a3.5 3.5 0 1 0 7.0 0a3.5 3.5 0 1 0 -7.0 0ZM847.00 257.00a3.5 3.5 0 1 0 7.0 0a3.5 3.5 0 1 0 -7.0 0ZM853.00 259.50a3.5 3.5 0 1 0 7.0 0a3.5 3.5 0 1 0 -7.0 0ZM859.00 257.00a3.5 3.5 0 1 0 7.0 0a3.5 3.5 0 1 0 -7.0 0ZM865.00 259.00a3.5 3.5 0 1 0 7.0 0a3.5 3.5 0 1 0 -7.0 0ZM871.00 261.20a3.5 3.5 0 1 0 7.0 0a3.5 3.5 0 1 0 -7.0 0ZM876.00 261.30a3.5 3.5 0 1 0 7.0 0a3.5 3.5 0 1 0 -7.0 0ZM882.00 261.30a3.5 3.5 0 1 0 7.0 0a3.5 3.5 0 1 0 -7.0 0ZM888.00 264.50a3.5 3.5 0 1 0 7.0 0a3.5 3.5 0 1 0 -7.0 0ZM894.00 260.80a3.5 3.5 0 1 0 7.0 0a3.5 3.5 0 1 0 -7.0 0ZM900.00 264.00a3.5 3.5 0 1 0 7.0 0a3.5 3.5 0 1 0 -7.0 0ZM906.00 267.20a3.5 3.5 0 1 0 7.0 0a3.5 3.5 0 1 0 -7.0 0ZM912.00 267.20a3.5 3.5 0 1 0 7.0 0a3.5 3.5 0 1 0 -7.0 0ZM918.00 269.30a3.5 3.5 0 1 0 7.0 0a3.5 3.5 0 1 0 -7.0 0ZM923.00 269.30a3.5 3.5 0 1 0 7.0 0a3.5 3.5 0 1 0 -7.0 0ZM929.00 272.50a3.5 3.5 0 1 0 7.0 0a3.5 3.5 0 1 0 -7.0 0ZM935.00 272.50a3.5 3.5 0 1 0 7.0 0a3.5 3.5 0 1 0 -7.0 0ZM941.00 274.70a3.5 3.5 0 1 0 7.0 0a3.5 3.5 0 1 0 -7.0 0ZM947.00 279.50a3.5 3.5 0 1 0 7.0 0a3.5 3.5 0 1 0 -7.0 0ZM953.00 284.80a3.5 3.5 0 1 0 7.0 0a3.5 3.5 0 1 0 -7.0 0ZM959.00 287.50a3.5 3.5 0 1 0 7.0 0a3.5 3.5 0 1 0 -7.0 0Z" fill="#00ff00"/>
<path d="M47.30 318.60L48.10 318.60L50.60 322.70L50.60 325.80L45.40 325.80L45.40 320.90ZM53.30 318.10L54.10 318.10L56.60 322.20L56.60 325.30L51.40 325.30L51.40 320.40ZM59.30 321.60L60.10 321.60L62.60 325.70L62.60 328.80L57.40 328.80L57.40 323.90ZM65.30 321.60L66.10 321.60L68.60 325.70L68.60 328.80L63.40 328.80L63.40 323.90ZM70.30 321.30L71.10 321.30L73.60 325.40L73.60 328.50L68.40 328.50L68.40 323.60ZM76.30 324.30L77.10 324.30L79.60 328.40L79.60 331.50L74.40 331.50L74.40 326.60ZM82.30 324.30L83.10 324.30L85.60 328.40L85.60 331.50L80.40 331.50L80.40 326.60ZM88.30 326.30L89.10 326.30L91.60 330.40L91.60 333.50L86.40 333.50L86.40 328.60ZM94.30 326.30L95.10 326.30L97.60 330.40L97.60 333.50L92.40 333.50L92.40 328.60ZM100.30 329.30L101.10 329.30L103.60 333.40L103.60 336.50L98.40 336.50L98.40 331.60ZM106.30 329.30L107.10 329.30L109.60 333.40L109.60 336.50L104.40 336.50L104.40 331.60ZM111.30 329.30L112.10 329.30L114.60 333.40L114.60 336.50L109.40 336.50L109.40 331.60ZM117.30 331.60L118.10 331.60L120.60 335.70L120.60 338.80L115.40 338.80L115.40 333.90ZM123.30 334.30L124.10 334.30L126.60 338.40L126.60 341.50L121.40 341.50L121.40 336.60ZM129.30 334.30L130.10 334.30L132.60 338.40L132.60 341.50L127.40 341.50L127.40 336.60ZM135.30 334.30L136.10 334.30L138.60 338.40L138.60 341.50L133.40 341.50L133.40 336.60ZM141.30 336.30L142.10 336.30L144.60 340.40L144.60 343.50L139.40 343.50L139.40 338.60ZM147.30 336.30L148.10 336.30L150.60 340.40L150.60 343.50L145.40 343.50L145.40 338.60ZM153.30 339.30L154.10 339.30L156.60 343.40L156.60 346.50L151.40 346.50L151.40 341.60ZM158.30 339.30L159.10 339.30L161.60 343.40L161.60 346.50L156.40 346.50L156.40 341.60ZM164.30 339.30L165.10 339.30L167.60 343.40L167.60 346.50L162.40 346.50L162.40 341.60ZM170.30 339.30L171.10 339.30L173.60 343.40L173.60 346.50L168.40 346.50L168.40 341.60ZM176.30 339.30L177.10 339.30L179.60 343.40L179.60 346.50L174.40 346.50L174.40 341.60ZM182.30 342.30L183.10 342.30L185.60 346.40L185.60 349.50L180.40 349.50L180.40 344.60ZM188.30 342.30L189.10 342.30L191.60 346.40L191.60 349.50L186.40 349.50L186.40 344.60ZM194.30 342.30L195.10 342.30L197.60 346.40L197.60 349.50L192.40 349.50L192.40 344.60ZM199.30 344.30L200.10 344.30L202.60 348.40L202.60 351.50L197.40 351.50L197.40 346.60ZM205.30 344.30L206.10 344.30L208.60 348.40L208.60 351.50L203.40 351.50L203.40 346.60ZM211.30 344.30L212.10 344.30L214.60 348.40L214.60 351.50L209.40 351.50L209.40 346.60ZM217.30 347.30L218.10 347.30L220.60 351.40L220.60 354.50L215.40 354.50L215.40 349.60ZM223.30 347.30L224.10 347.30L226.60 351.40L226.60 354.50L221.40 354.50L221.40 349.60ZM229.30 349.40L230.10 349.40L232.60 353.50L232.60 356.60L227.40 356.60L227.40 351.70ZM235.30 349.40L236.10 349.40L238.60 353.50L238.60 356.60L233.40 356.60L233.40 351.70ZM240.30 349.40L241.10 349.40L243.60 353.50L243.60 356.60L238.40 356.60L238.40 351.70ZM246.30 351.50L247.10 351.50L249.60 355.60L249.60 358.70L244.40 358.70L244.40 353.80ZM252.30 351.50L253.10 351.50L255.60 355.60L255.60 358.70L250.40 358.70L250.40 353.80ZM258.30 351.50L259.10 351.50L261.60 355.60L261.60 358.70L256.40 358.70L256.40 353.80ZM264.30 354.50L265.10 354.50L267.60 358.60L267.60 361.70L262.40 361.70L262.40 356.80ZM270.30 354.50L271.10 354.50L273.60 358.60L273.60 361.70L268.40 361.70L268.40 356.80ZM276.30 354.50L277.10 354.50L279.60 358.60L279.60 361.70L274.40 361.70L274.40 356.80ZM282.30 354.50L283.10 354.50L285.60 358.60L285.60 361.70L280.40 361.70L280.40 356.80ZM287.30 354.50L288.10 354.50L290.60 358.60L290.60 361.70L285.40 361.70L285.40 356.80ZM293.30 357.50L294.10 357.50L296.60 361.60L296.60 364.70L291.40 364.70L291.40 359.80ZM299.30 357.50L300.10 357.50L302.60 361.60L302.60 364.70L297.40 364.70L297.40 359.80ZM305.30 359.50L306.10 359.50L308.60 363.60L308.60 366.70L303.40 366.70L303.40 361.80ZM311.30 359.50L312.10 359.50L314.60 363.60L314.60 366.70L309.40 366.70L309.40 361.80ZM317.30 359.50L318.10 359.50L320.60 363.60L320.60 366.70L315.40 366.70L315.40 361.80ZM323.30 359.50L324.10 359.50L326.60 363.60L326.60 366.70L321.40 366.70L321.40 361.80ZM328.30 359.50L329.10 359.50L331.60 363.60L331.60 366.70L326.40 366.70L326.40 361.80ZM334.30 362.50L335.10 362.50L337.60 366.60L337.60 369.70L332.40 369.70L332.40 364.80ZM340.30 362.50L341.10 362.50L343.60 366.60L343.60 369.70L338.40 369.70L338.40 364.80ZM346.30 364.40L347.10 364.40L349.60 368.50L349.60 371.60L344.40 371.60L344.40 366.70ZM352.30 364.40L353.10 364.40L355.60 368.50L355.60 371.60L350.40 371.60L350.40 366.70ZM358.30 364.40L359.10 364.40L361.60 368.50L361.60 371.60L356.40 371.60L356.40 366.70ZM364.30 364.40L365.10 364.40L367.60 368.50L367.60 371.60L362.40 371.60L362.40 366.70ZM369.30 364.40L370.10 364.40L372.60 368.50L372.60 371.60L367.40 371.60L367.40 366.70ZM375.30 367.10L376.10 367.10L378.60 371.20L378.60 374.30L373.40 374.30L373.40 369.40ZM381.30 364.40L382.10 364.40L384.60 368.50L384.60 371.60L379.40 371.60L379.40 366.70ZM387.30 359.10L388.10 359.10L390.60 363.20L390.60 366.30L385.40 366.30L385.40 361.40ZM393.30 351.70L394.10 351.70L396.60 355.80L396.60 358.90L391.40 358.90L391.40 354.00ZM399.30 344.10L400.10 344.10L402.60 348.20L402.60 351.30L397.40 351.30L397.40 346.40ZM405.30 335.10L406.10 335.10L408.60 339.20L408.60 342.30L403.40 342.30L403.40 337.40ZM410.30 329.70L411.10 329.70L413.60 333.80L413.60 336.90L408.40 336.90L408.40 332.00ZM416.30 324.40L417.10 324.40L419.60 328.50L419.60 331.60L414.40 331.60L414.40 326.70ZM422.30 324.40L423.10 324.40L425.60 328.50L425.60 331.60L420.40 331.60L420.40 326.70ZM428.30 321.10L429.10 321.10L431.60 325.20L431.60 328.30L426.40 328.30L426.40 323.40ZM434.30 318.60L435.10 318.60L437.60 322.70L437.60 325.80L432.40 325.80L432.40 320.90ZM440.30 308.60L441.10 308.60L443.60 312.70L443.60 315.80L438.40 315.80L438.40 310.90ZM446.30 301.60L447.10 301.60L449.60 305.70L449.60 308.80L444.40 308.80L444.40 303.90ZM452.30 298.60L453.10 298.60L455.60 302.70L455.60 305.80L450.40 305.80L450.40 300.90ZM457.30 293.60L458.10 293.60L460.60 297.70L460.60 300.80L455.40 300.80L455.40 295.90ZM463.30 289.10L464.10 289.10L466.60 293.20L466.60 296.30L461.40 296.30L461.40 291.40ZM469.30 289.10L470.10 289.10L472.60 293.20L472.60 296.30L467.40 296.30L467.40 291.40ZM475.30 287.10L476.10 287.10L478.60 291.20L478.60 294.30L473.40 294.30L473.40 289.40ZM481.30 287.10L482.10 287.10L484.60 291.20L484.60 294.30L479.40 294.30L479.40 289.40ZM487.30 287.10L488.10 287.10L490.60 291.20L490.60 294.30L485.40 294.30L485.40 289.40ZM493.30 281.60L494.10 281.60L496.60 285.70L496.60 288.80L491.40 288.80L491.40 283.90ZM498.30 279.10L499.10 279.10L501.60 283.20L501.60 286.30L496.40 286.30L496.40 281.40ZM504.30 279.10L505.10 279.10L507.60 283.20L507.60 286.30L502.40 286.30L502.40 281.40ZM510.30 279.10L511.10 279.10L513.60 283.20L513.60 286.30L508.40 286.30L508.40 281.40ZM516.30 279.10L517.10 279.10L519.60 283.20L519.60 286.30L514.40 286.30L514.40 281.40ZM522.30 279.10L523.10 279.10L525.60 283.20L525.60 286.30L520.40 286.30L520.40 281.40ZM528.30 282.10L529.10 282.10L531.60 286.20L531.60 289.30L526.40 289.30L526.40 284.40ZM534.30 284.10L535.10 284.10L537.60 288.20L537.60 291.30L532.40 291.30L532.40 286.40ZM539.30 284.50L540.10 284.50L542.60 288.60L542.60 291.70L537.40 291.70L537.40 286.80ZM545.30 288.60L546.10 288.60L548.60 292.70L548.60 295.80L543.40 295.80L543.40 290.90ZM551.30 288.60L552.10 288.60L554.60 292.70L554.60 295.80L549.40 295.80L549.40 290.90ZM557.30 290.80L558.10 290.80L560.60 294.90L560.60 298.00L555.40 298.00L555.40 293.10ZM563.30 290.80L564.10 290.80L566.60 294.90L566.60 298.00L561.40 298.00L561.40 293.10ZM569.30 293.50L570.10 293.50L572.60 297.60L572.60 300.70L567.40 300.70L567.40 295.80ZM575.30 293.50L576.10 293.50L578.60 297.60L578.60 300.70L573.40 300.70L573.40 295.80ZM580.30 293.50L581.10 293.50L583.60 297.60L583.60 300.70L578.40 300.70L578.40 295.80ZM586.30 290.80L587.10 290.80L589.60 294.90L589.60 298.00L584.40 298.00L584.40 293.10ZM592.30 290.80L593.10 290.80L595.60 294.90L595.60 298.00L590.40 298.00L590.40 293.10ZM598.30 293.50L599.10 293.50L601.60 297.60L601.60 300.70L596.40 300.70L596.40 295.80ZM604.30 293.50L605.10 293.50L607.60 297.60L607.60 300.70L602.40 300.70L602.40 295.80ZM610.30 293.50L611.10 293.50L613.60 297.60L613.60 300.70L608.40 300.70L608.40 295.80ZM616.30 293.50L617.10 293.50L619.60 297.60L619.60 300.70L614.40 300.70L614.40 295.80ZM622.30 293.50L623.10 293.50L625.60 297.60L625.60 300.70L620.40 300.70L620.40 295.80ZM627.30 294.00L628.10 294.00L630.60 298.10L630.60 301.20L625.40 301.20L625.40 296.30ZM633.30 294.00L634.10 294.00L636.60 298.10L636.60 301.20L631.40 301.20L631.40 296.30ZM639.30 296.70L640.10 296.70L642.60 300.80L642.60 303.90L637.40 303.90L637.40 299.00ZM645.30 296.70L646.10 296.70L648.60 300.80L648.60 303.90L643.40 303.90L643.40 299.00ZM651.30 296.70L652.10 296.70L654.60 300.80L654.60 303.90L649.40 303.90L649.40 299.00ZM657.30 299.80L658.10 299.80L660.60 303.90L660.60 307.00L655.40 307.00L655.40 302.10ZM663.30 301.60L664.10 301.60L666.60 305.70L666.60 308.80L661.40 308.80L661.40 303.90ZM668.30 301.60L669.10 301.60L671.60 305.70L671.60 308.80L666.40 308.80L666.40 303.90ZM674.30 301.60L675.10 301.60L677.60 305.70L677.60 308.80L672.40 308.80L672.40 303.90ZM680.30 303.40L681.10 303.40L683.60 307.50L683.60 310.60L678.40 310.60L678.40 305.70ZM686.30 310.00L687.10 310.00L689.60 314.10L689.60 317.20L684.40 317.20L684.40 312.30ZM692.30 310.00L693.10 310.00L695.60 314.10L695.60 317.20L690.40 317.20L690.40 312.30ZM698.30 303.40L699.10 303.40L701.60 307.50L701.60 310.60L696.40 310.60L696.40 305.70ZM704.30 303.40L705.10 303.40L707.60 307.50L707.60 310.60L702.40 310.60L702.40 305.70ZM709.30 308.10L710.10 308.10L712.60 312.20L712.60 315.30L707.40 315.30L707.40 310.40ZM715.30 305.10L716.10 305.10L718.60 309.20L718.60 312.30L713.40 312.30L713.40 307.40ZM721.30 304.40L722.10 304.40L724.60 308.50L724.60 311.60L719.40 311.60L719.40 306.70ZM727.30 303.60L728.10 303.60L730.60 307.70L730.60 310.80L725.40 310.80L725.40 305.90ZM733.30 298.90L734.10 298.90L736.60 303.00L736.60 306.10L731.40 306.10L731.40 301.20ZM739.30 293.30L740.10 293.30L742.60 297.40L742.60 300.50L737.40 300.50L737.40 295.60ZM745.30 286.10L746.10 286.10L748.60 290.20L748.60 293.30L743.40 293.30L743.40 288.40ZM750.30 279.10L751.10 279.10L753.60 283.20L753.60 286.30L748.40 286.30L748.40 281.40ZM756.30 273.60L757.10 273.60L759.60 277.70L759.60 280.80L754.40 280.80L754.40 275.90ZM762.30 268.60L763.10 268.60L765.60 272.70L765.60 275.80L760.40 275.80L760.40 270.90ZM768.30 265.60L769.10 265.60L771.60 269.70L771.60 272.80L766.40 272.80L766.40 267.90ZM774.30 265.60L775.10 265.60L777.60 269.70L777.60 272.80L772.40 272.80L772.40 267.90ZM780.30 265.60L781.10 265.60L783.60 269.70L783.60 272.80L778.40 272.80L778.40 267.90ZM786.30 265.60L787.10 265.60L789.60 269.70L789.60 272.80L784.40 272.80L784.40 267.90ZM792.30 265.60L793.10 265.60L795.60 269.70L795.60 272.80L790.40 272.80L790.40 267.90ZM797.30 269.10L798.10 269.10L800.60 273.20L800.60 276.30L795.40 276.30L795.40 271.40ZM803.30 269.10L804.10 269.10L806.60 273.20L806.60 276.30L801.40 276.30L801.40 271.40ZM809.30 269.10L810.10 269.10L812.60 273.20L812.60 276.30L807.40 276.30L807.40 271.40ZM815.30 271.10L816.10 271.10L818.60 275.20L818.60 278.30L813.40 278.30L813.40 273.40ZM821.30 271.10L822.10 271.10L824.60 275.20L824.60 278.30L819.40 278.30L819.40 273.40ZM827.30 274.10L828.10 274.10L830.60 278.20L830.60 281.30L825.40 281.30L825.40 276.40ZM833.30 276.10L834.10 276.10L836.60 280.20L836.60 283.30L831.40 283.30L831.40 278.40ZM838.30 276.10L839.10 276.10L841.60 280.20L841.60 283.30L836.40 283.30L836.40 278.40ZM844.30 279.10L845.10 279.10L847.60 283.20L847.60 286.30L842.40 286.30L842.40 281.40ZM850.30 282.10L851.10 282.10L853.60 286.20L853.60 289.30L848.40 289.30L848.40 284.40ZM856.30 284.10L857.10 284.10L859.60 288.20L859.60 291.30L854.40 291.30L854.40 286.40ZM862.30 284.10L863.10 284.10L865.60 288.20L865.60 291.30L860.40 291.30L860.40 286.40ZM868.30 286.60L869.10 286.60L871.60 290.70L871.60 293.80L866.40 293.80L866.40 288.90ZM874.30 286.60L875.10 286.60L877.60 290.70L877.60 293.80L872.40 293.80L872.40 288.90ZM879.30 288.70L880.10 288.70L882.60 292.80L882.60 295.90L877.40 295.90L877.40 291.00ZM885.30 288.70L886.10 288.70L888.60 292.80L888.60 295.90L883.40 295.90L883.40 291.00ZM891.30 290.80L892.10 290.80L894.60 294.90L894.60 298.00L889.40 298.00L889.40 293.10ZM897.30 290.80L898.10 290.80L900.60 294.90L900.60 298.00L895.40 298.00L895.40 293.10ZM903.30 294.00L904.10 294.00L906.60 298.10L906.60 301.20L901.40 301.20L901.40 296.30ZM909.30 294.00L910.10 294.00L912.60 298.10L912.60 301.20L907.40 301.20L907.40 296.30ZM915.30 297.20L916.10 297.20L918.60 301.30L918.60 304.40L913.40 304.40L913.40 299.50ZM921.30 297.20L922.10 297.20L924.60 301.30L924.60 304.40L919.40 304.40L919.40 299.50ZM926.30 298.80L927.10 298.80L929.60 302.90L929.60 306.00L924.40 306.00L924.40 301.10ZM932.30 298.80L933.10 298.80L935.60 302.90L935.60 306.00L930.40 306.00L930.40 301.10ZM938.30 302.00L939.10 302.00L941.60 306.10L941.60 309.20L936.40 309.20L936.40 304.30ZM944.30 302.00L945.10 302.00L947.60 306.10L947.60 309.20L942.40 309.20L942.40 304.30ZM950.30 303.60L951.10 303.60L953.60 307.70L953.60 310.80L948.40 310.80L948.40 305.90ZM956.30 303.60L957.10 303.60L959.60 307.70L959.60 310.80L954.40 310.80L954.40 305.90ZM962.30 303.60L963.10 303.60L965.60 307.70L965.60 310.80L960.40 310.80L960.40 305.90Z" fill="#ffa500"/>
<path d="M47.50 236.80L51.00 240.20L51.00 243.70L44.00 243.70L44.00 240.20ZM53.50 237.80L57.00 241.20L57.00 244.70L50.00 244.70L50.00 241.20ZM59.50 242.80L63.00 246.20L63.00 249.70L56.00 249.70L56.00 246.20ZM65.50 245.80L69.00 249.20L69.00 252.70L62.00 252.70L62.00 249.20ZM70.50 245.80L74.00 249.20L74.00 252.70L67.00 252.70L67.00 249.20ZM76.50 247.80L80.00 251.20L80.00 254.70L73.00 254.70L73.00 251.20ZM82.50 247.80L86.00 251.20L86.00 254.70L79.00 254.70L79.00 251.20ZM88.50 247.80L92.00 251.20L92.00 254.70L85.00 254.70L85.00 251.20ZM94.50 247.80L98.00 251.20L98.00 254.70L91.00 254.70L91.00 251.20ZM100.50 247.80L104.00 251.20L104.00 254.70L97.00 254.70L97.00 251.20ZM106.50 247.80L110.00 251.20L110.00 254.70L103.00 254.70L103.00 251.20ZM111.50 245.80L115.00 249.20L115.00 252.70L108.00 252.70L108.00 249.20ZM117.50 247.80L121.00 251.20L121.00 254.70L114.00 254.70L114.00 251.20ZM123.50 247.80L127.00 251.20L127.00 254.70L120.00 254.70L120.00 251.20ZM129.50 247.80L133.00 251.20L133.00 254.70L126.00 254.70L126.00 251.20ZM135.50 245.80L139.00 249.20L139.00 252.70L132.00 252.70L132.00 249.20ZM141.50 245.80L145.00 249.20L145.00 252.70L138.00 252.70L138.00 249.20ZM147.50 245.80L151.00 249.20L151.00 252.70L144.00 252.70L144.00 249.20ZM153.50 245.80L157.00 249.20L157.00 252.70L150.00 252.70L150.00 249.20ZM158.50 245.80L162.00 249.20L162.00 252.70L155.00 252.70L155.00 249.20ZM164.50 242.80L168.00 246.20L168.00 249.70L161.00 249.70L161.00 246.20ZM170.50 242.80L174.00 246.20L174.00 249.70L167.00 249.70L167.00 246.20ZM176.50 242.80L180.00 246.20L180.00 249.70L173.00 249.70L173.00 246.20ZM182.50 242.80L186.00 246.20L186.00 249.70L179.00 249.70L179.00 246.20ZM188.50 237.80L192.00 241.20L192.00 244.70L185.00 244.70L185.00 241.20ZM194.50 240.80L198.00 244.20L198.00 247.70L191.00 247.70L191.00 244.20ZM199.50 240.80L203.00 244.20L203.00 247.70L196.00 247.70L196.00 244.20ZM205.50 240.80L209.00 244.20L209.00 247.70L202.00 247.70L202.00 244.20ZM211.50 240.80L215.00 244.20L215.00 247.70L208.00 247.70L208.00 244.20ZM217.50 240.80L221.00 244.20L221.00 247.70L214.00 247.70L214.00 244.20ZM223.50 240.80L227.00 244.20L227.00 247.70L220.00 247.70L220.00 244.20ZM229.50 240.80L233.00 244.20L233.00 247.70L226.00 247.70L226.00 244.20ZM235.50 240.80L239.00 244.20L239.00 247.70L232.00 247.70L232.00 244.20ZM240.50 240.80L244.00 244.20L244.00 247.70L237.00 247.70L237.00 244.20ZM246.50 240.80L250.00 244.20L250.00 247.70L243.00 247.70L243.00 244.20ZM252.50 240.80L256.00 244.20L256.00 247.70L249.00 247.70L249.00 244.20ZM258.50 240.80L262.00 244.20L262.00 247.70L255.00 247.70L255.00 244.20ZM264.50 240.80L268.00 244.20L268.00 247.70L261.00 247.70L261.00 244.20ZM270.50 237.80L274.00 241.20L274.00 244.70L267.00 244.70L267.00 241.20ZM276.50 237.80L280.00 241.20L280.00 244.70L273.00 244.70L273.00 241.20ZM282.50 237.80L286.00 241.20L286.00 244.70L279.00 244.70L279.00 241.20ZM287.50 237.80L291.00 241.20L291.00 244.70L284.00 244.70L284.00 241.20ZM293.50 237.80L297.00 241.20L297.00 244.70L290.00 244.70L290.00 241.20ZM299.50 240.80L303.00 244.20L303.00 247.70L296.00 247.70L296.00 244.20ZM305.50 240.80L309.00 244.20L309.00 247.70L302.00 247.70L302.00 244.20ZM311.50 245.80L315.00 249.20L315.00 252.70L308.00 252.70L308.00 249.20ZM317.50 247.80L321.00 251.20L321.00 254.70L314.00 254.70L314.00 251.20ZM323.50 247.80L327.00 251.20L327.00 254.70L320.00 254.70L320.00 251.20ZM328.50 247.80L332.00 251.20L332.00 254.70L325.00 254.70L325.00 251.20ZM334.50 247.80L338.00 251.20L338.00 254.70L331.00 254.70L331.00 251.20ZM340.50 247.80L344.00 251.20L344.00 254.70L337.00 254.70L337.00 251.20ZM346.50 250.80L350.00 254.20L350.00 257.70L343.00 257.70L343.00 254.20ZM352.50 247.80L356.00 251.20L356.00 254.70L349.00 254.70L349.00 251.20ZM358.50 247.80L362.00 251.20L362.00 254.70L355.00 254.70L355.00 251.20ZM364.50 247.80L368.00 251.20L368.00 254.70L361.00 254.70L361.00 251.20ZM369.50 247.80L373.00 251.20L373.00 254.70L366.00 254.70L366.00 251.20ZM375.50 247.80L379.00 251.20L379.00 254.70L372.00 254.70L372.00 251.20ZM381.50 247.80L385.00 251.20L385.00 254.70L378.00 254.70L378.00 251.20ZM387.50 247.80L391.00 251.20L391.00 254.70L384.00 254.70L384.00 251.20ZM393.50 250.80L397.00 254.20L397.00 257.70L390.00 257.70L390.00 254.20ZM399.50 247.80L403.00 251.20L403.00 254.70L396.00 254.70L396.00 251.20ZM405.50 242.80L409.00 246.20L409.00 249.70L402.00 249.70L402.00 246.20ZM410.50 242.80L414.00 246.20L414.00 249.70L407.00 249.70L407.00 246.20ZM416.50 242.80L420.00 246.20L420.00 249.70L413.00 249.70L413.00 246.20ZM422.50 240.80L426.00 244.20L426.00 247.70L419.00 247.70L419.00 244.20ZM428.50 237.80L432.00 241.20L432.00 244.70L425.00 244.70L425.00 241.20ZM434.50 230.30L438.00 233.70L438.00 237.20L431.00 237.20L431.00 233.70ZM440.50 227.80L444.00 231.20L444.00 234.70L437.00 234.70L437.00 231.20ZM446.50 223.30L450.00 226.70L450.00 230.20L443.00 230.20L443.00 226.70ZM452.50 222.80L456.00 226.20L456.00 229.70L449.00 229.70L449.00 226.20ZM457.50 218.80L461.00 222.20L461.00 225.70L454.00 225.70L454.00 222.20ZM463.50 218.10L467.00 221.50L467.00 225.00L460.00 225.00L460.00 221.50ZM469.50 200.30L473.00 203.70L473.00 207.20L466.00 207.20L466.00 203.70ZM475.50 193.30L479.00 196.70L479.00 200.20L472.00 200.20L472.00 196.70ZM481.50 177.80L485.00 181.20L485.00 184.70L478.00 184.70L478.00 181.20ZM487.50 170.30L491.00 173.70L491.00 177.20L484.00 177.20L484.00 173.70ZM493.50 144.30L497.00 147.70L497.00 151.20L490.00 151.20L490.00 147.70ZM498.50 92.80L502.00 96.20L502.00 99.70L495.00 99.70L495.00 96.20ZM504.50 87.80L508.00 91.20L508.00 94.70L501.00 94.70L501.00 91.20ZM510.50 92.80L514.00 96.20L514.00 99.70L507.00 99.70L507.00 96.20ZM516.50 101.10L520.00 104.50L520.00 108.00L513.00 108.00L513.00 104.50ZM522.50 75.30L526.00 78.70L526.00 82.20L519.00 82.20L519.00 78.70ZM528.50 105.80L532.00 109.20L532.00 112.70L525.00 112.70L525.00 109.20ZM534.50 91.30L538.00 94.70L538.00 98.20L531.00 98.20L531.00 94.70ZM539.50 83.00L543.00 86.40L543.00 89.90L536.00 89.90L536.00 86.40ZM545.50 121.00L549.00 124.40L549.00 127.90L542.00 127.90L542.00 124.40ZM551.50 118.30L555.00 121.70L555.00 125.20L548.00 125.20L548.00 121.70ZM557.50 119.00L561.00 122.40L561.00 125.90L554.00 125.90L554.00 122.40ZM563.50 103.60L567.00 107.00L567.00 110.50L560.00 110.50L560.00 107.00ZM569.50 88.30L573.00 91.70L573.00 95.20L566.00 95.20L566.00 91.70ZM575.50 99.00L579.00 102.40L579.00 105.90L572.00 105.90L572.00 102.40ZM580.50 91.00L584.00 94.40L584.00 97.90L577.00 97.90L577.00 94.40ZM586.50 81.00L590.00 84.40L590.00 87.90L583.00 87.90L583.00 84.40ZM592.50 84.30L596.00 87.70L596.00 91.20L589.00 91.20L589.00 87.70ZM598.50 75.00L602.00 78.40L602.00 81.90L595.00 81.90L595.00 78.40ZM604.50 73.00L608.00 76.40L608.00 79.90L601.00 79.90L601.00 76.40ZM610.50 93.00L614.00 96.40L614.00 99.90L607.00 99.90L607.00 96.40ZM616.50 68.30L620.00 71.70L620.00 75.20L613.00 75.20L613.00 71.70ZM622.50 93.00L626.00 96.40L626.00 99.90L619.00 99.90L619.00 96.40ZM627.50 99.00L631.00 102.40L631.00 105.90L624.00 105.90L624.00 102.40ZM633.50 83.00L637.00 86.40L637.00 89.90L630.00 89.90L630.00 86.40ZM639.50 90.60L643.00 94.00L643.00 97.50L636.00 97.50L636.00 94.00ZM645.50 87.30L649.00 90.70L649.00 94.20L642.00 94.20L642.00 90.70ZM651.50 92.50L655.00 95.90L655.00 99.40L648.00 99.40L648.00 95.90ZM657.50 92.50L661.00 95.90L661.00 99.40L654.00 99.40L654.00 95.90ZM663.50 98.50L667.00 101.90L667.00 105.40L660.00 105.40L660.00 101.90ZM668.50 100.80L672.00 104.20L672.00 107.70L665.00 107.70L665.00 104.20ZM674.50 105.30L678.00 108.70L678.00 112.20L671.00 112.20L671.00 108.70ZM680.50 107.50L684.00 110.90L684.00 114.40L677.00 114.40L677.00 110.90ZM686.50 115.80L690.00 119.20L690.00 122.70L683.00 122.70L683.00 119.20ZM692.50 125.50L696.00 128.90L696.00 132.40L689.00 132.40L689.00 128.90ZM698.50 128.50L702.00 131.90L702.00 135.40L695.00 135.40L695.00 131.90ZM704.50 130.80L708.00 134.20L708.00 137.70L701.00 137.70L701.00 134.20ZM709.50 133.80L713.00 137.20L713.00 140.70L706.00 140.70L706.00 137.20ZM715.50 135.30L719.00 138.70L719.00 142.20L712.00 142.20L712.00 138.70ZM721.50 138.70L725.00 142.10L725.00 145.60L718.00 145.60L718.00 142.10ZM727.50 141.40L731.00 144.80L731.00 148.30L724.00 148.30L724.00 144.80ZM733.50 143.80L737.00 147.20L737.00 150.70L730.00 150.70L730.00 147.20ZM739.50 146.80L743.00 150.20L743.00 153.70L736.00 153.70L736.00 150.20ZM745.50 149.10L749.00 152.50L749.00 156.00L742.00 156.00L742.00 152.50ZM750.50 151.40L754.00 154.80L754.00 158.30L747.00 158.30L747.00 154.80ZM756.50 153.70L760.00 157.10L760.00 160.60L753.00 160.60L753.00 157.10ZM762.50 156.60L766.00 160.00L766.00 163.50L759.00 163.50L759.00 160.00ZM768.50 159.60L772.00 163.00L772.00 166.50L765.00 166.50L765.00 163.00ZM774.50 161.90L778.00 165.30L778.00 168.80L771.00 168.80L771.00 165.30ZM780.50 163.60L784.00 167.00L784.00 170.50L777.00 170.50L777.00 167.00ZM786.50 163.60L790.00 167.00L790.00 170.50L783.00 170.50L783.00 167.00ZM792.50 166.60L796.00 170.00L796.00 173.50L789.00 173.50L789.00 170.00ZM797.50 166.60L801.00 170.00L801.00 173.50L794.00 173.50L794.00 170.00ZM803.50 168.30L807.00 171.70L807.00 175.20L800.00 175.20L800.00 171.70ZM809.50 169.10L813.00 172.50L813.00 176.00L806.00 176.00L806.00 172.50ZM815.50 171.90L819.00 175.30L819.00 178.80L812.00 178.80L812.00 175.30ZM821.50 177.50L825.00 180.90L825.00 184.40L818.00 184.40L818.00 180.90ZM827.50 186.10L831.00 189.50L831.00 193.00L824.00 193.00L824.00 189.50ZM833.50 190.10L837.00 193.50L837.00 197.00L830.00 197.00L830.00 193.50ZM838.50 194.80L842.00 198.20L842.00 201.70L835.00 201.70L835.00 198.20ZM844.50 196.80L848.00 200.20L848.00 203.70L841.00 203.70L841.00 200.20ZM850.50 200.10L854.00 203.50L854.00 207.00L847.00 207.00L847.00 203.50ZM856.50 204.80L860.00 208.20L860.00 211.70L853.00 211.70L853.00 208.20ZM862.50 212.80L866.00 216.20L866.00 219.70L859.00 219.70L859.00 216.20ZM868.50 217.80L872.00 221.20L872.00 224.70L865.00 224.70L865.00 221.20ZM874.50 215.00L878.00 218.40L878.00 221.90L871.00 221.90L871.00 218.40ZM879.50 215.00L883.00 218.40L883.00 221.90L876.00 221.90L876.00 218.40ZM885.50 215.00L889.00 218.40L889.00 221.90L882.00 221.90L882.00 218.40ZM891.50 215.00L895.00 218.40L895.00 221.90L888.00 221.90L888.00 218.40ZM897.50 215.00L901.00 218.40L901.00 221.90L894.00 221.90L894.00 218.40ZM903.50 217.80L907.00 221.20L907.00 224.70L900.00 224.70L900.00 221.20ZM909.50 227.70L913.00 231.10L913.00 234.60L906.00 234.60L906.00 231.10ZM915.50 232.70L919.00 236.10L919.00 239.60L912.00 239.60L912.00 236.10ZM921.50 236.05L925.00 239.45L925.00 242.95L918.00 242.95L918.00 239.45ZM926.50 237.70L930.00 241.10L930.00 244.60L923.00 244.60L923.00 241.10ZM932.50 237.70L936.00 241.10L936.00 244.60L929.00 244.60L929.00 241.10ZM938.50 241.05L942.00 244.45L942.00 247.95L935.00 247.95L935.00 244.45ZM944.50 242.70L948.00 246.10L948.00 249.60L941.00 249.60L941.00 246.10ZM950.50 242.70L954.00 246.10L954.00 249.60L947.00 249.60L947.00 246.10ZM956.50 245.60L960.00 249.00L960.00 252.50L953.00 252.50L953.00 249.00ZM962.50 242.70L966.00 246.10L966.00 249.60L959.00 249.60L959.00 246.10Z" fill="#0000ff"/>
<path d="M44 307H69V312H44ZM47 312h3v1h-1v1h-2ZM53 312h3v1h-1v1h-2ZM59 312h3v1h-1v1h-2ZM65 312h3v1h-1v1h-2ZM67 348H368V353H67ZM70 353h3v1h-1v1h-2ZM76 353h3v1h-1v1h-2ZM82 353h3v1h-1v1h-2ZM88 353h3v1h-1v1h-2ZM94 353h3v1h-1v1h-2ZM100 353h3v1h-1v1h-2ZM106 353h3v1h-1v1h-2ZM111 353h3v1h-1v1h-2ZM117 353h3v1h-1v1h-2ZM123 353h3v1h-1v1h-2ZM129 353h3v1h-1v1h-2ZM135 353h3v1h-1v1h-2ZM141 353h3v1h-1v1h-2ZM147 353h3v1h-1v1h-2ZM153 353h3v1h-1v1h-2ZM158 353h3v1h-1v1h-2ZM164 353h3v1h-1v1h-2ZM170 353h3v1h-1v1h-2ZM176 353h3v1h-1v1h-2ZM182 353h3v1h-1v1h-2ZM188 353h3v1h-1v1h-2ZM194 353h3v1h-1v1h-2ZM199 353h3v1h-1v1h-2ZM205 353h3v1h-1v1h-2ZM211 353h3v1h-1v1h-2ZM217 353h3v1h-1v1h-2ZM223 353h3v1h-1v1h-2ZM229 353h3v1h-1v1h-2ZM235 353h3v1h-1v1h-2ZM240 353h3v1h-1v1h-2ZM246 353h3v1h-1v1h-2ZM252 353h3v1h-1v1h-2ZM258 353h3v1h-1v1h-2ZM264 353h3v1h-1v1h-2ZM270 353h3v1h-1v1h-2ZM276 353h3v1h-1v1h-2ZM282 353h3v1h-1v1h-2ZM287 353h3v1h-1v1h-2ZM293 353h3v1h-1v1h-2ZM299 353h3v1h-1v1h-2ZM305 353h3v1h-1v1h-2ZM311 353h3v1h-1v1h-2ZM317 353h3v1h-1v1h-2ZM323 353h3v1h-1v1h-2ZM328 353h3v1h-1v1h-2ZM334 353h3v1h-1v1h-2ZM340 353h3v1h-1v1h-2ZM346 353h3v1h-1v1h-2ZM352 353h3v1h-1v1h-2ZM358 353h3v1h-1v1h-2ZM364 353h3v1h-1v1h-2ZM366 266H403V271H366ZM369 271h3v1h-1v1h-2ZM375 271h3v1h-1v1h-2ZM381 271h3v1h-1v1h-2ZM387 271h3v1h-1v1h-2ZM393 271h3v1h-1v1h-2ZM399 271h3v1h-1v1h-2ZM402 307H420V312H402ZM405 312h3v1h-1v1h-2ZM410 312h3v1h-1v1h-2ZM416 312h3v1h-1v1h-2ZM419 266H444V271H419ZM422 271h3v1h-1v1h-2ZM428 271h3v1h-1v1h-2ZM434 271h3v1h-1v1h-2ZM440 271h3v1h-1v1h-2ZM443 307H719V312H443ZM446 312h3v1h-1v1h-2ZM452 312h3v1h-1v1h-2ZM457 312h3v1h-1v1h-2ZM463 312h3v1h-1v1h-2ZM469 312h3v1h-1v1h-2ZM475 312h3v1h-1v1h-2ZM481 312h3v1h-1v1h-2ZM487 312h3v1h-1v1h-2ZM493 312h3v1h-1v1h-2ZM498 312h3v1h-1v1h-2ZM504 312h3v1h-1v1h-2ZM510 312h3v1h-1v1h-2ZM516 312h3v1h-1v1h-2ZM522 312h3v1h-1v1h-2ZM528 312h3v1h-1v1h-2ZM534 312h3v1h-1v1h-2ZM539 312h3v1h-1v1h-2ZM545 312h3v1h-1v1h-2ZM551 312h3v1h-1v1h-2ZM557 312h3v1h-1v1h-2ZM563 312h3v1h-1v1h-2ZM569 312h3v1h-1v1h-2ZM575 312h3v1h-1v1h-2ZM580 312h3v1h-1v1h-2ZM586 312h3v1h-1v1h-2ZM592 312h3v1h-1v1h-2ZM598 312h3v1h-1v1h-2ZM604 312h3v1h-1v1h-2ZM610 312h3v1h-1v1h-2ZM616 312h3v1h-1v1h-2ZM622 312h3v1h-1v1h-2ZM627 312h3v1h-1v1h-2ZM633 312h3v1h-1v1h-2ZM639 312h3v1h-1v1h-2ZM645 312h3v1h-1v1h-2ZM651 312h3v1h-1v1h-2ZM657 312h3v1h-1v1h-2ZM663 312h3v1h-1v1h-2ZM668 312h3v1h-1v1h-2ZM674 312h3v1h-1v1h-2ZM680 312h3v1h-1v1h-2ZM686 312h3v1h-1v1h-2ZM692 312h3v1h-1v1h-2ZM698 312h3v1h-1v1h-2ZM704 312h3v1h-1v1h-2ZM709 312h3v1h-1v1h-2ZM715 312h3v1h-1v1h-2ZM718 266H743V271H718ZM721 271h3v1h-1v1h-2ZM727 271h3v1h-1v1h-2ZM733 271h3v1h-1v1h-2ZM739 271h3v1h-1v1h-2ZM742 307H913V312H742ZM745 312h3v1h-1v1h-2ZM750 312h3v1h-1v1h-2ZM756 312h3v1h-1v1h-2ZM762 312h3v1h-1v1h-2ZM768 312h3v1h-1v1h-2ZM774 312h3v1h-1v1h-2ZM780 312h3v1h-1v1h-2ZM786 312h3v1h-1v1h-2ZM792 312h3v1h-1v1h-2ZM797 312h3v1h-1v1h-2ZM803 312h3v1h-1v1h-2ZM809 312h3v1h-1v1h-2ZM815 312h3v1h-1v1h-2ZM821 312h3v1h-1v1h-2ZM827 312h3v1h-1v1h-2ZM833 312h3v1h-1v1h-2ZM838 312h3v1h-1v1h-2ZM844 312h3v1h-1v1h-2ZM850 312h3v1h-1v1h-2ZM856 312h3v1h-1v1h-2ZM862 312h3v1h-1v1h-2ZM868 312h3v1h-1v1h-2ZM874 312h3v1h-1v1h-2ZM879 312h3v1h-1v1h-2ZM885 312h3v1h-1v1h-2ZM891 312h3v1h-1v1h-2ZM897 312h3v1h-1v1h-2ZM903 312h3v1h-1v1h-2ZM909 312h3v1h-1v1h-2ZM912 348H966V353H912ZM915 353h3v1h-1v1h-2ZM921 353h3v1h-1v1h-2ZM926 353h3v1h-1v1h-2ZM932 353h3v1h-1v1h-2ZM938 353h3v1h-1v1h-2ZM944 353h3v1h-1v1h-2ZM950 353h3v1h-1v1h-2ZM956 353h3v1h-1v1h-2ZM962 353h3v1h-1v1h-2Z" fill="#ff0000" shape-rendering="crispEdges"/>
<path d="M47.5 25V560" stroke="#000" stroke-width="1" fill="none" shape-rendering="crispEdges"/>
<rect x="704.5" y="20.5" width="84" height="98" fill="#fff" stroke="#000" stroke-width="1"/>
<text x="769.4" y="40" font-family="Liberation Mono" font-size="11.8" letter-spacing="-1.08" stroke="#000" stroke-width="0.2" text-anchor="end">Lounge-20</text>
<rect x="776.5" y="27.5" width="6" height="15" fill="#87ceeb" stroke="#000" stroke-width="1"/>
<text x="769.4" y="57" font-family="Liberation Mono" font-size="11.8" letter-spacing="-1.08" stroke="#000" stroke-width="0.2" text-anchor="end">Hall-20</text>
<rect x="776.5" y="44.5" width="6" height="15" fill="#00ff00" stroke="#000" stroke-width="1"/>
<text x="769.4" y="74" font-family="Liberation Mono" font-size="11.8" letter-spacing="-1.08" stroke="#000" stroke-width="0.2" text-anchor="end">Dining-20</text>
<rect x="776.5" y="61.5" width="6" height="15" fill="#ffa500" stroke="#000" stroke-width="1"/>
<text x="769.4" y="91" font-family="Liberation Mono" font-size="11.8" letter-spacing="-1.08" stroke="#000" stroke-width="0.2" text-anchor="end">Outside-10</text>
<rect x="776.5" y="78.5" width="6" height="15" fill="#0000ff" stroke="#000" stroke-width="1"/>
<text x="769.4" y="108" font-family="Liberation Mono" font-size="11.8" letter-spacing="-1.08" stroke="#000" stroke-width="0.2" text-anchor="end">Heat</text>
<rect x="776.5" y="95.5" width="6" height="15" fill="#ff0000" stroke="#000" stroke-width="1"/>
</svg></body></html>
